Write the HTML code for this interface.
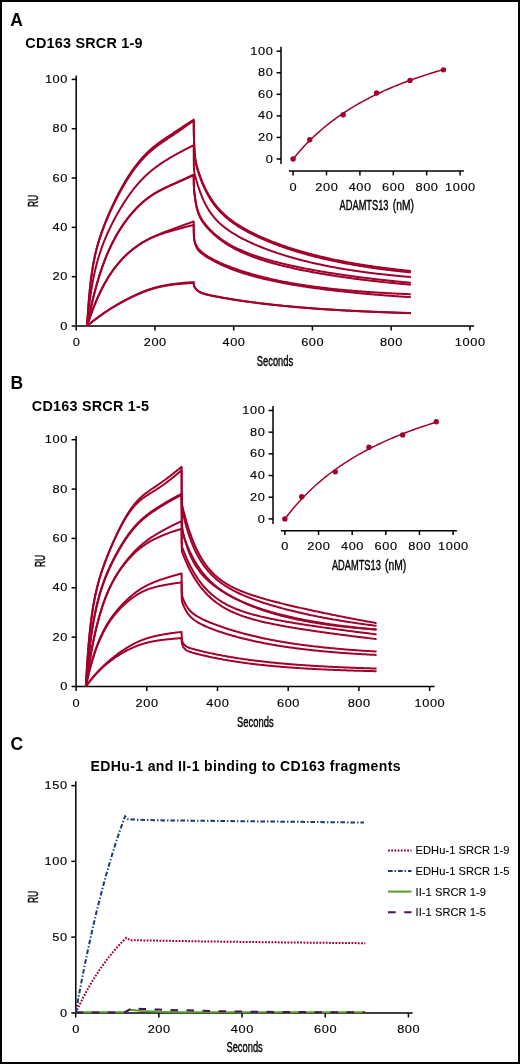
<!DOCTYPE html>
<html><head><meta charset="utf-8"><style>
html,body{margin:0;padding:0;background:#fff;}
#f{position:relative;width:520px;height:1064px;overflow:hidden;background:#fff;}
#f svg{position:absolute;left:0;top:0;will-change:transform;}
#bd{position:absolute;left:0;top:0;width:520px;height:1064px;box-sizing:border-box;border:2px solid #000;}
text{font-family:"Liberation Sans", sans-serif;fill:#000;}
</style></head><body><div id="f">
<svg width="520" height="1064" viewBox="0 0 520 1064">
<text x="10.3" y="25.7" font-size="17.5" font-weight="bold">A</text>
<text x="25.3" y="48" font-size="14.4" font-weight="bold" letter-spacing="0.22">CD163 SRCR 1-9</text>
<line x1="76.2" y1="75.4" x2="76.2" y2="326" stroke="#000" stroke-width="1.5" fill="none"/>
<line x1="71.7" y1="326" x2="76.2" y2="326" stroke="#000" stroke-width="1.5" fill="none"/>
<text transform="translate(68 329.6) scale(1.1 1)" font-size="11.6" text-anchor="end" letter-spacing="0.55" stroke="#000" stroke-width="0.15">0</text>
<line x1="71.7" y1="276.68" x2="76.2" y2="276.68" stroke="#000" stroke-width="1.5" fill="none"/>
<text transform="translate(68 280.28) scale(1.1 1)" font-size="11.6" text-anchor="end" letter-spacing="0.55" stroke="#000" stroke-width="0.15">20</text>
<line x1="71.7" y1="227.36" x2="76.2" y2="227.36" stroke="#000" stroke-width="1.5" fill="none"/>
<text transform="translate(68 230.96) scale(1.1 1)" font-size="11.6" text-anchor="end" letter-spacing="0.55" stroke="#000" stroke-width="0.15">40</text>
<line x1="71.7" y1="178.04" x2="76.2" y2="178.04" stroke="#000" stroke-width="1.5" fill="none"/>
<text transform="translate(68 181.64) scale(1.1 1)" font-size="11.6" text-anchor="end" letter-spacing="0.55" stroke="#000" stroke-width="0.15">60</text>
<line x1="71.7" y1="128.72" x2="76.2" y2="128.72" stroke="#000" stroke-width="1.5" fill="none"/>
<text transform="translate(68 132.32) scale(1.1 1)" font-size="11.6" text-anchor="end" letter-spacing="0.55" stroke="#000" stroke-width="0.15">80</text>
<line x1="71.7" y1="79.4" x2="76.2" y2="79.4" stroke="#000" stroke-width="1.5" fill="none"/>
<text transform="translate(68 83) scale(1.1 1)" font-size="11.6" text-anchor="end" letter-spacing="0.55" stroke="#000" stroke-width="0.15">100</text>
<line x1="76.2" y1="326" x2="474.1" y2="326" stroke="#000" stroke-width="1.5" fill="none"/>
<line x1="76.2" y1="326" x2="76.2" y2="330.5" stroke="#000" stroke-width="1.5" fill="none"/>
<text transform="translate(76.5 346.1) scale(1.1 1)" font-size="11.6" text-anchor="middle" letter-spacing="0.55" stroke="#000" stroke-width="0.15">0</text>
<line x1="154.94" y1="326" x2="154.94" y2="330.5" stroke="#000" stroke-width="1.5" fill="none"/>
<text transform="translate(155.24 346.1) scale(1.1 1)" font-size="11.6" text-anchor="middle" letter-spacing="0.55" stroke="#000" stroke-width="0.15">200</text>
<line x1="233.68" y1="326" x2="233.68" y2="330.5" stroke="#000" stroke-width="1.5" fill="none"/>
<text transform="translate(233.98 346.1) scale(1.1 1)" font-size="11.6" text-anchor="middle" letter-spacing="0.55" stroke="#000" stroke-width="0.15">400</text>
<line x1="312.42" y1="326" x2="312.42" y2="330.5" stroke="#000" stroke-width="1.5" fill="none"/>
<text transform="translate(312.72 346.1) scale(1.1 1)" font-size="11.6" text-anchor="middle" letter-spacing="0.55" stroke="#000" stroke-width="0.15">600</text>
<line x1="391.16" y1="326" x2="391.16" y2="330.5" stroke="#000" stroke-width="1.5" fill="none"/>
<text transform="translate(391.46 346.1) scale(1.1 1)" font-size="11.6" text-anchor="middle" letter-spacing="0.55" stroke="#000" stroke-width="0.15">800</text>
<line x1="469.9" y1="326" x2="469.9" y2="330.5" stroke="#000" stroke-width="1.5" fill="none"/>
<text transform="translate(470.2 346.1) scale(1.1 1)" font-size="11.6" text-anchor="middle" letter-spacing="0.55" stroke="#000" stroke-width="0.15">1000</text>
<g fill="none" stroke="#a1002b" stroke-width="2.0" stroke-linejoin="round" stroke-linecap="butt">
<path d="M87.11 326 L87.3 322.57 L87.5 319.3 L87.7 316.17 L87.89 313.17 L88.09 310.3 L88.29 307.55 L88.48 304.92 L88.68 302.39 L88.88 299.97 L89.07 297.64 L89.27 295.41 L89.47 293.27 L89.66 291.21 L89.86 289.23 L90.06 287.32 L90.26 285.49 L90.45 283.71 L90.65 282.01 L90.85 280.36 L91.04 278.77 L91.24 277.23 L91.44 275.75 L91.63 274.31 L91.83 272.92 L92.03 271.57 L92.22 270.27 L92.42 269 L92.62 267.77 L92.81 266.58 L93.01 265.42 L93.21 264.3 L93.4 263.2 L93.6 262.13 L93.8 261.09 L94 260.08 L94.19 259.09 L94.39 258.12 L94.59 257.18 L94.78 256.26 L94.98 255.36 L95.18 254.47 L95.37 253.61 L95.57 252.76 L95.77 251.94 L95.96 251.12 L96.16 250.32 L96.36 249.54 L96.55 248.77 L96.75 248.01 L96.95 247.27 L97.14 246.53 L97.34 245.81 L97.54 245.1 L97.74 244.4 L97.93 243.71 L98.13 243.03 L98.33 242.36 L98.52 241.7 L98.72 241.04 L98.92 240.39 L99.11 239.76 L99.31 239.12 L99.51 238.5 L99.7 237.88 L99.82 237.52 L100.22 236.31 L100.61 235.12 L101 233.96 L101.4 232.82 L101.79 231.7 L102.18 230.59 L102.58 229.5 L102.97 228.43 L103.37 227.37 L103.76 226.32 L104.15 225.29 L104.55 224.27 L104.94 223.26 L105.33 222.27 L105.73 221.28 L106.12 220.3 L106.51 219.34 L106.91 218.38 L107.3 217.43 L107.7 216.49 L108.09 215.56 L108.48 214.64 L108.88 213.73 L109.27 212.82 L109.66 211.92 L110.06 211.03 L110.45 210.15 L110.85 209.27 L111.24 208.4 L111.63 207.54 L112.03 206.68 L112.42 205.83 L112.81 204.99 L113.21 204.15 L113.6 203.32 L114 202.5 L114.39 201.68 L114.78 200.87 L115.18 200.07 L115.57 199.27 L115.96 198.47 L116.36 197.69 L116.75 196.91 L117.14 196.13 L117.54 195.36 L117.93 194.6 L118.33 193.84 L118.72 193.08 L119.11 192.34 L119.51 191.59 L119.9 190.86 L120.29 190.13 L120.69 189.4 L121.08 188.68 L121.48 187.97 L121.87 187.26 L122.26 186.55 L122.66 185.85 L123.05 185.16 L123.44 184.47 L123.84 183.79 L124.23 183.11 L124.63 182.44 L125.02 181.77 L125.41 181.11 L125.81 180.46 L126.2 179.81 L126.59 179.16 L126.99 178.52 L127.38 177.89 L127.77 177.26 L128.17 176.63 L128.56 176.01 L128.96 175.4 L129.35 174.79 L129.74 174.19 L130.14 173.59 L130.53 173 L130.92 172.41 L131.32 171.83 L131.71 171.26 L132.11 170.69 L132.5 170.12 L132.89 169.56 L133.29 169.01 L133.68 168.46 L134.07 167.92 L134.47 167.38 L134.86 166.85 L135.25 166.32 L135.65 165.79 L136.04 165.28 L136.44 164.77 L136.83 164.26 L137.22 163.76 L137.62 163.26 L138.01 162.77 L138.4 162.28 L138.8 161.8 L139.19 161.32 L139.59 160.85 L139.98 160.38 L140.37 159.92 L140.77 159.46 L141.16 159.01 L141.55 158.56 L141.95 158.11 L142.34 157.68 L142.74 157.24 L143.13 156.81 L143.52 156.39 L143.92 155.97 L144.31 155.55 L144.7 155.14 L145.1 154.73 L145.49 154.33 L145.88 153.94 L146.28 153.54 L146.67 153.15 L147.07 152.77 L147.46 152.39 L147.85 152.01 L148.25 151.64 L148.64 151.27 L149.03 150.91 L149.43 150.55 L149.82 150.19 L150.22 149.84 L150.61 149.49 L151 149.14 L151.4 148.8 L151.79 148.46 L152.18 148.12 L152.58 147.79 L152.97 147.46 L153.37 147.14 L153.76 146.82 L154.15 146.5 L154.55 146.18 L154.94 145.86 L155.33 145.55 L155.73 145.25 L156.12 144.94 L156.51 144.64 L156.91 144.34 L157.3 144.04 L157.7 143.74 L158.09 143.45 L158.48 143.16 L158.88 142.87 L159.27 142.58 L159.66 142.29 L160.06 142.01 L160.45 141.73 L160.85 141.45 L161.24 141.17 L161.63 140.9 L162.03 140.62 L162.42 140.35 L162.81 140.07 L163.21 139.8 L163.6 139.53 L164 139.26 L164.39 139 L164.78 138.73 L165.18 138.46 L165.57 138.2 L165.96 137.93 L166.36 137.67 L166.75 137.41 L167.14 137.14 L167.54 136.88 L167.93 136.62 L168.33 136.36 L168.72 136.09 L169.11 135.83 L169.51 135.57 L169.9 135.31 L170.29 135.05 L170.69 134.79 L171.08 134.53 L171.48 134.27 L171.87 134.01 L172.26 133.75 L172.66 133.49 L173.05 133.23 L173.44 132.97 L173.84 132.71 L174.23 132.45 L174.62 132.19 L175.02 131.93 L175.41 131.67 L175.81 131.41 L176.2 131.15 L176.59 130.89 L176.99 130.63 L177.38 130.36 L177.77 130.1 L178.17 129.84 L178.56 129.58 L178.96 129.32 L179.35 129.06 L179.74 128.8 L180.14 128.53 L180.53 128.27 L180.92 128.01 L181.32 127.75 L181.71 127.49 L182.11 127.22 L182.5 126.96 L182.89 126.7 L183.29 126.44 L183.68 126.18 L184.07 125.92 L184.47 125.65 L184.86 125.39 L185.25 125.13 L185.65 124.87 L186.04 124.61 L186.44 124.35 L186.83 124.09 L187.22 123.83 L187.62 123.57 L188.01 123.31 L188.4 123.05 L188.8 122.79 L189.19 122.54 L189.59 122.28 L189.98 122.02 L190.37 121.77 L190.77 121.51 L191.16 121.26 L191.55 121.01 L191.95 120.76 L192.34 120.51 L192.74 120.26 L193.13 120.01 L193.52 119.76 L193.68 119.66 L193.68 119.66 L193.78 128.9 L193.88 134.77 L193.98 138.94 L194.07 142.17 L194.17 144.83 L194.27 147.1 L194.37 149.06 L194.47 150.79 L194.57 152.33 L194.66 153.69 L194.76 154.92 L194.86 156.02 L194.96 157.02 L195.06 157.94 L195.16 158.77 L195.25 159.53 L195.35 160.24 L195.45 160.9 L195.55 161.51 L195.65 162.09 L195.75 162.63 L195.85 163.15 L195.94 163.64 L196.04 164.1 L196.14 164.55 L196.24 164.99 L196.34 165.41 L196.44 165.81 L196.53 166.21 L196.63 166.59 L196.73 166.97 L196.83 167.34 L196.93 167.7 L197.03 168.05 L197.12 168.4 L197.22 168.74 L197.32 169.08 L197.42 169.42 L197.52 169.75 L197.62 170.08 L197.72 170.4 L197.81 170.72 L197.91 171.04 L198.01 171.35 L198.11 171.67 L198.21 171.98 L198.31 172.28 L198.4 172.59 L198.8 173.79 L199.19 174.95 L199.59 176.09 L199.98 177.2 L200.37 178.28 L200.77 179.34 L201.16 180.37 L201.55 181.38 L201.95 182.37 L202.34 183.34 L202.74 184.28 L203.13 185.2 L203.52 186.11 L203.92 186.99 L204.31 187.85 L204.7 188.7 L205.1 189.53 L205.49 190.34 L205.88 191.13 L206.28 191.91 L206.67 192.67 L207.07 193.42 L207.46 194.15 L207.85 194.87 L208.25 195.57 L208.64 196.26 L209.03 196.93 L209.43 197.59 L209.82 198.24 L210.22 198.88 L210.61 199.51 L211 200.12 L211.4 200.72 L211.79 201.31 L212.18 201.89 L212.58 202.46 L212.97 203.02 L213.37 203.57 L213.76 204.11 L214.15 204.64 L214.55 205.17 L214.94 205.68 L215.33 206.19 L215.73 206.68 L216.12 207.17 L216.51 207.65 L216.91 208.12 L217.3 208.59 L218.48 209.94 L219.66 211.24 L220.85 212.48 L222.03 213.66 L223.21 214.8 L224.39 215.9 L225.57 216.95 L226.75 217.97 L227.93 218.95 L229.11 219.9 L230.29 220.82 L231.48 221.71 L232.66 222.58 L233.84 223.42 L235.02 224.23 L236.2 225.03 L237.38 225.8 L238.56 226.56 L239.74 227.3 L240.92 228.02 L242.11 228.72 L243.29 229.41 L244.47 230.09 L245.65 230.75 L246.83 231.4 L248.01 232.04 L249.19 232.67 L250.37 233.28 L251.55 233.88 L252.74 234.48 L253.92 235.06 L255.1 235.63 L256.28 236.2 L257.46 236.76 L258.64 237.3 L259.82 237.84 L261 238.37 L262.18 238.9 L263.36 239.42 L264.55 239.92 L265.73 240.43 L266.91 240.92 L268.09 241.41 L269.27 241.89 L270.45 242.37 L271.63 242.84 L272.81 243.3 L273.99 243.76 L275.18 244.21 L276.36 244.66 L277.54 245.1 L278.72 245.53 L279.9 245.96 L281.08 246.39 L282.26 246.81 L283.44 247.22 L284.62 247.63 L285.81 248.03 L286.99 248.43 L288.17 248.83 L289.35 249.22 L290.53 249.6 L291.71 249.98 L292.89 250.36 L294.07 250.73 L295.25 251.1 L296.44 251.46 L297.62 251.82 L298.8 252.18 L299.98 252.53 L301.16 252.87 L302.34 253.21 L303.52 253.55 L304.7 253.89 L305.88 254.22 L307.07 254.54 L308.25 254.87 L309.43 255.19 L310.61 255.5 L311.79 255.81 L312.97 256.12 L314.15 256.43 L315.33 256.73 L316.51 257.03 L317.7 257.32 L318.88 257.61 L320.06 257.9 L321.24 258.18 L322.42 258.46 L323.6 258.74 L324.78 259.02 L325.96 259.29 L327.14 259.55 L328.33 259.82 L329.51 260.08 L330.69 260.34 L331.87 260.6 L333.05 260.85 L334.23 261.1 L335.41 261.35 L336.59 261.59 L337.77 261.83 L338.96 262.07 L340.14 262.31 L341.32 262.54 L342.5 262.77 L343.68 263 L344.86 263.23 L346.04 263.45 L347.22 263.67 L348.4 263.89 L349.59 264.11 L350.77 264.32 L351.95 264.53 L353.13 264.74 L354.31 264.94 L355.49 265.15 L356.67 265.35 L357.85 265.55 L359.03 265.74 L360.22 265.94 L361.4 266.13 L362.58 266.32 L363.76 266.51 L364.94 266.69 L366.12 266.87 L367.3 267.06 L368.48 267.24 L369.66 267.41 L370.85 267.59 L372.03 267.76 L373.21 267.93 L374.39 268.1 L375.57 268.27 L376.75 268.43 L377.93 268.6 L379.11 268.76 L380.29 268.92 L381.47 269.08 L382.66 269.23 L383.84 269.39 L385.02 269.54 L386.2 269.69 L387.38 269.84 L388.56 269.99 L389.74 270.13 L390.92 270.28 L392.1 270.42 L393.29 270.56 L394.47 270.7 L395.65 270.84 L396.83 270.97 L398.01 271.11 L399.19 271.24 L400.37 271.37 L401.55 271.5 L402.73 271.63 L403.92 271.75 L405.1 271.88 L406.28 272 L407.46 272.13 L408.64 272.25 L409.82 272.37 L410.84 272.47"/>
<path d="M87.11 326 L87.3 322.64 L87.5 319.42 L87.7 316.34 L87.89 313.39 L88.09 310.56 L88.29 307.85 L88.48 305.25 L88.68 302.76 L88.88 300.36 L89.07 298.06 L89.27 295.85 L89.47 293.73 L89.66 291.68 L89.86 289.72 L90.06 287.82 L90.26 286 L90.45 284.24 L90.65 282.54 L90.85 280.9 L91.04 279.32 L91.24 277.78 L91.44 276.3 L91.63 274.87 L91.83 273.49 L92.03 272.14 L92.22 270.84 L92.42 269.58 L92.62 268.35 L92.81 267.16 L93.01 266.01 L93.21 264.88 L93.4 263.79 L93.6 262.72 L93.8 261.69 L94 260.67 L94.19 259.69 L94.39 258.73 L94.59 257.79 L94.78 256.87 L94.98 255.97 L95.18 255.09 L95.37 254.23 L95.57 253.39 L95.77 252.56 L95.96 251.75 L96.16 250.96 L96.36 250.18 L96.55 249.41 L96.75 248.66 L96.95 247.92 L97.14 247.19 L97.34 246.48 L97.54 245.77 L97.74 245.08 L97.93 244.39 L98.13 243.72 L98.33 243.06 L98.52 242.4 L98.72 241.75 L98.92 241.11 L99.11 240.48 L99.31 239.86 L99.51 239.24 L99.7 238.63 L99.82 238.27 L100.22 237.07 L100.61 235.9 L101 234.76 L101.4 233.63 L101.79 232.53 L102.18 231.44 L102.58 230.36 L102.97 229.31 L103.37 228.27 L103.76 227.24 L104.15 226.22 L104.55 225.22 L104.94 224.23 L105.33 223.25 L105.73 222.28 L106.12 221.32 L106.51 220.37 L106.91 219.42 L107.3 218.49 L107.7 217.57 L108.09 216.65 L108.48 215.74 L108.88 214.84 L109.27 213.95 L109.66 213.07 L110.06 212.19 L110.45 211.32 L110.85 210.45 L111.24 209.6 L111.63 208.75 L112.03 207.9 L112.42 207.07 L112.81 206.23 L113.21 205.41 L113.6 204.59 L114 203.78 L114.39 202.97 L114.78 202.17 L115.18 201.38 L115.57 200.59 L115.96 199.8 L116.36 199.02 L116.75 198.25 L117.14 197.48 L117.54 196.72 L117.93 195.97 L118.33 195.22 L118.72 194.47 L119.11 193.73 L119.51 193 L119.9 192.27 L120.29 191.54 L120.69 190.83 L121.08 190.11 L121.48 189.4 L121.87 188.7 L122.26 188 L122.66 187.31 L123.05 186.63 L123.44 185.94 L123.84 185.27 L124.23 184.6 L124.63 183.93 L125.02 183.27 L125.41 182.61 L125.81 181.96 L126.2 181.32 L126.59 180.68 L126.99 180.04 L127.38 179.41 L127.77 178.79 L128.17 178.17 L128.56 177.56 L128.96 176.95 L129.35 176.35 L129.74 175.75 L130.14 175.16 L130.53 174.57 L130.92 173.99 L131.32 173.41 L131.71 172.84 L132.11 172.27 L132.5 171.71 L132.89 171.16 L133.29 170.61 L133.68 170.06 L134.07 169.53 L134.47 168.99 L134.86 168.46 L135.25 167.94 L135.65 167.42 L136.04 166.91 L136.44 166.4 L136.83 165.9 L137.22 165.4 L137.62 164.91 L138.01 164.42 L138.4 163.94 L138.8 163.46 L139.19 162.99 L139.59 162.52 L139.98 162.06 L140.37 161.6 L140.77 161.15 L141.16 160.7 L141.55 160.25 L141.95 159.82 L142.34 159.38 L142.74 158.95 L143.13 158.53 L143.52 158.11 L143.92 157.69 L144.31 157.28 L144.7 156.87 L145.1 156.47 L145.49 156.08 L145.88 155.68 L146.28 155.29 L146.67 154.91 L147.07 154.53 L147.46 154.15 L147.85 153.78 L148.25 153.41 L148.64 153.05 L149.03 152.69 L149.43 152.33 L149.82 151.98 L150.22 151.63 L150.61 151.29 L151 150.95 L151.4 150.61 L151.79 150.27 L152.18 149.94 L152.58 149.62 L152.97 149.29 L153.37 148.97 L153.76 148.65 L154.15 148.34 L154.55 148.02 L154.94 147.71 L155.33 147.41 L155.73 147.1 L156.12 146.8 L156.51 146.5 L156.91 146.2 L157.3 145.91 L157.7 145.62 L158.09 145.32 L158.48 145.04 L158.88 144.75 L159.27 144.47 L159.66 144.18 L160.06 143.9 L160.45 143.62 L160.85 143.35 L161.24 143.07 L161.63 142.8 L162.03 142.52 L162.42 142.25 L162.81 141.98 L163.21 141.71 L163.6 141.44 L164 141.17 L164.39 140.91 L164.78 140.64 L165.18 140.38 L165.57 140.11 L165.96 139.85 L166.36 139.58 L166.75 139.32 L167.14 139.06 L167.54 138.79 L167.93 138.53 L168.33 138.27 L168.72 138 L169.11 137.74 L169.51 137.48 L169.9 137.21 L170.29 136.95 L170.69 136.69 L171.08 136.42 L171.48 136.16 L171.87 135.89 L172.26 135.63 L172.66 135.36 L173.05 135.1 L173.44 134.83 L173.84 134.57 L174.23 134.3 L174.62 134.04 L175.02 133.77 L175.41 133.5 L175.81 133.23 L176.2 132.96 L176.59 132.69 L176.99 132.42 L177.38 132.15 L177.77 131.88 L178.17 131.61 L178.56 131.34 L178.96 131.06 L179.35 130.79 L179.74 130.52 L180.14 130.24 L180.53 129.97 L180.92 129.69 L181.32 129.42 L181.71 129.14 L182.11 128.86 L182.5 128.58 L182.89 128.31 L183.29 128.03 L183.68 127.75 L184.07 127.47 L184.47 127.19 L184.86 126.91 L185.25 126.63 L185.65 126.35 L186.04 126.07 L186.44 125.79 L186.83 125.51 L187.22 125.23 L187.62 124.95 L188.01 124.66 L188.4 124.38 L188.8 124.1 L189.19 123.82 L189.59 123.54 L189.98 123.26 L190.37 122.98 L190.77 122.71 L191.16 122.43 L191.55 122.15 L191.95 121.87 L192.34 121.6 L192.74 121.33 L193.13 121.05 L193.52 120.78 L193.68 120.67 L193.68 120.67 L193.78 128.42 L193.88 133.65 L193.98 137.56 L194.07 140.7 L194.17 143.33 L194.27 145.58 L194.37 147.56 L194.47 149.29 L194.57 150.83 L194.66 152.21 L194.76 153.44 L194.86 154.55 L194.96 155.55 L195.06 156.46 L195.16 157.3 L195.25 158.06 L195.35 158.77 L195.45 159.43 L195.55 160.04 L195.65 160.62 L195.75 161.16 L195.85 161.67 L195.94 162.16 L196.04 162.63 L196.14 163.08 L196.24 163.51 L196.34 163.93 L196.44 164.34 L196.53 164.73 L196.63 165.12 L196.73 165.49 L196.83 165.86 L196.93 166.22 L197.03 166.58 L197.12 166.92 L197.22 167.27 L197.32 167.61 L197.42 167.94 L197.52 168.27 L197.62 168.6 L197.72 168.92 L197.81 169.24 L197.91 169.56 L198.01 169.88 L198.11 170.19 L198.21 170.5 L198.31 170.8 L198.4 171.11 L198.8 172.31 L199.19 173.47 L199.59 174.61 L199.98 175.72 L200.37 176.8 L200.77 177.86 L201.16 178.89 L201.55 179.9 L201.95 180.89 L202.34 181.86 L202.74 182.8 L203.13 183.72 L203.52 184.63 L203.92 185.51 L204.31 186.37 L204.7 187.22 L205.1 188.05 L205.49 188.86 L205.88 189.65 L206.28 190.43 L206.67 191.19 L207.07 191.94 L207.46 192.67 L207.85 193.39 L208.25 194.09 L208.64 194.78 L209.03 195.45 L209.43 196.11 L209.82 196.76 L210.22 197.4 L210.61 198.03 L211 198.64 L211.4 199.24 L211.79 199.83 L212.18 200.41 L212.58 200.98 L212.97 201.54 L213.37 202.09 L213.76 202.63 L214.15 203.16 L214.55 203.69 L214.94 204.2 L215.33 204.7 L215.73 205.2 L216.12 205.69 L216.51 206.17 L216.91 206.64 L217.3 207.11 L218.48 208.46 L219.66 209.76 L220.85 211 L222.03 212.18 L223.21 213.32 L224.39 214.42 L225.57 215.47 L226.75 216.49 L227.93 217.47 L229.11 218.42 L230.29 219.34 L231.48 220.23 L232.66 221.1 L233.84 221.94 L235.02 222.75 L236.2 223.55 L237.38 224.32 L238.56 225.08 L239.74 225.82 L240.92 226.54 L242.11 227.25 L243.29 227.94 L244.47 228.61 L245.65 229.27 L246.83 229.92 L248.01 230.56 L249.19 231.19 L250.37 231.8 L251.55 232.4 L252.74 233 L253.92 233.58 L255.1 234.16 L256.28 234.72 L257.46 235.28 L258.64 235.82 L259.82 236.36 L261 236.9 L262.18 237.42 L263.36 237.94 L264.55 238.45 L265.73 238.95 L266.91 239.44 L268.09 239.93 L269.27 240.41 L270.45 240.89 L271.63 241.36 L272.81 241.82 L273.99 242.28 L275.18 242.73 L276.36 243.18 L277.54 243.62 L278.72 244.05 L279.9 244.48 L281.08 244.91 L282.26 245.33 L283.44 245.74 L284.62 246.15 L285.81 246.55 L286.99 246.95 L288.17 247.35 L289.35 247.74 L290.53 248.12 L291.71 248.5 L292.89 248.88 L294.07 249.25 L295.25 249.62 L296.44 249.98 L297.62 250.34 L298.8 250.7 L299.98 251.05 L301.16 251.39 L302.34 251.73 L303.52 252.07 L304.7 252.41 L305.88 252.74 L307.07 253.06 L308.25 253.39 L309.43 253.71 L310.61 254.02 L311.79 254.33 L312.97 254.64 L314.15 254.95 L315.33 255.25 L316.51 255.55 L317.7 255.84 L318.88 256.13 L320.06 256.42 L321.24 256.7 L322.42 256.98 L323.6 257.26 L324.78 257.54 L325.96 257.81 L327.14 258.07 L328.33 258.34 L329.51 258.6 L330.69 258.86 L331.87 259.12 L333.05 259.37 L334.23 259.62 L335.41 259.87 L336.59 260.11 L337.77 260.35 L338.96 260.59 L340.14 260.83 L341.32 261.06 L342.5 261.29 L343.68 261.52 L344.86 261.75 L346.04 261.97 L347.22 262.19 L348.4 262.41 L349.59 262.63 L350.77 262.84 L351.95 263.05 L353.13 263.26 L354.31 263.46 L355.49 263.67 L356.67 263.87 L357.85 264.07 L359.03 264.26 L360.22 264.46 L361.4 264.65 L362.58 264.84 L363.76 265.03 L364.94 265.21 L366.12 265.4 L367.3 265.58 L368.48 265.76 L369.66 265.93 L370.85 266.11 L372.03 266.28 L373.21 266.45 L374.39 266.62 L375.57 266.79 L376.75 266.95 L377.93 267.12 L379.11 267.28 L380.29 267.44 L381.47 267.6 L382.66 267.75 L383.84 267.91 L385.02 268.06 L386.2 268.21 L387.38 268.36 L388.56 268.51 L389.74 268.65 L390.92 268.8 L392.1 268.94 L393.29 269.08 L394.47 269.22 L395.65 269.36 L396.83 269.49 L398.01 269.63 L399.19 269.76 L400.37 269.89 L401.55 270.02 L402.73 270.15 L403.92 270.28 L405.1 270.4 L406.28 270.52 L407.46 270.65 L408.64 270.77 L409.82 270.89 L410.84 270.99"/>
<path d="M87.11 326 L87.3 323.82 L87.5 321.7 L87.7 319.64 L87.89 317.64 L88.09 315.7 L88.29 313.81 L88.48 311.97 L88.68 310.18 L88.88 308.44 L89.07 306.74 L89.27 305.09 L89.47 303.48 L89.66 301.92 L89.86 300.39 L90.06 298.9 L90.26 297.45 L90.45 296.04 L90.65 294.66 L90.85 293.31 L91.04 291.99 L91.24 290.71 L91.44 289.45 L91.63 288.23 L91.83 287.03 L92.03 285.85 L92.22 284.71 L92.42 283.58 L92.62 282.48 L92.81 281.41 L93.01 280.35 L93.21 279.32 L93.4 278.31 L93.6 277.32 L93.8 276.35 L94 275.39 L94.19 274.46 L94.39 273.54 L94.59 272.64 L94.78 271.75 L94.98 270.88 L95.18 270.03 L95.37 269.19 L95.57 268.36 L95.77 267.55 L95.96 266.75 L96.16 265.96 L96.36 265.19 L96.55 264.42 L96.75 263.67 L96.95 262.93 L97.14 262.2 L97.34 261.49 L97.54 260.78 L97.74 260.08 L97.93 259.39 L98.13 258.71 L98.33 258.04 L98.52 257.38 L98.72 256.72 L98.92 256.08 L99.11 255.44 L99.31 254.81 L99.51 254.19 L99.7 253.57 L99.82 253.21 L100.22 252 L100.61 250.83 L101 249.68 L101.4 248.55 L101.79 247.44 L102.18 246.36 L102.58 245.3 L102.97 244.25 L103.37 243.22 L103.76 242.21 L104.15 241.22 L104.55 240.24 L104.94 239.27 L105.33 238.32 L105.73 237.39 L106.12 236.46 L106.51 235.55 L106.91 234.65 L107.3 233.76 L107.7 232.89 L108.09 232.02 L108.48 231.17 L108.88 230.32 L109.27 229.48 L109.66 228.65 L110.06 227.83 L110.45 227.02 L110.85 226.22 L111.24 225.42 L111.63 224.63 L112.03 223.84 L112.42 223.07 L112.81 222.3 L113.21 221.53 L113.6 220.77 L114 220.02 L114.39 219.28 L114.78 218.54 L115.18 217.8 L115.57 217.07 L115.96 216.35 L116.36 215.63 L116.75 214.92 L117.14 214.21 L117.54 213.51 L117.93 212.82 L118.33 212.13 L118.72 211.44 L119.11 210.76 L119.51 210.08 L119.9 209.41 L120.29 208.75 L120.69 208.09 L121.08 207.43 L121.48 206.78 L121.87 206.13 L122.26 205.49 L122.66 204.85 L123.05 204.22 L123.44 203.6 L123.84 202.97 L124.23 202.36 L124.63 201.75 L125.02 201.14 L125.41 200.54 L125.81 199.94 L126.2 199.34 L126.59 198.76 L126.99 198.17 L127.38 197.59 L127.77 197.02 L128.17 196.45 L128.56 195.89 L128.96 195.33 L129.35 194.77 L129.74 194.22 L130.14 193.68 L130.53 193.14 L130.92 192.6 L131.32 192.07 L131.71 191.55 L132.11 191.02 L132.5 190.51 L132.89 189.99 L133.29 189.49 L133.68 188.98 L134.07 188.49 L134.47 187.99 L134.86 187.5 L135.25 187.02 L135.65 186.54 L136.04 186.06 L136.44 185.59 L136.83 185.13 L137.22 184.66 L137.62 184.21 L138.01 183.76 L138.4 183.31 L138.8 182.86 L139.19 182.42 L139.59 181.99 L139.98 181.56 L140.37 181.13 L140.77 180.71 L141.16 180.29 L141.55 179.87 L141.95 179.46 L142.34 179.06 L142.74 178.65 L143.13 178.25 L143.52 177.86 L143.92 177.47 L144.31 177.08 L144.7 176.69 L145.1 176.31 L145.49 175.94 L145.88 175.57 L146.28 175.2 L146.67 174.83 L147.07 174.47 L147.46 174.11 L147.85 173.75 L148.25 173.4 L148.64 173.05 L149.03 172.71 L149.43 172.36 L149.82 172.02 L150.22 171.69 L150.61 171.35 L151 171.02 L151.4 170.7 L151.79 170.37 L152.18 170.05 L152.58 169.73 L152.97 169.42 L153.37 169.1 L153.76 168.79 L154.15 168.48 L154.55 168.18 L154.94 167.87 L155.33 167.57 L155.73 167.28 L156.12 166.98 L156.51 166.69 L156.91 166.4 L157.3 166.11 L157.7 165.82 L158.09 165.54 L158.48 165.26 L158.88 164.98 L159.27 164.7 L159.66 164.43 L160.06 164.15 L160.45 163.88 L160.85 163.61 L161.24 163.35 L161.63 163.08 L162.03 162.82 L162.42 162.56 L162.81 162.3 L163.21 162.04 L163.6 161.79 L164 161.53 L164.39 161.28 L164.78 161.03 L165.18 160.78 L165.57 160.53 L165.96 160.29 L166.36 160.04 L166.75 159.8 L167.14 159.56 L167.54 159.32 L167.93 159.08 L168.33 158.84 L168.72 158.61 L169.11 158.37 L169.51 158.14 L169.9 157.9 L170.29 157.67 L170.69 157.44 L171.08 157.21 L171.48 156.99 L171.87 156.76 L172.26 156.53 L172.66 156.31 L173.05 156.08 L173.44 155.86 L173.84 155.64 L174.23 155.41 L174.62 155.19 L175.02 154.97 L175.41 154.75 L175.81 154.53 L176.2 154.31 L176.59 154.1 L176.99 153.88 L177.38 153.66 L177.77 153.45 L178.17 153.23 L178.56 153.02 L178.96 152.81 L179.35 152.59 L179.74 152.38 L180.14 152.17 L180.53 151.96 L180.92 151.75 L181.32 151.54 L181.71 151.33 L182.11 151.12 L182.5 150.91 L182.89 150.7 L183.29 150.49 L183.68 150.28 L184.07 150.08 L184.47 149.87 L184.86 149.66 L185.25 149.46 L185.65 149.25 L186.04 149.05 L186.44 148.85 L186.83 148.65 L187.22 148.45 L187.62 148.24 L188.01 148.05 L188.4 147.85 L188.8 147.65 L189.19 147.45 L189.59 147.26 L189.98 147.06 L190.37 146.87 L190.77 146.67 L191.16 146.48 L191.55 146.29 L191.95 146.1 L192.34 145.91 L192.74 145.72 L193.13 145.53 L193.52 145.35 L193.68 145.28 L193.68 145.28 L193.78 159.31 L193.88 165.66 L193.98 168.66 L194.07 170.2 L194.17 171.11 L194.27 171.74 L194.37 172.25 L194.47 172.7 L194.57 173.13 L194.66 173.54 L194.76 173.95 L194.86 174.35 L194.96 174.75 L195.06 175.15 L195.16 175.54 L195.25 175.93 L195.35 176.31 L195.45 176.7 L195.55 177.08 L195.65 177.46 L195.75 177.83 L195.85 178.2 L195.94 178.57 L196.04 178.94 L196.14 179.3 L196.24 179.66 L196.34 180.02 L196.44 180.38 L196.53 180.73 L196.63 181.08 L196.73 181.43 L196.83 181.77 L196.93 182.12 L197.03 182.46 L197.12 182.79 L197.22 183.13 L197.32 183.46 L197.42 183.79 L197.52 184.12 L197.62 184.45 L197.72 184.77 L197.81 185.09 L197.91 185.41 L198.01 185.73 L198.11 186.04 L198.21 186.35 L198.31 186.66 L198.4 186.97 L198.8 188.18 L199.19 189.35 L199.59 190.49 L199.98 191.6 L200.37 192.68 L200.77 193.73 L201.16 194.75 L201.55 195.74 L201.95 196.71 L202.34 197.65 L202.74 198.56 L203.13 199.46 L203.52 200.33 L203.92 201.17 L204.31 202 L204.7 202.8 L205.1 203.59 L205.49 204.35 L205.88 205.1 L206.28 205.83 L206.67 206.54 L207.07 207.24 L207.46 207.91 L207.85 208.58 L208.25 209.22 L208.64 209.86 L209.03 210.48 L209.43 211.08 L209.82 211.67 L210.22 212.25 L210.61 212.82 L211 213.37 L211.4 213.91 L211.79 214.44 L212.18 214.97 L212.58 215.48 L212.97 215.98 L213.37 216.47 L213.76 216.95 L214.15 217.42 L214.55 217.88 L214.94 218.33 L215.33 218.78 L215.73 219.22 L216.12 219.65 L216.51 220.07 L216.91 220.49 L217.3 220.89 L218.48 222.08 L219.66 223.21 L220.85 224.28 L222.03 225.31 L223.21 226.3 L224.39 227.25 L225.57 228.16 L226.75 229.04 L227.93 229.89 L229.11 230.71 L230.29 231.51 L231.48 232.29 L232.66 233.04 L233.84 233.77 L235.02 234.48 L236.2 235.18 L237.38 235.85 L238.56 236.52 L239.74 237.17 L240.92 237.8 L242.11 238.42 L243.29 239.03 L244.47 239.63 L245.65 240.22 L246.83 240.79 L248.01 241.36 L249.19 241.92 L250.37 242.46 L251.55 243 L252.74 243.53 L253.92 244.05 L255.1 244.57 L256.28 245.07 L257.46 245.57 L258.64 246.07 L259.82 246.55 L261 247.03 L262.18 247.5 L263.36 247.96 L264.55 248.42 L265.73 248.88 L266.91 249.32 L268.09 249.76 L269.27 250.2 L270.45 250.63 L271.63 251.05 L272.81 251.47 L273.99 251.88 L275.18 252.29 L276.36 252.69 L277.54 253.09 L278.72 253.48 L279.9 253.86 L281.08 254.25 L282.26 254.62 L283.44 255 L284.62 255.36 L285.81 255.73 L286.99 256.09 L288.17 256.44 L289.35 256.79 L290.53 257.14 L291.71 257.48 L292.89 257.82 L294.07 258.15 L295.25 258.48 L296.44 258.8 L297.62 259.12 L298.8 259.44 L299.98 259.75 L301.16 260.06 L302.34 260.37 L303.52 260.67 L304.7 260.97 L305.88 261.26 L307.07 261.55 L308.25 261.84 L309.43 262.12 L310.61 262.4 L311.79 262.68 L312.97 262.95 L314.15 263.22 L315.33 263.49 L316.51 263.75 L317.7 264.01 L318.88 264.27 L320.06 264.52 L321.24 264.77 L322.42 265.02 L323.6 265.27 L324.78 265.51 L325.96 265.75 L327.14 265.98 L328.33 266.21 L329.51 266.44 L330.69 266.67 L331.87 266.9 L333.05 267.12 L334.23 267.34 L335.41 267.55 L336.59 267.77 L337.77 267.98 L338.96 268.19 L340.14 268.39 L341.32 268.59 L342.5 268.8 L343.68 268.99 L344.86 269.19 L346.04 269.38 L347.22 269.57 L348.4 269.76 L349.59 269.95 L350.77 270.13 L351.95 270.32 L353.13 270.5 L354.31 270.67 L355.49 270.85 L356.67 271.02 L357.85 271.19 L359.03 271.36 L360.22 271.53 L361.4 271.69 L362.58 271.86 L363.76 272.02 L364.94 272.18 L366.12 272.33 L367.3 272.49 L368.48 272.64 L369.66 272.79 L370.85 272.94 L372.03 273.09 L373.21 273.24 L374.39 273.38 L375.57 273.52 L376.75 273.66 L377.93 273.8 L379.11 273.94 L380.29 274.08 L381.47 274.21 L382.66 274.34 L383.84 274.47 L385.02 274.6 L386.2 274.73 L387.38 274.85 L388.56 274.98 L389.74 275.1 L390.92 275.22 L392.1 275.34 L393.29 275.46 L394.47 275.58 L395.65 275.69 L396.83 275.81 L398.01 275.92 L399.19 276.03 L400.37 276.14 L401.55 276.25 L402.73 276.36 L403.92 276.46 L405.1 276.57 L406.28 276.67 L407.46 276.77 L408.64 276.87 L409.82 276.97 L410.84 277.06"/>
<path d="M87.11 326 L87.3 324.99 L87.5 323.98 L87.7 322.99 L87.89 322 L88.09 321.02 L88.29 320.04 L88.48 319.07 L88.68 318.11 L88.88 317.16 L89.07 316.21 L89.27 315.27 L89.47 314.34 L89.66 313.41 L89.86 312.49 L90.06 311.58 L90.26 310.67 L90.45 309.78 L90.65 308.89 L90.85 308.01 L91.04 307.13 L91.24 306.26 L91.44 305.4 L91.63 304.55 L91.83 303.7 L92.03 302.86 L92.22 302.02 L92.42 301.19 L92.62 300.37 L92.81 299.55 L93.01 298.74 L93.21 297.94 L93.4 297.14 L93.6 296.35 L93.8 295.57 L94 294.79 L94.19 294.01 L94.39 293.25 L94.59 292.48 L94.78 291.73 L94.98 290.98 L95.18 290.24 L95.37 289.5 L95.57 288.76 L95.77 288.04 L95.96 287.32 L96.16 286.6 L96.36 285.89 L96.55 285.19 L96.75 284.49 L96.95 283.79 L97.14 283.1 L97.34 282.42 L97.54 281.74 L97.74 281.07 L97.93 280.4 L98.13 279.74 L98.33 279.08 L98.52 278.43 L98.72 277.78 L98.92 277.14 L99.11 276.5 L99.31 275.87 L99.51 275.24 L99.7 274.62 L99.82 274.25 L100.22 273.02 L100.61 271.81 L101 270.63 L101.4 269.45 L101.79 268.3 L102.18 267.17 L102.58 266.05 L102.97 264.95 L103.37 263.86 L103.76 262.79 L104.15 261.74 L104.55 260.7 L104.94 259.68 L105.33 258.67 L105.73 257.67 L106.12 256.7 L106.51 255.73 L106.91 254.78 L107.3 253.84 L107.7 252.92 L108.09 252 L108.48 251.11 L108.88 250.22 L109.27 249.34 L109.66 248.48 L110.06 247.63 L110.45 246.79 L110.85 245.96 L111.24 245.14 L111.63 244.33 L112.03 243.54 L112.42 242.75 L112.81 241.97 L113.21 241.21 L113.6 240.45 L114 239.7 L114.39 238.96 L114.78 238.23 L115.18 237.51 L115.57 236.79 L115.96 236.09 L116.36 235.39 L116.75 234.71 L117.14 234.03 L117.54 233.35 L117.93 232.69 L118.33 232.03 L118.72 231.38 L119.11 230.74 L119.51 230.1 L119.9 229.48 L120.29 228.85 L120.69 228.24 L121.08 227.63 L121.48 227.03 L121.87 226.43 L122.26 225.84 L122.66 225.26 L123.05 224.68 L123.44 224.11 L123.84 223.55 L124.23 222.99 L124.63 222.44 L125.02 221.89 L125.41 221.34 L125.81 220.81 L126.2 220.28 L126.59 219.75 L126.99 219.23 L127.38 218.71 L127.77 218.2 L128.17 217.69 L128.56 217.19 L128.96 216.69 L129.35 216.2 L129.74 215.72 L130.14 215.23 L130.53 214.76 L130.92 214.28 L131.32 213.81 L131.71 213.35 L132.11 212.89 L132.5 212.44 L132.89 211.99 L133.29 211.54 L133.68 211.1 L134.07 210.66 L134.47 210.23 L134.86 209.8 L135.25 209.38 L135.65 208.96 L136.04 208.54 L136.44 208.13 L136.83 207.72 L137.22 207.32 L137.62 206.92 L138.01 206.53 L138.4 206.14 L138.8 205.75 L139.19 205.37 L139.59 204.99 L139.98 204.61 L140.37 204.24 L140.77 203.88 L141.16 203.52 L141.55 203.16 L141.95 202.8 L142.34 202.45 L142.74 202.11 L143.13 201.77 L143.52 201.43 L143.92 201.09 L144.31 200.76 L144.7 200.44 L145.1 200.12 L145.49 199.8 L145.88 199.48 L146.28 199.17 L146.67 198.87 L147.07 198.56 L147.46 198.26 L147.85 197.97 L148.25 197.68 L148.64 197.39 L149.03 197.1 L149.43 196.82 L149.82 196.54 L150.22 196.27 L150.61 196 L151 195.73 L151.4 195.46 L151.79 195.2 L152.18 194.94 L152.58 194.68 L152.97 194.43 L153.37 194.18 L153.76 193.94 L154.15 193.69 L154.55 193.45 L154.94 193.21 L155.33 192.98 L155.73 192.74 L156.12 192.51 L156.51 192.28 L156.91 192.06 L157.3 191.83 L157.7 191.61 L158.09 191.39 L158.48 191.18 L158.88 190.96 L159.27 190.75 L159.66 190.54 L160.06 190.33 L160.45 190.12 L160.85 189.92 L161.24 189.72 L161.63 189.51 L162.03 189.31 L162.42 189.12 L162.81 188.92 L163.21 188.72 L163.6 188.53 L164 188.34 L164.39 188.15 L164.78 187.95 L165.18 187.77 L165.57 187.58 L165.96 187.39 L166.36 187.2 L166.75 187.02 L167.14 186.83 L167.54 186.65 L167.93 186.47 L168.33 186.28 L168.72 186.1 L169.11 185.92 L169.51 185.74 L169.9 185.56 L170.29 185.38 L170.69 185.2 L171.08 185.02 L171.48 184.84 L171.87 184.66 L172.26 184.48 L172.66 184.3 L173.05 184.13 L173.44 183.95 L173.84 183.77 L174.23 183.59 L174.62 183.41 L175.02 183.23 L175.41 183.05 L175.81 182.87 L176.2 182.69 L176.59 182.51 L176.99 182.33 L177.38 182.15 L177.77 181.97 L178.17 181.79 L178.56 181.61 L178.96 181.43 L179.35 181.25 L179.74 181.07 L180.14 180.89 L180.53 180.71 L180.92 180.53 L181.32 180.34 L181.71 180.16 L182.11 179.98 L182.5 179.8 L182.89 179.61 L183.29 179.43 L183.68 179.25 L184.07 179.06 L184.47 178.88 L184.86 178.69 L185.25 178.51 L185.65 178.33 L186.04 178.14 L186.44 177.96 L186.83 177.78 L187.22 177.59 L187.62 177.41 L188.01 177.23 L188.4 177.04 L188.8 176.86 L189.19 176.68 L189.59 176.5 L189.98 176.31 L190.37 176.13 L190.77 175.95 L191.16 175.77 L191.55 175.59 L191.95 175.41 L192.34 175.23 L192.74 175.05 L193.13 174.87 L193.52 174.7 L193.68 174.63 L193.68 174.63 L193.78 181.52 L193.88 185.1 L193.98 187.23 L194.07 188.71 L194.17 189.88 L194.27 190.9 L194.37 191.84 L194.47 192.73 L194.57 193.58 L194.66 194.39 L194.76 195.17 L194.86 195.93 L194.96 196.66 L195.06 197.37 L195.16 198.05 L195.25 198.71 L195.35 199.35 L195.45 199.97 L195.55 200.57 L195.65 201.15 L195.75 201.71 L195.85 202.26 L195.94 202.78 L196.04 203.3 L196.14 203.79 L196.24 204.27 L196.34 204.74 L196.44 205.2 L196.53 205.64 L196.63 206.07 L196.73 206.49 L196.83 206.89 L196.93 207.29 L197.03 207.67 L197.12 208.05 L197.22 208.41 L197.32 208.77 L197.42 209.11 L197.52 209.45 L197.62 209.78 L197.72 210.1 L197.81 210.42 L197.91 210.72 L198.01 211.02 L198.11 211.32 L198.21 211.6 L198.31 211.88 L198.4 212.16 L198.8 213.2 L199.19 214.17 L199.59 215.06 L199.98 215.9 L200.37 216.69 L200.77 217.44 L201.16 218.15 L201.55 218.83 L201.95 219.47 L202.34 220.1 L202.74 220.7 L203.13 221.28 L203.52 221.84 L203.92 222.39 L204.31 222.92 L204.7 223.44 L205.1 223.95 L205.49 224.45 L205.88 224.94 L206.28 225.41 L206.67 225.88 L207.07 226.34 L207.46 226.79 L207.85 227.24 L208.25 227.68 L208.64 228.11 L209.03 228.53 L209.43 228.95 L209.82 229.36 L210.22 229.77 L210.61 230.17 L211 230.56 L211.4 230.95 L211.79 231.33 L212.18 231.71 L212.58 232.08 L212.97 232.45 L213.37 232.82 L213.76 233.17 L214.15 233.53 L214.55 233.88 L214.94 234.22 L215.33 234.56 L215.73 234.9 L216.12 235.23 L216.51 235.56 L216.91 235.89 L217.3 236.21 L218.48 237.15 L219.66 238.05 L220.85 238.93 L222.03 239.77 L223.21 240.59 L224.39 241.38 L225.57 242.14 L226.75 242.88 L227.93 243.6 L229.11 244.3 L230.29 244.97 L231.48 245.63 L232.66 246.26 L233.84 246.88 L235.02 247.48 L236.2 248.07 L237.38 248.64 L238.56 249.2 L239.74 249.74 L240.92 250.27 L242.11 250.78 L243.29 251.29 L244.47 251.78 L245.65 252.26 L246.83 252.73 L248.01 253.19 L249.19 253.64 L250.37 254.08 L251.55 254.51 L252.74 254.94 L253.92 255.35 L255.1 255.76 L256.28 256.16 L257.46 256.55 L258.64 256.94 L259.82 257.32 L261 257.69 L262.18 258.06 L263.36 258.42 L264.55 258.77 L265.73 259.12 L266.91 259.46 L268.09 259.8 L269.27 260.14 L270.45 260.47 L271.63 260.79 L272.81 261.11 L273.99 261.42 L275.18 261.74 L276.36 262.04 L277.54 262.34 L278.72 262.64 L279.9 262.94 L281.08 263.23 L282.26 263.52 L283.44 263.8 L284.62 264.08 L285.81 264.36 L286.99 264.63 L288.17 264.91 L289.35 265.17 L290.53 265.44 L291.71 265.7 L292.89 265.96 L294.07 266.22 L295.25 266.47 L296.44 266.72 L297.62 266.97 L298.8 267.22 L299.98 267.46 L301.16 267.7 L302.34 267.94 L303.52 268.17 L304.7 268.41 L305.88 268.64 L307.07 268.87 L308.25 269.1 L309.43 269.32 L310.61 269.54 L311.79 269.76 L312.97 269.98 L314.15 270.2 L315.33 270.41 L316.51 270.62 L317.7 270.83 L318.88 271.04 L320.06 271.25 L321.24 271.45 L322.42 271.66 L323.6 271.86 L324.78 272.06 L325.96 272.25 L327.14 272.45 L328.33 272.64 L329.51 272.83 L330.69 273.03 L331.87 273.21 L333.05 273.4 L334.23 273.59 L335.41 273.77 L336.59 273.95 L337.77 274.13 L338.96 274.31 L340.14 274.49 L341.32 274.66 L342.5 274.84 L343.68 275.01 L344.86 275.18 L346.04 275.35 L347.22 275.52 L348.4 275.69 L349.59 275.85 L350.77 276.02 L351.95 276.18 L353.13 276.34 L354.31 276.5 L355.49 276.66 L356.67 276.82 L357.85 276.97 L359.03 277.13 L360.22 277.28 L361.4 277.43 L362.58 277.59 L363.76 277.73 L364.94 277.88 L366.12 278.03 L367.3 278.18 L368.48 278.32 L369.66 278.46 L370.85 278.61 L372.03 278.75 L373.21 278.89 L374.39 279.03 L375.57 279.16 L376.75 279.3 L377.93 279.43 L379.11 279.57 L380.29 279.7 L381.47 279.83 L382.66 279.96 L383.84 280.09 L385.02 280.22 L386.2 280.35 L387.38 280.47 L388.56 280.6 L389.74 280.72 L390.92 280.85 L392.1 280.97 L393.29 281.09 L394.47 281.21 L395.65 281.33 L396.83 281.45 L398.01 281.57 L399.19 281.68 L400.37 281.8 L401.55 281.91 L402.73 282.02 L403.92 282.14 L405.1 282.25 L406.28 282.36 L407.46 282.47 L408.64 282.58 L409.82 282.69 L410.84 282.78"/>
<path d="M87.11 326 L87.3 324.98 L87.5 323.97 L87.7 322.96 L87.89 321.97 L88.09 320.98 L88.29 320 L88.48 319.03 L88.68 318.06 L88.88 317.1 L89.07 316.15 L89.27 315.21 L89.47 314.28 L89.66 313.35 L89.86 312.43 L90.06 311.51 L90.26 310.6 L90.45 309.71 L90.65 308.82 L90.85 307.93 L91.04 307.06 L91.24 306.19 L91.44 305.32 L91.63 304.47 L91.83 303.62 L92.03 302.78 L92.22 301.94 L92.42 301.11 L92.62 300.29 L92.81 299.48 L93.01 298.67 L93.21 297.87 L93.4 297.07 L93.6 296.28 L93.8 295.49 L94 294.72 L94.19 293.95 L94.39 293.18 L94.59 292.42 L94.78 291.67 L94.98 290.92 L95.18 290.18 L95.37 289.44 L95.57 288.71 L95.77 287.99 L95.96 287.27 L96.16 286.56 L96.36 285.85 L96.55 285.15 L96.75 284.45 L96.95 283.76 L97.14 283.07 L97.34 282.39 L97.54 281.72 L97.74 281.05 L97.93 280.39 L98.13 279.73 L98.33 279.07 L98.52 278.42 L98.72 277.78 L98.92 277.14 L99.11 276.51 L99.31 275.88 L99.51 275.25 L99.7 274.63 L99.82 274.26 L100.22 273.05 L100.61 271.85 L101 270.66 L101.4 269.5 L101.79 268.35 L102.18 267.23 L102.58 266.11 L102.97 265.02 L103.37 263.94 L103.76 262.88 L104.15 261.83 L104.55 260.8 L104.94 259.78 L105.33 258.78 L105.73 257.79 L106.12 256.82 L106.51 255.86 L106.91 254.91 L107.3 253.98 L107.7 253.06 L108.09 252.16 L108.48 251.26 L108.88 250.38 L109.27 249.51 L109.66 248.65 L110.06 247.81 L110.45 246.97 L110.85 246.14 L111.24 245.33 L111.63 244.53 L112.03 243.73 L112.42 242.95 L112.81 242.18 L113.21 241.41 L113.6 240.66 L114 239.91 L114.39 239.17 L114.78 238.45 L115.18 237.73 L115.57 237.02 L115.96 236.32 L116.36 235.62 L116.75 234.94 L117.14 234.26 L117.54 233.59 L117.93 232.92 L118.33 232.27 L118.72 231.62 L119.11 230.98 L119.51 230.34 L119.9 229.72 L120.29 229.1 L120.69 228.48 L121.08 227.87 L121.48 227.27 L121.87 226.68 L122.26 226.09 L122.66 225.51 L123.05 224.93 L123.44 224.36 L123.84 223.8 L124.23 223.24 L124.63 222.68 L125.02 222.14 L125.41 221.59 L125.81 221.06 L126.2 220.53 L126.59 220 L126.99 219.48 L127.38 218.96 L127.77 218.45 L128.17 217.94 L128.56 217.44 L128.96 216.94 L129.35 216.45 L129.74 215.96 L130.14 215.48 L130.53 215 L130.92 214.53 L131.32 214.06 L131.71 213.6 L132.11 213.14 L132.5 212.68 L132.89 212.23 L133.29 211.79 L133.68 211.35 L134.07 210.91 L134.47 210.47 L134.86 210.05 L135.25 209.62 L135.65 209.2 L136.04 208.79 L136.44 208.37 L136.83 207.97 L137.22 207.56 L137.62 207.16 L138.01 206.77 L138.4 206.38 L138.8 205.99 L139.19 205.61 L139.59 205.23 L139.98 204.85 L140.37 204.48 L140.77 204.12 L141.16 203.75 L141.55 203.4 L141.95 203.04 L142.34 202.69 L142.74 202.34 L143.13 202 L143.52 201.66 L143.92 201.33 L144.31 201 L144.7 200.67 L145.1 200.35 L145.49 200.03 L145.88 199.71 L146.28 199.4 L146.67 199.1 L147.07 198.79 L147.46 198.49 L147.85 198.2 L148.25 197.9 L148.64 197.62 L149.03 197.33 L149.43 197.05 L149.82 196.77 L150.22 196.49 L150.61 196.22 L151 195.95 L151.4 195.69 L151.79 195.42 L152.18 195.17 L152.58 194.91 L152.97 194.66 L153.37 194.41 L153.76 194.16 L154.15 193.91 L154.55 193.67 L154.94 193.43 L155.33 193.2 L155.73 192.96 L156.12 192.73 L156.51 192.51 L156.91 192.28 L157.3 192.06 L157.7 191.84 L158.09 191.62 L158.48 191.4 L158.88 191.19 L159.27 190.97 L159.66 190.76 L160.06 190.55 L160.45 190.35 L160.85 190.14 L161.24 189.94 L161.63 189.74 L162.03 189.54 L162.42 189.34 L162.81 189.15 L163.21 188.95 L163.6 188.76 L164 188.57 L164.39 188.38 L164.78 188.19 L165.18 188 L165.57 187.81 L165.96 187.63 L166.36 187.44 L166.75 187.26 L167.14 187.07 L167.54 186.89 L167.93 186.71 L168.33 186.53 L168.72 186.35 L169.11 186.17 L169.51 185.99 L169.9 185.82 L170.29 185.64 L170.69 185.46 L171.08 185.28 L171.48 185.11 L171.87 184.93 L172.26 184.76 L172.66 184.58 L173.05 184.4 L173.44 184.23 L173.84 184.05 L174.23 183.88 L174.62 183.7 L175.02 183.53 L175.41 183.36 L175.81 183.18 L176.2 183.01 L176.59 182.83 L176.99 182.66 L177.38 182.48 L177.77 182.31 L178.17 182.13 L178.56 181.96 L178.96 181.79 L179.35 181.61 L179.74 181.44 L180.14 181.26 L180.53 181.09 L180.92 180.91 L181.32 180.74 L181.71 180.57 L182.11 180.39 L182.5 180.22 L182.89 180.04 L183.29 179.87 L183.68 179.69 L184.07 179.52 L184.47 179.34 L184.86 179.17 L185.25 178.99 L185.65 178.82 L186.04 178.65 L186.44 178.47 L186.83 178.3 L187.22 178.13 L187.62 177.96 L188.01 177.78 L188.4 177.61 L188.8 177.44 L189.19 177.27 L189.59 177.1 L189.98 176.93 L190.37 176.76 L190.77 176.59 L191.16 176.42 L191.55 176.26 L191.95 176.09 L192.34 175.92 L192.74 175.76 L193.13 175.59 L193.52 175.43 L193.68 175.36 L193.68 175.36 L193.78 182.52 L193.88 186.22 L193.98 188.41 L194.07 189.92 L194.17 191.11 L194.27 192.14 L194.37 193.09 L194.47 193.98 L194.57 194.83 L194.66 195.66 L194.76 196.45 L194.86 197.21 L194.96 197.95 L195.06 198.66 L195.16 199.35 L195.25 200.02 L195.35 200.66 L195.45 201.29 L195.55 201.89 L195.65 202.48 L195.75 203.04 L195.85 203.59 L195.94 204.13 L196.04 204.64 L196.14 205.15 L196.24 205.63 L196.34 206.1 L196.44 206.56 L196.53 207.01 L196.63 207.44 L196.73 207.86 L196.83 208.27 L196.93 208.67 L197.03 209.05 L197.12 209.43 L197.22 209.8 L197.32 210.15 L197.42 210.5 L197.52 210.84 L197.62 211.17 L197.72 211.49 L197.81 211.81 L197.91 212.12 L198.01 212.42 L198.11 212.71 L198.21 213 L198.31 213.28 L198.4 213.55 L198.8 214.59 L199.19 215.55 L199.59 216.44 L199.98 217.27 L200.37 218.05 L200.77 218.79 L201.16 219.49 L201.55 220.15 L201.95 220.79 L202.34 221.4 L202.74 221.98 L203.13 222.55 L203.52 223.1 L203.92 223.64 L204.31 224.16 L204.7 224.66 L205.1 225.16 L205.49 225.65 L205.88 226.12 L206.28 226.59 L206.67 227.05 L207.07 227.5 L207.46 227.94 L207.85 228.38 L208.25 228.81 L208.64 229.23 L209.03 229.65 L209.43 230.06 L209.82 230.47 L210.22 230.87 L210.61 231.26 L211 231.65 L211.4 232.04 L211.79 232.42 L212.18 232.79 L212.58 233.17 L212.97 233.53 L213.37 233.9 L213.76 234.25 L214.15 234.61 L214.55 234.96 L214.94 235.31 L215.33 235.65 L215.73 235.99 L216.12 236.32 L216.51 236.65 L216.91 236.98 L217.3 237.3 L218.48 238.25 L219.66 239.17 L220.85 240.06 L222.03 240.93 L223.21 241.76 L224.39 242.57 L225.57 243.36 L226.75 244.13 L227.93 244.87 L229.11 245.59 L230.29 246.29 L231.48 246.97 L232.66 247.64 L233.84 248.28 L235.02 248.91 L236.2 249.52 L237.38 250.12 L238.56 250.7 L239.74 251.27 L240.92 251.83 L242.11 252.37 L243.29 252.9 L244.47 253.42 L245.65 253.92 L246.83 254.42 L248.01 254.9 L249.19 255.37 L250.37 255.84 L251.55 256.29 L252.74 256.74 L253.92 257.17 L255.1 257.6 L256.28 258.02 L257.46 258.43 L258.64 258.84 L259.82 259.24 L261 259.63 L262.18 260.01 L263.36 260.38 L264.55 260.75 L265.73 261.12 L266.91 261.48 L268.09 261.83 L269.27 262.18 L270.45 262.52 L271.63 262.85 L272.81 263.18 L273.99 263.51 L275.18 263.83 L276.36 264.15 L277.54 264.46 L278.72 264.77 L279.9 265.07 L281.08 265.37 L282.26 265.67 L283.44 265.96 L284.62 266.25 L285.81 266.53 L286.99 266.81 L288.17 267.09 L289.35 267.36 L290.53 267.63 L291.71 267.9 L292.89 268.16 L294.07 268.42 L295.25 268.68 L296.44 268.93 L297.62 269.18 L298.8 269.43 L299.98 269.68 L301.16 269.92 L302.34 270.16 L303.52 270.4 L304.7 270.63 L305.88 270.87 L307.07 271.1 L308.25 271.32 L309.43 271.55 L310.61 271.77 L311.79 271.99 L312.97 272.21 L314.15 272.43 L315.33 272.64 L316.51 272.85 L317.7 273.06 L318.88 273.27 L320.06 273.47 L321.24 273.68 L322.42 273.88 L323.6 274.08 L324.78 274.28 L325.96 274.47 L327.14 274.66 L328.33 274.86 L329.51 275.05 L330.69 275.23 L331.87 275.42 L333.05 275.6 L334.23 275.79 L335.41 275.97 L336.59 276.15 L337.77 276.33 L338.96 276.5 L340.14 276.68 L341.32 276.85 L342.5 277.02 L343.68 277.19 L344.86 277.36 L346.04 277.52 L347.22 277.69 L348.4 277.85 L349.59 278.01 L350.77 278.17 L351.95 278.33 L353.13 278.49 L354.31 278.65 L355.49 278.8 L356.67 278.96 L357.85 279.11 L359.03 279.26 L360.22 279.41 L361.4 279.56 L362.58 279.7 L363.76 279.85 L364.94 279.99 L366.12 280.13 L367.3 280.28 L368.48 280.42 L369.66 280.56 L370.85 280.69 L372.03 280.83 L373.21 280.96 L374.39 281.1 L375.57 281.23 L376.75 281.36 L377.93 281.49 L379.11 281.62 L380.29 281.75 L381.47 281.88 L382.66 282.01 L383.84 282.13 L385.02 282.25 L386.2 282.38 L387.38 282.5 L388.56 282.62 L389.74 282.74 L390.92 282.86 L392.1 282.98 L393.29 283.09 L394.47 283.21 L395.65 283.32 L396.83 283.44 L398.01 283.55 L399.19 283.66 L400.37 283.77 L401.55 283.88 L402.73 283.99 L403.92 284.1 L405.1 284.2 L406.28 284.31 L407.46 284.41 L408.64 284.52 L409.82 284.62 L410.84 284.71"/>
<path d="M87.11 326 L87.3 325.37 L87.5 324.74 L87.7 324.12 L87.89 323.5 L88.09 322.89 L88.29 322.28 L88.48 321.68 L88.68 321.08 L88.88 320.48 L89.07 319.89 L89.27 319.31 L89.47 318.72 L89.66 318.14 L89.86 317.57 L90.06 317 L90.26 316.43 L90.45 315.87 L90.65 315.31 L90.85 314.75 L91.04 314.2 L91.24 313.65 L91.44 313.1 L91.63 312.56 L91.83 312.02 L92.03 311.48 L92.22 310.95 L92.42 310.42 L92.62 309.9 L92.81 309.37 L93.01 308.86 L93.21 308.34 L93.4 307.83 L93.6 307.32 L93.8 306.82 L94 306.32 L94.19 305.82 L94.39 305.32 L94.59 304.83 L94.78 304.34 L94.98 303.86 L95.18 303.38 L95.37 302.9 L95.57 302.42 L95.77 301.95 L95.96 301.48 L96.16 301.01 L96.36 300.55 L96.55 300.09 L96.75 299.63 L96.95 299.18 L97.14 298.72 L97.34 298.28 L97.54 297.83 L97.74 297.39 L97.93 296.95 L98.13 296.51 L98.33 296.07 L98.52 295.64 L98.72 295.21 L98.92 294.79 L99.11 294.36 L99.31 293.94 L99.51 293.53 L99.7 293.11 L99.82 292.86 L100.22 292.04 L100.61 291.23 L101 290.43 L101.4 289.64 L101.79 288.87 L102.18 288.1 L102.58 287.34 L102.97 286.59 L103.37 285.85 L103.76 285.11 L104.15 284.39 L104.55 283.68 L104.94 282.97 L105.33 282.28 L105.73 281.59 L106.12 280.91 L106.51 280.24 L106.91 279.58 L107.3 278.92 L107.7 278.28 L108.09 277.64 L108.48 277.01 L108.88 276.38 L109.27 275.77 L109.66 275.16 L110.06 274.55 L110.45 273.96 L110.85 273.37 L111.24 272.79 L111.63 272.22 L112.03 271.65 L112.42 271.09 L112.81 270.54 L113.21 269.99 L113.6 269.45 L114 268.91 L114.39 268.38 L114.78 267.86 L115.18 267.35 L115.57 266.83 L115.96 266.33 L116.36 265.83 L116.75 265.34 L117.14 264.85 L117.54 264.37 L117.93 263.89 L118.33 263.42 L118.72 262.96 L119.11 262.5 L119.51 262.04 L119.9 261.59 L120.29 261.15 L120.69 260.71 L121.08 260.28 L121.48 259.85 L121.87 259.43 L122.26 259.01 L122.66 258.59 L123.05 258.18 L123.44 257.78 L123.84 257.38 L124.23 256.98 L124.63 256.59 L125.02 256.2 L125.41 255.82 L125.81 255.44 L126.2 255.07 L126.59 254.7 L126.99 254.33 L127.38 253.97 L127.77 253.61 L128.17 253.25 L128.56 252.9 L128.96 252.55 L129.35 252.21 L129.74 251.87 L130.14 251.53 L130.53 251.2 L130.92 250.87 L131.32 250.54 L131.71 250.22 L132.11 249.9 L132.5 249.58 L132.89 249.27 L133.29 248.96 L133.68 248.65 L134.07 248.35 L134.47 248.05 L134.86 247.75 L135.25 247.46 L135.65 247.17 L136.04 246.88 L136.44 246.59 L136.83 246.31 L137.22 246.03 L137.62 245.75 L138.01 245.48 L138.4 245.21 L138.8 244.94 L139.19 244.68 L139.59 244.41 L139.98 244.15 L140.37 243.9 L140.77 243.64 L141.16 243.39 L141.55 243.14 L141.95 242.89 L142.34 242.65 L142.74 242.41 L143.13 242.17 L143.52 241.93 L143.92 241.7 L144.31 241.46 L144.7 241.24 L145.1 241.01 L145.49 240.78 L145.88 240.56 L146.28 240.34 L146.67 240.12 L147.07 239.91 L147.46 239.7 L147.85 239.49 L148.25 239.28 L148.64 239.07 L149.03 238.87 L149.43 238.66 L149.82 238.46 L150.22 238.26 L150.61 238.07 L151 237.87 L151.4 237.68 L151.79 237.49 L152.18 237.3 L152.58 237.11 L152.97 236.93 L153.37 236.74 L153.76 236.56 L154.15 236.38 L154.55 236.2 L154.94 236.03 L155.33 235.85 L155.73 235.68 L156.12 235.5 L156.51 235.33 L156.91 235.16 L157.3 234.99 L157.7 234.83 L158.09 234.66 L158.48 234.5 L158.88 234.33 L159.27 234.17 L159.66 234.01 L160.06 233.85 L160.45 233.69 L160.85 233.53 L161.24 233.37 L161.63 233.22 L162.03 233.06 L162.42 232.91 L162.81 232.76 L163.21 232.6 L163.6 232.45 L164 232.3 L164.39 232.15 L164.78 232 L165.18 231.85 L165.57 231.7 L165.96 231.55 L166.36 231.41 L166.75 231.26 L167.14 231.11 L167.54 230.97 L167.93 230.82 L168.33 230.68 L168.72 230.53 L169.11 230.39 L169.51 230.24 L169.9 230.1 L170.29 229.95 L170.69 229.81 L171.08 229.67 L171.48 229.52 L171.87 229.38 L172.26 229.24 L172.66 229.1 L173.05 228.95 L173.44 228.81 L173.84 228.67 L174.23 228.52 L174.62 228.38 L175.02 228.24 L175.41 228.09 L175.81 227.95 L176.2 227.81 L176.59 227.66 L176.99 227.52 L177.38 227.38 L177.77 227.23 L178.17 227.09 L178.56 226.94 L178.96 226.8 L179.35 226.66 L179.74 226.51 L180.14 226.37 L180.53 226.22 L180.92 226.08 L181.32 225.93 L181.71 225.79 L182.11 225.65 L182.5 225.5 L182.89 225.36 L183.29 225.21 L183.68 225.07 L184.07 224.93 L184.47 224.78 L184.86 224.64 L185.25 224.49 L185.65 224.35 L186.04 224.21 L186.44 224.06 L186.83 223.92 L187.22 223.78 L187.62 223.63 L188.01 223.49 L188.4 223.35 L188.8 223.21 L189.19 223.06 L189.59 222.92 L189.98 222.78 L190.37 222.64 L190.77 222.5 L191.16 222.35 L191.55 222.21 L191.95 222.07 L192.34 221.93 L192.74 221.79 L193.13 221.65 L193.52 221.51 L193.68 221.46 L193.68 221.46 L193.78 229.93 L193.88 233.95 L193.98 236.02 L194.07 237.22 L194.17 238.03 L194.27 238.66 L194.37 239.19 L194.47 239.67 L194.57 240.12 L194.66 240.54 L194.76 240.93 L194.86 241.31 L194.96 241.68 L195.06 242.02 L195.16 242.35 L195.25 242.67 L195.35 242.97 L195.45 243.26 L195.55 243.54 L195.65 243.81 L195.75 244.07 L195.85 244.32 L195.94 244.56 L196.04 244.79 L196.14 245.01 L196.24 245.22 L196.34 245.43 L196.44 245.63 L196.53 245.83 L196.63 246.01 L196.73 246.2 L196.83 246.37 L196.93 246.55 L197.03 246.71 L197.12 246.87 L197.22 247.03 L197.32 247.19 L197.42 247.34 L197.52 247.48 L197.62 247.63 L197.72 247.77 L197.81 247.9 L197.91 248.04 L198.01 248.17 L198.11 248.3 L198.21 248.42 L198.31 248.55 L198.4 248.67 L198.8 249.13 L199.19 249.57 L199.59 249.98 L199.98 250.37 L200.37 250.75 L200.77 251.11 L201.16 251.46 L201.55 251.8 L201.95 252.13 L202.34 252.45 L202.74 252.76 L203.13 253.07 L203.52 253.37 L203.92 253.66 L204.31 253.95 L204.7 254.23 L205.1 254.51 L205.49 254.78 L205.88 255.04 L206.28 255.31 L206.67 255.56 L207.07 255.82 L207.46 256.07 L207.85 256.32 L208.25 256.56 L208.64 256.8 L209.03 257.04 L209.43 257.27 L209.82 257.5 L210.22 257.73 L210.61 257.96 L211 258.18 L211.4 258.4 L211.79 258.62 L212.18 258.83 L212.58 259.04 L212.97 259.25 L213.37 259.46 L213.76 259.67 L214.15 259.87 L214.55 260.07 L214.94 260.27 L215.33 260.47 L215.73 260.67 L216.12 260.86 L216.51 261.06 L216.91 261.25 L217.3 261.44 L218.48 261.99 L219.66 262.54 L220.85 263.07 L222.03 263.59 L223.21 264.1 L224.39 264.6 L225.57 265.09 L226.75 265.57 L227.93 266.04 L229.11 266.51 L230.29 266.96 L231.48 267.41 L232.66 267.85 L233.84 268.28 L235.02 268.7 L236.2 269.12 L237.38 269.54 L238.56 269.94 L239.74 270.34 L240.92 270.73 L242.11 271.12 L243.29 271.5 L244.47 271.88 L245.65 272.25 L246.83 272.61 L248.01 272.97 L249.19 273.33 L250.37 273.67 L251.55 274.02 L252.74 274.36 L253.92 274.69 L255.1 275.02 L256.28 275.34 L257.46 275.66 L258.64 275.98 L259.82 276.29 L261 276.59 L262.18 276.89 L263.36 277.19 L264.55 277.48 L265.73 277.77 L266.91 278.06 L268.09 278.34 L269.27 278.61 L270.45 278.89 L271.63 279.15 L272.81 279.42 L273.99 279.68 L275.18 279.94 L276.36 280.19 L277.54 280.44 L278.72 280.69 L279.9 280.93 L281.08 281.17 L282.26 281.4 L283.44 281.64 L284.62 281.86 L285.81 282.09 L286.99 282.31 L288.17 282.53 L289.35 282.75 L290.53 282.96 L291.71 283.17 L292.89 283.38 L294.07 283.58 L295.25 283.78 L296.44 283.98 L297.62 284.18 L298.8 284.37 L299.98 284.56 L301.16 284.75 L302.34 284.93 L303.52 285.11 L304.7 285.29 L305.88 285.47 L307.07 285.64 L308.25 285.82 L309.43 285.98 L310.61 286.15 L311.79 286.32 L312.97 286.48 L314.15 286.64 L315.33 286.8 L316.51 286.95 L317.7 287.1 L318.88 287.25 L320.06 287.4 L321.24 287.55 L322.42 287.69 L323.6 287.84 L324.78 287.98 L325.96 288.11 L327.14 288.25 L328.33 288.39 L329.51 288.52 L330.69 288.65 L331.87 288.78 L333.05 288.9 L334.23 289.03 L335.41 289.15 L336.59 289.27 L337.77 289.39 L338.96 289.51 L340.14 289.63 L341.32 289.74 L342.5 289.86 L343.68 289.97 L344.86 290.08 L346.04 290.19 L347.22 290.29 L348.4 290.4 L349.59 290.5 L350.77 290.6 L351.95 290.7 L353.13 290.8 L354.31 290.9 L355.49 291 L356.67 291.09 L357.85 291.19 L359.03 291.28 L360.22 291.37 L361.4 291.46 L362.58 291.55 L363.76 291.64 L364.94 291.72 L366.12 291.81 L367.3 291.89 L368.48 291.97 L369.66 292.05 L370.85 292.13 L372.03 292.21 L373.21 292.29 L374.39 292.37 L375.57 292.44 L376.75 292.52 L377.93 292.59 L379.11 292.66 L380.29 292.73 L381.47 292.8 L382.66 292.87 L383.84 292.94 L385.02 293.01 L386.2 293.07 L387.38 293.14 L388.56 293.2 L389.74 293.27 L390.92 293.33 L392.1 293.39 L393.29 293.45 L394.47 293.51 L395.65 293.57 L396.83 293.63 L398.01 293.69 L399.19 293.74 L400.37 293.8 L401.55 293.86 L402.73 293.91 L403.92 293.96 L405.1 294.02 L406.28 294.07 L407.46 294.12 L408.64 294.17 L409.82 294.22 L410.84 294.26"/>
<path d="M87.11 326 L87.3 325.38 L87.5 324.76 L87.7 324.15 L87.89 323.54 L88.09 322.93 L88.29 322.33 L88.48 321.74 L88.68 321.14 L88.88 320.55 L89.07 319.97 L89.27 319.39 L89.47 318.81 L89.66 318.23 L89.86 317.66 L90.06 317.1 L90.26 316.53 L90.45 315.97 L90.65 315.41 L90.85 314.86 L91.04 314.31 L91.24 313.76 L91.44 313.22 L91.63 312.68 L91.83 312.15 L92.03 311.61 L92.22 311.08 L92.42 310.56 L92.62 310.03 L92.81 309.52 L93.01 309 L93.21 308.49 L93.4 307.98 L93.6 307.47 L93.8 306.97 L94 306.47 L94.19 305.97 L94.39 305.47 L94.59 304.98 L94.78 304.5 L94.98 304.01 L95.18 303.53 L95.37 303.05 L95.57 302.58 L95.77 302.1 L95.96 301.63 L96.16 301.17 L96.36 300.7 L96.55 300.24 L96.75 299.78 L96.95 299.33 L97.14 298.88 L97.34 298.43 L97.54 297.98 L97.74 297.54 L97.93 297.09 L98.13 296.66 L98.33 296.22 L98.52 295.79 L98.72 295.36 L98.92 294.93 L99.11 294.5 L99.31 294.08 L99.51 293.66 L99.7 293.25 L99.82 293 L100.22 292.17 L100.61 291.36 L101 290.56 L101.4 289.76 L101.79 288.98 L102.18 288.21 L102.58 287.44 L102.97 286.69 L103.37 285.94 L103.76 285.21 L104.15 284.48 L104.55 283.76 L104.94 283.05 L105.33 282.35 L105.73 281.66 L106.12 280.98 L106.51 280.3 L106.91 279.63 L107.3 278.98 L107.7 278.32 L108.09 277.68 L108.48 277.05 L108.88 276.42 L109.27 275.8 L109.66 275.18 L110.06 274.58 L110.45 273.98 L110.85 273.39 L111.24 272.8 L111.63 272.23 L112.03 271.65 L112.42 271.09 L112.81 270.53 L113.21 269.98 L113.6 269.44 L114 268.9 L114.39 268.37 L114.78 267.84 L115.18 267.32 L115.57 266.81 L115.96 266.3 L116.36 265.8 L116.75 265.3 L117.14 264.81 L117.54 264.33 L117.93 263.85 L118.33 263.38 L118.72 262.91 L119.11 262.45 L119.51 261.99 L119.9 261.54 L120.29 261.09 L120.69 260.65 L121.08 260.22 L121.48 259.79 L121.87 259.36 L122.26 258.94 L122.66 258.53 L123.05 258.12 L123.44 257.71 L123.84 257.31 L124.23 256.91 L124.63 256.52 L125.02 256.13 L125.41 255.75 L125.81 255.37 L126.2 254.99 L126.59 254.62 L126.99 254.25 L127.38 253.89 L127.77 253.53 L128.17 253.18 L128.56 252.83 L128.96 252.48 L129.35 252.14 L129.74 251.8 L130.14 251.46 L130.53 251.13 L130.92 250.8 L131.32 250.48 L131.71 250.15 L132.11 249.84 L132.5 249.52 L132.89 249.21 L133.29 248.9 L133.68 248.6 L134.07 248.3 L134.47 248 L134.86 247.7 L135.25 247.41 L135.65 247.12 L136.04 246.84 L136.44 246.56 L136.83 246.28 L137.22 246 L137.62 245.73 L138.01 245.46 L138.4 245.19 L138.8 244.93 L139.19 244.67 L139.59 244.41 L139.98 244.16 L140.37 243.91 L140.77 243.66 L141.16 243.41 L141.55 243.17 L141.95 242.93 L142.34 242.69 L142.74 242.45 L143.13 242.22 L143.52 241.99 L143.92 241.77 L144.31 241.54 L144.7 241.32 L145.1 241.1 L145.49 240.89 L145.88 240.68 L146.28 240.47 L146.67 240.26 L147.07 240.05 L147.46 239.85 L147.85 239.65 L148.25 239.45 L148.64 239.26 L149.03 239.07 L149.43 238.87 L149.82 238.69 L150.22 238.5 L150.61 238.32 L151 238.14 L151.4 237.96 L151.79 237.78 L152.18 237.6 L152.58 237.43 L152.97 237.26 L153.37 237.09 L153.76 236.92 L154.15 236.76 L154.55 236.6 L154.94 236.44 L155.33 236.28 L155.73 236.12 L156.12 235.96 L156.51 235.81 L156.91 235.66 L157.3 235.5 L157.7 235.36 L158.09 235.21 L158.48 235.06 L158.88 234.92 L159.27 234.77 L159.66 234.63 L160.06 234.49 L160.45 234.35 L160.85 234.22 L161.24 234.08 L161.63 233.94 L162.03 233.81 L162.42 233.68 L162.81 233.55 L163.21 233.42 L163.6 233.29 L164 233.16 L164.39 233.03 L164.78 232.91 L165.18 232.78 L165.57 232.66 L165.96 232.53 L166.36 232.41 L166.75 232.29 L167.14 232.17 L167.54 232.05 L167.93 231.93 L168.33 231.81 L168.72 231.69 L169.11 231.57 L169.51 231.46 L169.9 231.34 L170.29 231.22 L170.69 231.11 L171.08 230.99 L171.48 230.88 L171.87 230.77 L172.26 230.65 L172.66 230.54 L173.05 230.43 L173.44 230.32 L173.84 230.2 L174.23 230.09 L174.62 229.98 L175.02 229.87 L175.41 229.76 L175.81 229.65 L176.2 229.54 L176.59 229.43 L176.99 229.32 L177.38 229.21 L177.77 229.1 L178.17 228.99 L178.56 228.88 L178.96 228.77 L179.35 228.66 L179.74 228.55 L180.14 228.44 L180.53 228.34 L180.92 228.23 L181.32 228.12 L181.71 228.01 L182.11 227.91 L182.5 227.8 L182.89 227.69 L183.29 227.59 L183.68 227.48 L184.07 227.38 L184.47 227.27 L184.86 227.17 L185.25 227.06 L185.65 226.96 L186.04 226.85 L186.44 226.75 L186.83 226.65 L187.22 226.54 L187.62 226.44 L188.01 226.34 L188.4 226.24 L188.8 226.13 L189.19 226.03 L189.59 225.93 L189.98 225.83 L190.37 225.73 L190.77 225.63 L191.16 225.53 L191.55 225.43 L191.95 225.34 L192.34 225.24 L192.74 225.14 L193.13 225.04 L193.52 224.95 L193.68 224.91 L193.68 224.91 L193.78 232.55 L193.88 236.17 L193.98 238.03 L194.07 239.12 L194.17 239.85 L194.27 240.42 L194.37 240.91 L194.47 241.36 L194.57 241.77 L194.66 242.17 L194.76 242.55 L194.86 242.91 L194.96 243.26 L195.06 243.59 L195.16 243.92 L195.25 244.23 L195.35 244.53 L195.45 244.81 L195.55 245.09 L195.65 245.36 L195.75 245.62 L195.85 245.87 L195.94 246.11 L196.04 246.34 L196.14 246.57 L196.24 246.79 L196.34 247 L196.44 247.2 L196.53 247.4 L196.63 247.59 L196.73 247.78 L196.83 247.96 L196.93 248.13 L197.03 248.3 L197.12 248.47 L197.22 248.63 L197.32 248.79 L197.42 248.94 L197.52 249.09 L197.62 249.24 L197.72 249.38 L197.81 249.52 L197.91 249.65 L198.01 249.78 L198.11 249.91 L198.21 250.04 L198.31 250.16 L198.4 250.28 L198.8 250.74 L199.19 251.17 L199.59 251.57 L199.98 251.95 L200.37 252.31 L200.77 252.65 L201.16 252.98 L201.55 253.3 L201.95 253.61 L202.34 253.9 L202.74 254.2 L203.13 254.48 L203.52 254.76 L203.92 255.04 L204.31 255.31 L204.7 255.57 L205.1 255.84 L205.49 256.1 L205.88 256.35 L206.28 256.6 L206.67 256.85 L207.07 257.1 L207.46 257.35 L207.85 257.59 L208.25 257.83 L208.64 258.07 L209.03 258.3 L209.43 258.54 L209.82 258.77 L210.22 259 L210.61 259.22 L211 259.45 L211.4 259.67 L211.79 259.9 L212.18 260.12 L212.58 260.33 L212.97 260.55 L213.37 260.76 L213.76 260.98 L214.15 261.19 L214.55 261.4 L214.94 261.61 L215.33 261.81 L215.73 262.02 L216.12 262.22 L216.51 262.42 L216.91 262.62 L217.3 262.82 L218.48 263.4 L219.66 263.97 L220.85 264.53 L222.03 265.08 L223.21 265.61 L224.39 266.14 L225.57 266.65 L226.75 267.15 L227.93 267.64 L229.11 268.12 L230.29 268.59 L231.48 269.05 L232.66 269.5 L233.84 269.94 L235.02 270.37 L236.2 270.8 L237.38 271.21 L238.56 271.62 L239.74 272.02 L240.92 272.41 L242.11 272.8 L243.29 273.18 L244.47 273.55 L245.65 273.92 L246.83 274.28 L248.01 274.63 L249.19 274.97 L250.37 275.32 L251.55 275.65 L252.74 275.98 L253.92 276.3 L255.1 276.62 L256.28 276.94 L257.46 277.24 L258.64 277.55 L259.82 277.85 L261 278.14 L262.18 278.43 L263.36 278.72 L264.55 279 L265.73 279.28 L266.91 279.55 L268.09 279.82 L269.27 280.08 L270.45 280.34 L271.63 280.6 L272.81 280.86 L273.99 281.11 L275.18 281.35 L276.36 281.6 L277.54 281.84 L278.72 282.08 L279.9 282.31 L281.08 282.54 L282.26 282.77 L283.44 282.99 L284.62 283.22 L285.81 283.44 L286.99 283.65 L288.17 283.87 L289.35 284.08 L290.53 284.29 L291.71 284.49 L292.89 284.7 L294.07 284.9 L295.25 285.1 L296.44 285.29 L297.62 285.49 L298.8 285.68 L299.98 285.87 L301.16 286.06 L302.34 286.24 L303.52 286.43 L304.7 286.61 L305.88 286.79 L307.07 286.96 L308.25 287.14 L309.43 287.31 L310.61 287.48 L311.79 287.65 L312.97 287.82 L314.15 287.98 L315.33 288.15 L316.51 288.31 L317.7 288.47 L318.88 288.63 L320.06 288.79 L321.24 288.94 L322.42 289.1 L323.6 289.25 L324.78 289.4 L325.96 289.55 L327.14 289.69 L328.33 289.84 L329.51 289.99 L330.69 290.13 L331.87 290.27 L333.05 290.41 L334.23 290.55 L335.41 290.69 L336.59 290.82 L337.77 290.96 L338.96 291.09 L340.14 291.22 L341.32 291.35 L342.5 291.48 L343.68 291.61 L344.86 291.73 L346.04 291.86 L347.22 291.98 L348.4 292.11 L349.59 292.23 L350.77 292.35 L351.95 292.47 L353.13 292.59 L354.31 292.7 L355.49 292.82 L356.67 292.93 L357.85 293.05 L359.03 293.16 L360.22 293.27 L361.4 293.38 L362.58 293.49 L363.76 293.6 L364.94 293.71 L366.12 293.81 L367.3 293.92 L368.48 294.02 L369.66 294.13 L370.85 294.23 L372.03 294.33 L373.21 294.43 L374.39 294.53 L375.57 294.63 L376.75 294.73 L377.93 294.82 L379.11 294.92 L380.29 295.01 L381.47 295.11 L382.66 295.2 L383.84 295.29 L385.02 295.38 L386.2 295.47 L387.38 295.56 L388.56 295.65 L389.74 295.74 L390.92 295.83 L392.1 295.91 L393.29 296 L394.47 296.08 L395.65 296.17 L396.83 296.25 L398.01 296.33 L399.19 296.41 L400.37 296.49 L401.55 296.57 L402.73 296.65 L403.92 296.73 L405.1 296.81 L406.28 296.89 L407.46 296.96 L408.64 297.04 L409.82 297.11 L410.84 297.18"/>
<path d="M87.11 326 L87.3 325.81 L87.5 325.63 L87.7 325.45 L87.89 325.27 L88.09 325.09 L88.29 324.92 L88.48 324.75 L88.68 324.58 L88.88 324.41 L89.07 324.25 L89.27 324.08 L89.47 323.93 L89.66 323.77 L89.86 323.62 L90.06 323.46 L90.26 323.32 L90.45 323.15 L90.65 322.99 L90.85 322.82 L91.04 322.66 L91.24 322.5 L91.44 322.34 L91.63 322.18 L91.83 322.02 L92.03 321.86 L92.22 321.7 L92.42 321.54 L92.62 321.38 L92.81 321.23 L93.01 321.07 L93.21 320.91 L93.4 320.76 L93.6 320.6 L93.8 320.45 L94 320.29 L94.19 320.14 L94.39 319.98 L94.59 319.83 L94.78 319.68 L94.98 319.53 L95.18 319.37 L95.37 319.22 L95.57 319.07 L95.77 318.92 L95.96 318.77 L96.16 318.62 L96.36 318.47 L96.55 318.33 L96.75 318.18 L96.95 318.03 L97.14 317.88 L97.34 317.73 L97.54 317.59 L97.74 317.44 L97.93 317.3 L98.13 317.15 L98.33 317.01 L98.52 316.86 L98.72 316.72 L98.92 316.57 L99.11 316.43 L99.31 316.28 L99.51 316.14 L99.7 316 L99.82 315.91 L100.22 315.63 L100.61 315.35 L101 315.07 L101.4 314.79 L101.79 314.51 L102.18 314.23 L102.58 313.96 L102.97 313.68 L103.37 313.41 L103.76 313.14 L104.15 312.87 L104.55 312.6 L104.94 312.33 L105.33 312.06 L105.73 311.8 L106.12 311.54 L106.51 311.27 L106.91 311.01 L107.3 310.75 L107.7 310.49 L108.09 310.23 L108.48 309.98 L108.88 309.72 L109.27 309.47 L109.66 309.22 L110.06 308.96 L110.45 308.71 L110.85 308.46 L111.24 308.21 L111.63 307.97 L112.03 307.72 L112.42 307.48 L112.81 307.23 L113.21 306.99 L113.6 306.75 L114 306.51 L114.39 306.27 L114.78 306.03 L115.18 305.79 L115.57 305.56 L115.96 305.32 L116.36 305.09 L116.75 304.85 L117.14 304.62 L117.54 304.39 L117.93 304.16 L118.33 303.93 L118.72 303.7 L119.11 303.48 L119.51 303.25 L119.9 303.03 L120.29 302.8 L120.69 302.58 L121.08 302.36 L121.48 302.14 L121.87 301.92 L122.26 301.7 L122.66 301.49 L123.05 301.27 L123.44 301.05 L123.84 300.84 L124.23 300.63 L124.63 300.42 L125.02 300.2 L125.41 299.99 L125.81 299.79 L126.2 299.58 L126.59 299.37 L126.99 299.16 L127.38 298.96 L127.77 298.76 L128.17 298.55 L128.56 298.35 L128.96 298.15 L129.35 297.95 L129.74 297.75 L130.14 297.56 L130.53 297.36 L130.92 297.16 L131.32 296.97 L131.71 296.78 L132.11 296.58 L132.5 296.39 L132.89 296.2 L133.29 296.01 L133.68 295.83 L134.07 295.64 L134.47 295.45 L134.86 295.27 L135.25 295.08 L135.65 294.9 L136.04 294.72 L136.44 294.54 L136.83 294.36 L137.22 294.18 L137.62 294.01 L138.01 293.83 L138.4 293.65 L138.8 293.48 L139.19 293.31 L139.59 293.14 L139.98 292.97 L140.37 292.8 L140.77 292.63 L141.16 292.47 L141.55 292.3 L141.95 292.14 L142.34 291.98 L142.74 291.82 L143.13 291.66 L143.52 291.5 L143.92 291.34 L144.31 291.19 L144.7 291.04 L145.1 290.88 L145.49 290.73 L145.88 290.58 L146.28 290.44 L146.67 290.29 L147.07 290.15 L147.46 290 L147.85 289.86 L148.25 289.72 L148.64 289.58 L149.03 289.45 L149.43 289.31 L149.82 289.18 L150.22 289.05 L150.61 288.92 L151 288.79 L151.4 288.66 L151.79 288.54 L152.18 288.41 L152.58 288.29 L152.97 288.17 L153.37 288.06 L153.76 287.94 L154.15 287.83 L154.55 287.71 L154.94 287.6 L155.33 287.49 L155.73 287.39 L156.12 287.28 L156.51 287.18 L156.91 287.08 L157.3 286.97 L157.7 286.88 L158.09 286.78 L158.48 286.68 L158.88 286.59 L159.27 286.49 L159.66 286.4 L160.06 286.31 L160.45 286.22 L160.85 286.14 L161.24 286.05 L161.63 285.97 L162.03 285.88 L162.42 285.8 L162.81 285.72 L163.21 285.64 L163.6 285.57 L164 285.49 L164.39 285.41 L164.78 285.34 L165.18 285.27 L165.57 285.2 L165.96 285.13 L166.36 285.06 L166.75 284.99 L167.14 284.92 L167.54 284.86 L167.93 284.79 L168.33 284.73 L168.72 284.66 L169.11 284.6 L169.51 284.54 L169.9 284.48 L170.29 284.42 L170.69 284.36 L171.08 284.31 L171.48 284.25 L171.87 284.19 L172.26 284.14 L172.66 284.09 L173.05 284.03 L173.44 283.98 L173.84 283.93 L174.23 283.88 L174.62 283.83 L175.02 283.78 L175.41 283.73 L175.81 283.68 L176.2 283.63 L176.59 283.59 L176.99 283.54 L177.38 283.5 L177.77 283.45 L178.17 283.41 L178.56 283.36 L178.96 283.32 L179.35 283.28 L179.74 283.24 L180.14 283.2 L180.53 283.16 L180.92 283.12 L181.32 283.08 L181.71 283.04 L182.11 283 L182.5 282.96 L182.89 282.93 L183.29 282.89 L183.68 282.85 L184.07 282.82 L184.47 282.78 L184.86 282.75 L185.25 282.71 L185.65 282.68 L186.04 282.65 L186.44 282.62 L186.83 282.58 L187.22 282.55 L187.62 282.52 L188.01 282.49 L188.4 282.46 L188.8 282.43 L189.19 282.4 L189.59 282.37 L189.98 282.35 L190.37 282.32 L190.77 282.29 L191.16 282.26 L191.55 282.24 L191.95 282.21 L192.34 282.19 L192.74 282.16 L193.13 282.14 L193.52 282.11 L193.68 282.1 L193.68 282.1 L193.78 283.97 L193.88 284.9 L193.98 285.4 L194.07 285.73 L194.17 285.97 L194.27 286.18 L194.37 286.37 L194.47 286.54 L194.57 286.71 L194.66 286.88 L194.76 287.04 L194.86 287.19 L194.96 287.34 L195.06 287.49 L195.16 287.64 L195.25 287.78 L195.35 287.92 L195.45 288.05 L195.55 288.18 L195.65 288.31 L195.75 288.44 L195.85 288.56 L195.94 288.68 L196.04 288.8 L196.14 288.91 L196.24 289.03 L196.34 289.14 L196.44 289.24 L196.53 289.35 L196.63 289.45 L196.73 289.55 L196.83 289.65 L196.93 289.75 L197.03 289.84 L197.12 289.94 L197.22 290.03 L197.32 290.11 L197.42 290.2 L197.52 290.29 L197.62 290.37 L197.72 290.45 L197.81 290.53 L197.91 290.61 L198.01 290.69 L198.11 290.76 L198.21 290.84 L198.31 290.91 L198.4 290.98 L198.8 291.25 L199.19 291.5 L199.59 291.73 L199.98 291.95 L200.37 292.16 L200.77 292.35 L201.16 292.53 L201.55 292.7 L201.95 292.86 L202.34 293.01 L202.74 293.15 L203.13 293.29 L203.52 293.42 L203.92 293.55 L204.31 293.67 L204.7 293.79 L205.1 293.91 L205.49 294.02 L205.88 294.12 L206.28 294.23 L206.67 294.33 L207.07 294.43 L207.46 294.52 L207.85 294.62 L208.25 294.71 L208.64 294.8 L209.03 294.89 L209.43 294.98 L209.82 295.07 L210.22 295.16 L210.61 295.24 L211 295.33 L211.4 295.41 L211.79 295.49 L212.18 295.57 L212.58 295.65 L212.97 295.73 L213.37 295.81 L213.76 295.89 L214.15 295.97 L214.55 296.05 L214.94 296.13 L215.33 296.2 L215.73 296.28 L216.12 296.36 L216.51 296.43 L216.91 296.51 L217.3 296.58 L218.48 296.8 L219.66 297.02 L220.85 297.24 L222.03 297.45 L223.21 297.66 L224.39 297.87 L225.57 298.08 L226.75 298.28 L227.93 298.48 L229.11 298.68 L230.29 298.88 L231.48 299.07 L232.66 299.26 L233.84 299.45 L235.02 299.64 L236.2 299.82 L237.38 300.01 L238.56 300.19 L239.74 300.37 L240.92 300.54 L242.11 300.72 L243.29 300.89 L244.47 301.06 L245.65 301.23 L246.83 301.4 L248.01 301.57 L249.19 301.73 L250.37 301.89 L251.55 302.05 L252.74 302.21 L253.92 302.37 L255.1 302.52 L256.28 302.67 L257.46 302.82 L258.64 302.97 L259.82 303.12 L261 303.27 L262.18 303.41 L263.36 303.55 L264.55 303.7 L265.73 303.83 L266.91 303.97 L268.09 304.11 L269.27 304.24 L270.45 304.38 L271.63 304.51 L272.81 304.64 L273.99 304.77 L275.18 304.9 L276.36 305.02 L277.54 305.15 L278.72 305.27 L279.9 305.39 L281.08 305.51 L282.26 305.63 L283.44 305.75 L284.62 305.87 L285.81 305.98 L286.99 306.09 L288.17 306.21 L289.35 306.32 L290.53 306.43 L291.71 306.54 L292.89 306.64 L294.07 306.75 L295.25 306.86 L296.44 306.96 L297.62 307.06 L298.8 307.16 L299.98 307.27 L301.16 307.36 L302.34 307.46 L303.52 307.56 L304.7 307.66 L305.88 307.75 L307.07 307.84 L308.25 307.94 L309.43 308.03 L310.61 308.12 L311.79 308.21 L312.97 308.3 L314.15 308.39 L315.33 308.47 L316.51 308.56 L317.7 308.64 L318.88 308.73 L320.06 308.81 L321.24 308.89 L322.42 308.97 L323.6 309.05 L324.78 309.13 L325.96 309.21 L327.14 309.29 L328.33 309.36 L329.51 309.44 L330.69 309.51 L331.87 309.59 L333.05 309.66 L334.23 309.73 L335.41 309.81 L336.59 309.88 L337.77 309.95 L338.96 310.02 L340.14 310.08 L341.32 310.15 L342.5 310.22 L343.68 310.28 L344.86 310.35 L346.04 310.41 L347.22 310.48 L348.4 310.54 L349.59 310.6 L350.77 310.66 L351.95 310.73 L353.13 310.79 L354.31 310.85 L355.49 310.9 L356.67 310.96 L357.85 311.02 L359.03 311.08 L360.22 311.13 L361.4 311.19 L362.58 311.24 L363.76 311.3 L364.94 311.35 L366.12 311.41 L367.3 311.46 L368.48 311.51 L369.66 311.56 L370.85 311.61 L372.03 311.66 L373.21 311.71 L374.39 311.76 L375.57 311.81 L376.75 311.86 L377.93 311.91 L379.11 311.95 L380.29 312 L381.47 312.05 L382.66 312.09 L383.84 312.14 L385.02 312.18 L386.2 312.23 L387.38 312.27 L388.56 312.31 L389.74 312.35 L390.92 312.4 L392.1 312.44 L393.29 312.48 L394.47 312.52 L395.65 312.56 L396.83 312.6 L398.01 312.64 L399.19 312.68 L400.37 312.71 L401.55 312.75 L402.73 312.79 L403.92 312.83 L405.1 312.86 L406.28 312.9 L407.46 312.94 L408.64 312.97 L409.82 313.01 L410.84 313.04"/>
<path d="M87.11 326 L87.3 325.81 L87.5 325.63 L87.7 325.45 L87.89 325.28 L88.09 325.1 L88.29 324.93 L88.48 324.76 L88.68 324.59 L88.88 324.43 L89.07 324.27 L89.27 324.11 L89.47 323.95 L89.66 323.8 L89.86 323.65 L90.06 323.5 L90.26 323.35 L90.45 323.19 L90.65 323.03 L90.85 322.87 L91.04 322.71 L91.24 322.55 L91.44 322.39 L91.63 322.23 L91.83 322.07 L92.03 321.91 L92.22 321.76 L92.42 321.6 L92.62 321.44 L92.81 321.29 L93.01 321.13 L93.21 320.98 L93.4 320.83 L93.6 320.67 L93.8 320.52 L94 320.37 L94.19 320.22 L94.39 320.06 L94.59 319.91 L94.78 319.76 L94.98 319.61 L95.18 319.46 L95.37 319.31 L95.57 319.17 L95.77 319.02 L95.96 318.87 L96.16 318.72 L96.36 318.58 L96.55 318.43 L96.75 318.28 L96.95 318.14 L97.14 317.99 L97.34 317.85 L97.54 317.7 L97.74 317.56 L97.93 317.42 L98.13 317.27 L98.33 317.13 L98.52 316.99 L98.72 316.84 L98.92 316.7 L99.11 316.56 L99.31 316.42 L99.51 316.28 L99.7 316.14 L99.82 316.05 L100.22 315.77 L100.61 315.5 L101 315.22 L101.4 314.94 L101.79 314.67 L102.18 314.4 L102.58 314.13 L102.97 313.86 L103.37 313.59 L103.76 313.32 L104.15 313.05 L104.55 312.79 L104.94 312.53 L105.33 312.26 L105.73 312 L106.12 311.74 L106.51 311.49 L106.91 311.23 L107.3 310.97 L107.7 310.72 L108.09 310.46 L108.48 310.21 L108.88 309.96 L109.27 309.71 L109.66 309.46 L110.06 309.21 L110.45 308.97 L110.85 308.72 L111.24 308.47 L111.63 308.23 L112.03 307.99 L112.42 307.75 L112.81 307.51 L113.21 307.27 L113.6 307.03 L114 306.79 L114.39 306.56 L114.78 306.32 L115.18 306.09 L115.57 305.86 L115.96 305.63 L116.36 305.4 L116.75 305.17 L117.14 304.94 L117.54 304.71 L117.93 304.48 L118.33 304.26 L118.72 304.04 L119.11 303.81 L119.51 303.59 L119.9 303.37 L120.29 303.15 L120.69 302.93 L121.08 302.71 L121.48 302.5 L121.87 302.28 L122.26 302.06 L122.66 301.85 L123.05 301.64 L123.44 301.43 L123.84 301.21 L124.23 301.01 L124.63 300.8 L125.02 300.59 L125.41 300.38 L125.81 300.18 L126.2 299.97 L126.59 299.77 L126.99 299.56 L127.38 299.36 L127.77 299.16 L128.17 298.96 L128.56 298.76 L128.96 298.57 L129.35 298.37 L129.74 298.17 L130.14 297.98 L130.53 297.78 L130.92 297.59 L131.32 297.4 L131.71 297.21 L132.11 297.02 L132.5 296.83 L132.89 296.65 L133.29 296.46 L133.68 296.27 L134.07 296.09 L134.47 295.91 L134.86 295.72 L135.25 295.54 L135.65 295.36 L136.04 295.18 L136.44 295.01 L136.83 294.83 L137.22 294.65 L137.62 294.48 L138.01 294.31 L138.4 294.13 L138.8 293.96 L139.19 293.79 L139.59 293.63 L139.98 293.46 L140.37 293.29 L140.77 293.13 L141.16 292.96 L141.55 292.8 L141.95 292.64 L142.34 292.48 L142.74 292.32 L143.13 292.17 L143.52 292.01 L143.92 291.86 L144.31 291.7 L144.7 291.55 L145.1 291.4 L145.49 291.25 L145.88 291.11 L146.28 290.96 L146.67 290.82 L147.07 290.68 L147.46 290.54 L147.85 290.4 L148.25 290.26 L148.64 290.12 L149.03 289.99 L149.43 289.85 L149.82 289.72 L150.22 289.59 L150.61 289.47 L151 289.34 L151.4 289.21 L151.79 289.09 L152.18 288.97 L152.58 288.85 L152.97 288.73 L153.37 288.62 L153.76 288.5 L154.15 288.39 L154.55 288.28 L154.94 288.17 L155.33 288.06 L155.73 287.96 L156.12 287.86 L156.51 287.75 L156.91 287.65 L157.3 287.55 L157.7 287.46 L158.09 287.36 L158.48 287.27 L158.88 287.17 L159.27 287.08 L159.66 286.99 L160.06 286.91 L160.45 286.82 L160.85 286.73 L161.24 286.65 L161.63 286.57 L162.03 286.49 L162.42 286.41 L162.81 286.33 L163.21 286.25 L163.6 286.18 L164 286.1 L164.39 286.03 L164.78 285.96 L165.18 285.89 L165.57 285.82 L165.96 285.75 L166.36 285.68 L166.75 285.62 L167.14 285.55 L167.54 285.49 L167.93 285.42 L168.33 285.36 L168.72 285.3 L169.11 285.24 L169.51 285.18 L169.9 285.13 L170.29 285.07 L170.69 285.01 L171.08 284.96 L171.48 284.91 L171.87 284.85 L172.26 284.8 L172.66 284.75 L173.05 284.7 L173.44 284.65 L173.84 284.6 L174.23 284.55 L174.62 284.51 L175.02 284.46 L175.41 284.41 L175.81 284.37 L176.2 284.33 L176.59 284.28 L176.99 284.24 L177.38 284.2 L177.77 284.16 L178.17 284.12 L178.56 284.08 L178.96 284.04 L179.35 284 L179.74 283.96 L180.14 283.92 L180.53 283.88 L180.92 283.85 L181.32 283.81 L181.71 283.78 L182.11 283.74 L182.5 283.71 L182.89 283.68 L183.29 283.64 L183.68 283.61 L184.07 283.58 L184.47 283.55 L184.86 283.52 L185.25 283.49 L185.65 283.46 L186.04 283.43 L186.44 283.4 L186.83 283.38 L187.22 283.35 L187.62 283.32 L188.01 283.29 L188.4 283.27 L188.8 283.24 L189.19 283.22 L189.59 283.19 L189.98 283.17 L190.37 283.15 L190.77 283.12 L191.16 283.1 L191.55 283.08 L191.95 283.06 L192.34 283.03 L192.74 283.01 L193.13 282.99 L193.52 282.97 L193.68 282.96 L193.68 282.96 L193.78 284.58 L193.88 285.39 L193.98 285.85 L194.07 286.15 L194.17 286.38 L194.27 286.58 L194.37 286.76 L194.47 286.94 L194.57 287.1 L194.66 287.27 L194.76 287.42 L194.86 287.58 L194.96 287.73 L195.06 287.88 L195.16 288.02 L195.25 288.16 L195.35 288.3 L195.45 288.43 L195.55 288.56 L195.65 288.69 L195.75 288.81 L195.85 288.93 L195.94 289.05 L196.04 289.17 L196.14 289.28 L196.24 289.39 L196.34 289.5 L196.44 289.61 L196.53 289.71 L196.63 289.82 L196.73 289.92 L196.83 290.01 L196.93 290.11 L197.03 290.2 L197.12 290.29 L197.22 290.38 L197.32 290.47 L197.42 290.56 L197.52 290.64 L197.62 290.72 L197.72 290.8 L197.81 290.88 L197.91 290.96 L198.01 291.04 L198.11 291.11 L198.21 291.18 L198.31 291.26 L198.4 291.33 L198.8 291.59 L199.19 291.84 L199.59 292.07 L199.98 292.29 L200.37 292.49 L200.77 292.68 L201.16 292.86 L201.55 293.03 L201.95 293.19 L202.34 293.34 L202.74 293.48 L203.13 293.62 L203.52 293.75 L203.92 293.88 L204.31 294 L204.7 294.11 L205.1 294.23 L205.49 294.34 L205.88 294.44 L206.28 294.54 L206.67 294.65 L207.07 294.74 L207.46 294.84 L207.85 294.93 L208.25 295.03 L208.64 295.12 L209.03 295.21 L209.43 295.29 L209.82 295.38 L210.22 295.47 L210.61 295.55 L211 295.63 L211.4 295.72 L211.79 295.8 L212.18 295.88 L212.58 295.96 L212.97 296.04 L213.37 296.12 L213.76 296.19 L214.15 296.27 L214.55 296.35 L214.94 296.43 L215.33 296.5 L215.73 296.58 L216.12 296.65 L216.51 296.73 L216.91 296.8 L217.3 296.88 L218.48 297.1 L219.66 297.31 L220.85 297.53 L222.03 297.74 L223.21 297.95 L224.39 298.15 L225.57 298.36 L226.75 298.56 L227.93 298.76 L229.11 298.95 L230.29 299.15 L231.48 299.34 L232.66 299.53 L233.84 299.72 L235.02 299.9 L236.2 300.09 L237.38 300.27 L238.56 300.45 L239.74 300.62 L240.92 300.8 L242.11 300.97 L243.29 301.14 L244.47 301.31 L245.65 301.48 L246.83 301.65 L248.01 301.81 L249.19 301.97 L250.37 302.13 L251.55 302.29 L252.74 302.45 L253.92 302.6 L255.1 302.75 L256.28 302.91 L257.46 303.06 L258.64 303.2 L259.82 303.35 L261 303.49 L262.18 303.64 L263.36 303.78 L264.55 303.92 L265.73 304.06 L266.91 304.19 L268.09 304.33 L269.27 304.46 L270.45 304.59 L271.63 304.72 L272.81 304.85 L273.99 304.98 L275.18 305.11 L276.36 305.23 L277.54 305.36 L278.72 305.48 L279.9 305.6 L281.08 305.72 L282.26 305.84 L283.44 305.95 L284.62 306.07 L285.81 306.18 L286.99 306.29 L288.17 306.41 L289.35 306.52 L290.53 306.62 L291.71 306.73 L292.89 306.84 L294.07 306.94 L295.25 307.05 L296.44 307.15 L297.62 307.25 L298.8 307.35 L299.98 307.45 L301.16 307.55 L302.34 307.65 L303.52 307.74 L304.7 307.84 L305.88 307.93 L307.07 308.03 L308.25 308.12 L309.43 308.21 L310.61 308.3 L311.79 308.39 L312.97 308.48 L314.15 308.56 L315.33 308.65 L316.51 308.73 L317.7 308.82 L318.88 308.9 L320.06 308.98 L321.24 309.06 L322.42 309.14 L323.6 309.22 L324.78 309.3 L325.96 309.38 L327.14 309.45 L328.33 309.53 L329.51 309.61 L330.69 309.68 L331.87 309.75 L333.05 309.83 L334.23 309.9 L335.41 309.97 L336.59 310.04 L337.77 310.11 L338.96 310.18 L340.14 310.24 L341.32 310.31 L342.5 310.38 L343.68 310.44 L344.86 310.51 L346.04 310.57 L347.22 310.63 L348.4 310.7 L349.59 310.76 L350.77 310.82 L351.95 310.88 L353.13 310.94 L354.31 311 L355.49 311.06 L356.67 311.11 L357.85 311.17 L359.03 311.23 L360.22 311.28 L361.4 311.34 L362.58 311.39 L363.76 311.45 L364.94 311.5 L366.12 311.55 L367.3 311.6 L368.48 311.66 L369.66 311.71 L370.85 311.76 L372.03 311.81 L373.21 311.86 L374.39 311.91 L375.57 311.95 L376.75 312 L377.93 312.05 L379.11 312.09 L380.29 312.14 L381.47 312.19 L382.66 312.23 L383.84 312.28 L385.02 312.32 L386.2 312.36 L387.38 312.41 L388.56 312.45 L389.74 312.49 L390.92 312.53 L392.1 312.57 L393.29 312.61 L394.47 312.65 L395.65 312.69 L396.83 312.73 L398.01 312.77 L399.19 312.81 L400.37 312.85 L401.55 312.89 L402.73 312.92 L403.92 312.96 L405.1 313 L406.28 313.03 L407.46 313.07 L408.64 313.1 L409.82 313.14 L410.84 313.17"/>
</g>
<text x="275" y="365.8" font-size="14.6" text-anchor="middle" textLength="36.3" lengthAdjust="spacingAndGlyphs" stroke="#000" stroke-width="0.4">Seconds</text>
<text x="38.2" y="201" font-size="15" text-anchor="middle" textLength="12.2" lengthAdjust="spacingAndGlyphs" stroke="#000" stroke-width="0.4" transform="rotate(-90 38.2 201)">RU</text>
<line x1="281" y1="46.8" x2="281" y2="164" stroke="#000" stroke-width="1.5" fill="none"/>
<line x1="276.6" y1="159" x2="281" y2="159" stroke="#000" stroke-width="1.5" fill="none"/>
<text transform="translate(273.4 162.6) scale(1.1 1)" font-size="11.6" text-anchor="end" letter-spacing="0.55" stroke="#000" stroke-width="0.15">0</text>
<line x1="276.6" y1="137.44" x2="281" y2="137.44" stroke="#000" stroke-width="1.5" fill="none"/>
<text transform="translate(273.4 141.04) scale(1.1 1)" font-size="11.6" text-anchor="end" letter-spacing="0.55" stroke="#000" stroke-width="0.15">20</text>
<line x1="276.6" y1="115.88" x2="281" y2="115.88" stroke="#000" stroke-width="1.5" fill="none"/>
<text transform="translate(273.4 119.48) scale(1.1 1)" font-size="11.6" text-anchor="end" letter-spacing="0.55" stroke="#000" stroke-width="0.15">40</text>
<line x1="276.6" y1="94.32" x2="281" y2="94.32" stroke="#000" stroke-width="1.5" fill="none"/>
<text transform="translate(273.4 97.92) scale(1.1 1)" font-size="11.6" text-anchor="end" letter-spacing="0.55" stroke="#000" stroke-width="0.15">60</text>
<line x1="276.6" y1="72.76" x2="281" y2="72.76" stroke="#000" stroke-width="1.5" fill="none"/>
<text transform="translate(273.4 76.36) scale(1.1 1)" font-size="11.6" text-anchor="end" letter-spacing="0.55" stroke="#000" stroke-width="0.15">80</text>
<line x1="276.6" y1="51.2" x2="281" y2="51.2" stroke="#000" stroke-width="1.5" fill="none"/>
<text transform="translate(273.4 54.8) scale(1.1 1)" font-size="11.6" text-anchor="end" letter-spacing="0.55" stroke="#000" stroke-width="0.15">100</text>
<line x1="288.8" y1="171.1" x2="463.9" y2="171.1" stroke="#000" stroke-width="1.5" fill="none"/>
<line x1="293.1" y1="171.1" x2="293.1" y2="175.4" stroke="#000" stroke-width="1.5" fill="none"/>
<text transform="translate(293.4 190.7) scale(1.1 1)" font-size="11.6" text-anchor="middle" letter-spacing="0.55" stroke="#000" stroke-width="0.15">0</text>
<line x1="326.5" y1="171.1" x2="326.5" y2="175.4" stroke="#000" stroke-width="1.5" fill="none"/>
<text transform="translate(326.8 190.7) scale(1.1 1)" font-size="11.6" text-anchor="middle" letter-spacing="0.55" stroke="#000" stroke-width="0.15">200</text>
<line x1="359.9" y1="171.1" x2="359.9" y2="175.4" stroke="#000" stroke-width="1.5" fill="none"/>
<text transform="translate(360.2 190.7) scale(1.1 1)" font-size="11.6" text-anchor="middle" letter-spacing="0.55" stroke="#000" stroke-width="0.15">400</text>
<line x1="393.3" y1="171.1" x2="393.3" y2="175.4" stroke="#000" stroke-width="1.5" fill="none"/>
<text transform="translate(393.6 190.7) scale(1.1 1)" font-size="11.6" text-anchor="middle" letter-spacing="0.55" stroke="#000" stroke-width="0.15">600</text>
<line x1="426.7" y1="171.1" x2="426.7" y2="175.4" stroke="#000" stroke-width="1.5" fill="none"/>
<text transform="translate(427 190.7) scale(1.1 1)" font-size="11.6" text-anchor="middle" letter-spacing="0.55" stroke="#000" stroke-width="0.15">800</text>
<line x1="460.1" y1="171.1" x2="460.1" y2="175.4" stroke="#000" stroke-width="1.5" fill="none"/>
<text transform="translate(460.4 190.7) scale(1.1 1)" font-size="11.6" text-anchor="middle" letter-spacing="0.55" stroke="#000" stroke-width="0.15">1000</text>
<text x="339.6" y="210" font-size="14.0" text-anchor="start" textLength="48.9" lengthAdjust="spacingAndGlyphs" stroke="#000" stroke-width="0.4">ADAMTS13</text>
<text x="392.8" y="210" font-size="14.0" text-anchor="start" textLength="21.2" lengthAdjust="spacingAndGlyphs" stroke="#000" stroke-width="0.4">(nM)</text>
<path d="M293.1 159 L294.77 156.95 L296.44 154.94 L298.11 152.98 L299.78 151.07 L301.45 149.2 L303.12 147.37 L304.79 145.58 L306.46 143.84 L308.13 142.13 L309.8 140.46 L311.47 138.82 L313.14 137.22 L314.81 135.65 L316.48 134.12 L318.15 132.62 L319.82 131.14 L321.49 129.7 L323.16 128.29 L324.83 126.9 L326.5 125.54 L328.17 124.21 L329.84 122.9 L331.51 121.62 L333.18 120.36 L334.85 119.12 L336.52 117.91 L338.19 116.72 L339.86 115.55 L341.53 114.4 L343.2 113.28 L344.87 112.17 L346.54 111.08 L348.21 110.01 L349.88 108.96 L351.55 107.93 L353.22 106.91 L354.89 105.92 L356.56 104.93 L358.23 103.97 L359.9 103.02 L361.57 102.08 L363.24 101.17 L364.91 100.26 L366.58 99.37 L368.25 98.49 L369.92 97.63 L371.59 96.78 L373.26 95.95 L374.93 95.12 L376.6 94.31 L378.27 93.51 L379.94 92.73 L381.61 91.95 L383.28 91.19 L384.95 90.43 L386.62 89.69 L388.29 88.96 L389.96 88.24 L391.63 87.53 L393.3 86.83 L394.97 86.14 L396.64 85.46 L398.31 84.78 L399.98 84.12 L401.65 83.47 L403.32 82.82 L404.99 82.19 L406.66 81.56 L408.33 80.94 L410 80.33 L411.67 79.72 L413.34 79.13 L415.01 78.54 L416.68 77.96 L418.35 77.39 L420.02 76.82 L421.69 76.26 L423.36 75.71 L425.03 75.16 L426.7 74.63 L428.37 74.09 L430.04 73.57 L431.71 73.05 L433.38 72.54 L435.05 72.03 L436.72 71.53 L438.39 71.04 L440.06 70.55 L441.73 70.06 L443.4 69.59" fill="none" stroke="#a1002b" stroke-width="1.5"/>
<circle cx="293.1" cy="159" r="2.7" fill="#a1002b"/>
<circle cx="309.8" cy="139.81" r="2.7" fill="#a1002b"/>
<circle cx="343.2" cy="114.69" r="2.7" fill="#a1002b"/>
<circle cx="376.6" cy="93.03" r="2.7" fill="#a1002b"/>
<circle cx="410" cy="80.41" r="2.7" fill="#a1002b"/>
<circle cx="443.4" cy="69.85" r="2.7" fill="#a1002b"/>
<text x="10.6" y="388.9" font-size="17.5" font-weight="bold">B</text>
<text x="31.8" y="410.5" font-size="14.4" font-weight="bold" letter-spacing="0.22">CD163 SRCR 1-5</text>
<line x1="76.1" y1="436" x2="76.1" y2="686.5" stroke="#000" stroke-width="1.5" fill="none"/>
<line x1="71.6" y1="686.5" x2="76.1" y2="686.5" stroke="#000" stroke-width="1.5" fill="none"/>
<text transform="translate(67.9 690.1) scale(1.1 1)" font-size="11.6" text-anchor="end" letter-spacing="0.55" stroke="#000" stroke-width="0.15">0</text>
<line x1="71.6" y1="637.14" x2="76.1" y2="637.14" stroke="#000" stroke-width="1.5" fill="none"/>
<text transform="translate(67.9 640.74) scale(1.1 1)" font-size="11.6" text-anchor="end" letter-spacing="0.55" stroke="#000" stroke-width="0.15">20</text>
<line x1="71.6" y1="587.78" x2="76.1" y2="587.78" stroke="#000" stroke-width="1.5" fill="none"/>
<text transform="translate(67.9 591.38) scale(1.1 1)" font-size="11.6" text-anchor="end" letter-spacing="0.55" stroke="#000" stroke-width="0.15">40</text>
<line x1="71.6" y1="538.42" x2="76.1" y2="538.42" stroke="#000" stroke-width="1.5" fill="none"/>
<text transform="translate(67.9 542.02) scale(1.1 1)" font-size="11.6" text-anchor="end" letter-spacing="0.55" stroke="#000" stroke-width="0.15">60</text>
<line x1="71.6" y1="489.06" x2="76.1" y2="489.06" stroke="#000" stroke-width="1.5" fill="none"/>
<text transform="translate(67.9 492.66) scale(1.1 1)" font-size="11.6" text-anchor="end" letter-spacing="0.55" stroke="#000" stroke-width="0.15">80</text>
<line x1="71.6" y1="439.7" x2="76.1" y2="439.7" stroke="#000" stroke-width="1.5" fill="none"/>
<text transform="translate(67.9 443.3) scale(1.1 1)" font-size="11.6" text-anchor="end" letter-spacing="0.55" stroke="#000" stroke-width="0.15">100</text>
<line x1="76.1" y1="686.5" x2="434.6" y2="686.5" stroke="#000" stroke-width="1.5" fill="none"/>
<line x1="76.1" y1="686.5" x2="76.1" y2="691" stroke="#000" stroke-width="1.5" fill="none"/>
<text transform="translate(76.4 706.6) scale(1.1 1)" font-size="11.6" text-anchor="middle" letter-spacing="0.55" stroke="#000" stroke-width="0.15">0</text>
<line x1="146.8" y1="686.5" x2="146.8" y2="691" stroke="#000" stroke-width="1.5" fill="none"/>
<text transform="translate(147.1 706.6) scale(1.1 1)" font-size="11.6" text-anchor="middle" letter-spacing="0.55" stroke="#000" stroke-width="0.15">200</text>
<line x1="217.5" y1="686.5" x2="217.5" y2="691" stroke="#000" stroke-width="1.5" fill="none"/>
<text transform="translate(217.8 706.6) scale(1.1 1)" font-size="11.6" text-anchor="middle" letter-spacing="0.55" stroke="#000" stroke-width="0.15">400</text>
<line x1="288.2" y1="686.5" x2="288.2" y2="691" stroke="#000" stroke-width="1.5" fill="none"/>
<text transform="translate(288.5 706.6) scale(1.1 1)" font-size="11.6" text-anchor="middle" letter-spacing="0.55" stroke="#000" stroke-width="0.15">600</text>
<line x1="358.9" y1="686.5" x2="358.9" y2="691" stroke="#000" stroke-width="1.5" fill="none"/>
<text transform="translate(359.2 706.6) scale(1.1 1)" font-size="11.6" text-anchor="middle" letter-spacing="0.55" stroke="#000" stroke-width="0.15">800</text>
<line x1="429.6" y1="686.5" x2="429.6" y2="691" stroke="#000" stroke-width="1.5" fill="none"/>
<text transform="translate(429.9 706.6) scale(1.1 1)" font-size="11.6" text-anchor="middle" letter-spacing="0.55" stroke="#000" stroke-width="0.15">1000</text>
<g fill="none" stroke="#a1002b" stroke-width="2.0" stroke-linejoin="round" stroke-linecap="butt">
<path d="M85.89 686.5 L86.07 683.04 L86.25 679.7 L86.42 676.48 L86.6 673.37 L86.78 670.38 L86.95 667.48 L87.13 664.69 L87.31 661.98 L87.48 659.38 L87.66 656.85 L87.84 654.41 L88.01 652.06 L88.19 649.77 L88.37 647.57 L88.54 645.43 L88.72 643.36 L88.9 641.35 L89.07 639.4 L89.25 637.51 L89.43 635.67 L89.6 633.9 L89.78 632.17 L89.96 630.49 L90.13 628.86 L90.31 627.28 L90.49 625.74 L90.66 624.24 L90.84 622.78 L91.02 621.36 L91.19 619.98 L91.37 618.63 L91.55 617.32 L91.72 616.04 L91.9 614.79 L92.08 613.57 L92.25 612.38 L92.43 611.22 L92.61 610.08 L92.79 608.97 L92.96 607.89 L93.14 606.83 L93.32 605.79 L93.49 604.78 L93.67 603.78 L93.85 602.81 L94.02 601.85 L94.2 600.91 L94.38 600 L94.55 599.09 L94.73 598.21 L94.91 597.34 L95.08 596.49 L95.26 595.65 L95.44 594.83 L95.61 594.02 L95.79 593.22 L95.97 592.44 L96.14 591.67 L96.32 590.91 L96.5 590.17 L96.67 589.43 L96.85 588.71 L97.03 587.99 L97.2 587.29 L97.31 586.87 L97.66 585.5 L98.02 584.16 L98.37 582.86 L98.72 581.59 L99.08 580.35 L99.43 579.13 L99.78 577.94 L100.14 576.77 L100.49 575.62 L100.84 574.49 L101.2 573.38 L101.55 572.29 L101.91 571.22 L102.26 570.16 L102.61 569.12 L102.97 568.09 L103.32 567.07 L103.67 566.07 L104.03 565.07 L104.38 564.09 L104.73 563.12 L105.09 562.16 L105.44 561.21 L105.79 560.27 L106.15 559.34 L106.5 558.42 L106.85 557.5 L107.21 556.59 L107.56 555.69 L107.91 554.8 L108.27 553.91 L108.62 553.04 L108.98 552.16 L109.33 551.3 L109.68 550.43 L110.04 549.58 L110.39 548.73 L110.74 547.89 L111.1 547.05 L111.45 546.22 L111.8 545.39 L112.16 544.57 L112.51 543.76 L112.86 542.94 L113.22 542.14 L113.57 541.34 L113.92 540.54 L114.28 539.75 L114.63 538.97 L114.98 538.19 L115.34 537.41 L115.69 536.64 L116.05 535.88 L116.4 535.12 L116.75 534.36 L117.11 533.61 L117.46 532.86 L117.81 532.12 L118.17 531.38 L118.52 530.65 L118.87 529.93 L119.23 529.21 L119.58 528.49 L119.93 527.78 L120.29 527.08 L120.64 526.38 L120.99 525.69 L121.35 525 L121.7 524.32 L122.05 523.65 L122.41 522.98 L122.76 522.31 L123.12 521.66 L123.47 521.01 L123.82 520.36 L124.18 519.73 L124.53 519.1 L124.88 518.47 L125.24 517.85 L125.59 517.24 L125.94 516.64 L126.3 516.04 L126.65 515.45 L127 514.86 L127.36 514.29 L127.71 513.72 L128.06 513.15 L128.42 512.6 L128.77 512.05 L129.12 511.51 L129.48 510.97 L129.83 510.45 L130.19 509.92 L130.54 509.41 L130.89 508.9 L131.25 508.4 L131.6 507.91 L131.95 507.43 L132.31 506.95 L132.66 506.48 L133.01 506.01 L133.37 505.56 L133.72 505.1 L134.07 504.66 L134.43 504.23 L134.78 503.8 L135.13 503.37 L135.49 502.96 L135.84 502.55 L136.19 502.14 L136.55 501.75 L136.9 501.36 L137.26 500.97 L137.61 500.59 L137.96 500.22 L138.32 499.85 L138.67 499.49 L139.02 499.14 L139.38 498.79 L139.73 498.44 L140.08 498.1 L140.44 497.77 L140.79 497.44 L141.14 497.12 L141.5 496.8 L141.85 496.48 L142.2 496.17 L142.56 495.86 L142.91 495.56 L143.26 495.27 L143.62 494.97 L143.97 494.68 L144.33 494.4 L144.68 494.11 L145.03 493.84 L145.39 493.56 L145.74 493.29 L146.09 493.02 L146.45 492.75 L146.8 492.49 L147.15 492.23 L147.51 491.97 L147.86 491.71 L148.21 491.45 L148.57 491.2 L148.92 490.95 L149.27 490.7 L149.63 490.46 L149.98 490.21 L150.33 489.97 L150.69 489.72 L151.04 489.48 L151.4 489.24 L151.75 489 L152.1 488.76 L152.46 488.53 L152.81 488.29 L153.16 488.05 L153.52 487.82 L153.87 487.58 L154.22 487.35 L154.58 487.11 L154.93 486.88 L155.28 486.64 L155.64 486.41 L155.99 486.17 L156.34 485.94 L156.7 485.7 L157.05 485.47 L157.4 485.23 L157.76 484.99 L158.11 484.75 L158.47 484.51 L158.82 484.27 L159.17 484.03 L159.53 483.78 L159.88 483.54 L160.23 483.3 L160.59 483.05 L160.94 482.8 L161.29 482.55 L161.65 482.3 L162 482.05 L162.35 481.8 L162.71 481.55 L163.06 481.3 L163.41 481.04 L163.77 480.78 L164.12 480.53 L164.47 480.27 L164.83 480.01 L165.18 479.74 L165.54 479.48 L165.89 479.22 L166.24 478.95 L166.6 478.69 L166.95 478.42 L167.3 478.15 L167.66 477.88 L168.01 477.61 L168.36 477.33 L168.72 477.06 L169.07 476.79 L169.42 476.51 L169.78 476.24 L170.13 475.96 L170.48 475.68 L170.84 475.41 L171.19 475.13 L171.54 474.85 L171.9 474.57 L172.25 474.29 L172.61 474.01 L172.96 473.73 L173.31 473.45 L173.67 473.16 L174.02 472.88 L174.37 472.6 L174.73 472.32 L175.08 472.04 L175.43 471.75 L175.79 471.47 L176.14 471.19 L176.49 470.91 L176.85 470.63 L177.2 470.35 L177.55 470.07 L177.91 469.79 L178.26 469.51 L178.62 469.23 L178.97 468.95 L179.32 468.68 L179.68 468.4 L180.03 468.12 L180.38 467.85 L180.74 467.58 L181.09 467.3 L181.44 467.03 L181.58 466.93 L181.58 466.93 L181.67 487.42 L181.76 496.55 L181.85 500.74 L181.94 502.78 L182.03 503.88 L182.11 504.57 L182.2 505.09 L182.29 505.53 L182.38 505.93 L182.47 506.32 L182.56 506.7 L182.64 507.08 L182.73 507.45 L182.82 507.82 L182.91 508.19 L183 508.56 L183.09 508.92 L183.18 509.28 L183.26 509.65 L183.35 510.01 L183.44 510.36 L183.53 510.72 L183.62 511.08 L183.71 511.43 L183.79 511.78 L183.88 512.13 L183.97 512.48 L184.06 512.83 L184.15 513.17 L184.24 513.52 L184.32 513.86 L184.41 514.2 L184.5 514.54 L184.59 514.88 L184.68 515.21 L184.77 515.55 L184.85 515.88 L184.94 516.21 L185.03 516.54 L185.12 516.87 L185.21 517.2 L185.3 517.52 L185.38 517.85 L185.47 518.17 L185.56 518.49 L185.65 518.81 L185.74 519.13 L185.83 519.45 L186.18 520.7 L186.53 521.93 L186.89 523.14 L187.24 524.33 L187.59 525.49 L187.95 526.64 L188.3 527.76 L188.65 528.87 L189.01 529.95 L189.36 531.02 L189.71 532.06 L190.07 533.09 L190.42 534.1 L190.78 535.1 L191.13 536.07 L191.48 537.03 L191.84 537.97 L192.19 538.9 L192.54 539.81 L192.9 540.7 L193.25 541.58 L193.6 542.44 L193.96 543.29 L194.31 544.12 L194.66 544.94 L195.02 545.75 L195.37 546.54 L195.72 547.32 L196.08 548.08 L196.43 548.83 L196.78 549.57 L197.14 550.3 L197.49 551.01 L197.85 551.71 L198.2 552.4 L198.55 553.08 L198.91 553.75 L199.26 554.41 L199.61 555.05 L199.97 555.69 L200.32 556.31 L200.67 556.92 L201.03 557.53 L201.38 558.12 L201.73 558.71 L202.09 559.28 L202.44 559.85 L202.79 560.4 L203.85 562.02 L204.92 563.56 L205.98 565.03 L207.04 566.43 L208.1 567.77 L209.16 569.04 L210.22 570.26 L211.28 571.43 L212.34 572.55 L213.4 573.61 L214.46 574.64 L215.52 575.62 L216.58 576.56 L217.64 577.46 L218.7 578.33 L219.76 579.16 L220.82 579.96 L221.88 580.73 L222.94 581.48 L224 582.19 L225.06 582.88 L226.13 583.55 L227.19 584.2 L228.25 584.82 L229.31 585.42 L230.37 586.01 L231.43 586.57 L232.49 587.12 L233.55 587.65 L234.61 588.17 L235.67 588.68 L236.73 589.17 L237.79 589.64 L238.85 590.11 L239.91 590.56 L240.97 591 L242.03 591.43 L243.09 591.86 L244.15 592.27 L245.21 592.67 L246.27 593.07 L247.34 593.46 L248.4 593.84 L249.46 594.21 L250.52 594.58 L251.58 594.94 L252.64 595.29 L253.7 595.64 L254.76 595.99 L255.82 596.32 L256.88 596.66 L257.94 596.99 L259 597.31 L260.06 597.63 L261.12 597.94 L262.18 598.26 L263.24 598.56 L264.3 598.87 L265.36 599.17 L266.42 599.47 L267.48 599.76 L268.55 600.05 L269.61 600.34 L270.67 600.63 L271.73 600.91 L272.79 601.19 L273.85 601.47 L274.91 601.75 L275.97 602.03 L277.03 602.3 L278.09 602.57 L279.15 602.84 L280.21 603.1 L281.27 603.37 L282.33 603.63 L283.39 603.89 L284.45 604.15 L285.51 604.41 L286.57 604.67 L287.63 604.92 L288.69 605.18 L289.76 605.43 L290.82 605.68 L291.88 605.93 L292.94 606.18 L294 606.43 L295.06 606.67 L296.12 606.92 L297.18 607.16 L298.24 607.4 L299.3 607.64 L300.36 607.89 L301.42 608.12 L302.48 608.36 L303.54 608.6 L304.6 608.84 L305.66 609.07 L306.72 609.31 L307.78 609.54 L308.84 609.77 L309.9 610 L310.97 610.24 L312.03 610.47 L313.09 610.69 L314.15 610.92 L315.21 611.15 L316.27 611.38 L317.33 611.6 L318.39 611.83 L319.45 612.05 L320.51 612.28 L321.57 612.5 L322.63 612.72 L323.69 612.94 L324.75 613.16 L325.81 613.38 L326.87 613.6 L327.93 613.82 L328.99 614.04 L330.05 614.25 L331.11 614.47 L332.18 614.69 L333.24 614.9 L334.3 615.11 L335.36 615.33 L336.42 615.54 L337.48 615.75 L338.54 615.96 L339.6 616.17 L340.66 616.38 L341.72 616.59 L342.78 616.8 L343.84 617.01 L344.9 617.22 L345.96 617.42 L347.02 617.63 L348.08 617.84 L349.14 618.04 L350.2 618.24 L351.26 618.45 L352.32 618.65 L353.39 618.85 L354.45 619.05 L355.51 619.26 L356.57 619.46 L357.63 619.66 L358.69 619.86 L359.75 620.05 L360.81 620.25 L361.87 620.45 L362.93 620.65 L363.99 620.84 L365.05 621.04 L366.11 621.23 L367.17 621.43 L368.23 621.62 L369.29 621.81 L370.35 622.01 L371.41 622.2 L372.47 622.39 L373.53 622.58 L374.6 622.77 L375.66 622.96 L376.57 623.13"/>
<path d="M85.89 686.5 L86.07 683.1 L86.25 679.82 L86.42 676.64 L86.6 673.57 L86.78 670.61 L86.95 667.74 L87.13 664.97 L87.31 662.29 L87.48 659.69 L87.66 657.18 L87.84 654.75 L88.01 652.39 L88.19 650.11 L88.37 647.9 L88.54 645.76 L88.72 643.68 L88.9 641.66 L89.07 639.7 L89.25 637.79 L89.43 635.95 L89.6 634.15 L89.78 632.41 L89.96 630.71 L90.13 629.06 L90.31 627.46 L90.49 625.9 L90.66 624.38 L90.84 622.9 L91.02 621.46 L91.19 620.06 L91.37 618.69 L91.55 617.36 L91.72 616.06 L91.9 614.79 L92.08 613.55 L92.25 612.34 L92.43 611.16 L92.61 610.01 L92.79 608.88 L92.96 607.78 L93.14 606.7 L93.32 605.64 L93.49 604.61 L93.67 603.6 L93.85 602.61 L94.02 601.64 L94.2 600.69 L94.38 599.75 L94.55 598.84 L94.73 597.94 L94.91 597.06 L95.08 596.2 L95.26 595.35 L95.44 594.51 L95.61 593.7 L95.79 592.89 L95.97 592.1 L96.14 591.32 L96.32 590.55 L96.5 589.8 L96.67 589.06 L96.85 588.33 L97.03 587.61 L97.2 586.9 L97.31 586.47 L97.66 585.1 L98.02 583.75 L98.37 582.45 L98.72 581.17 L99.08 579.93 L99.43 578.71 L99.78 577.52 L100.14 576.35 L100.49 575.21 L100.84 574.09 L101.2 572.99 L101.55 571.91 L101.91 570.84 L102.26 569.79 L102.61 568.76 L102.97 567.74 L103.32 566.73 L103.67 565.74 L104.03 564.76 L104.38 563.79 L104.73 562.84 L105.09 561.89 L105.44 560.95 L105.79 560.03 L106.15 559.11 L106.5 558.2 L106.85 557.3 L107.21 556.41 L107.56 555.53 L107.91 554.65 L108.27 553.78 L108.62 552.92 L108.98 552.06 L109.33 551.21 L109.68 550.37 L110.04 549.53 L110.39 548.7 L110.74 547.87 L111.1 547.05 L111.45 546.24 L111.8 545.43 L112.16 544.63 L112.51 543.83 L112.86 543.04 L113.22 542.25 L113.57 541.47 L113.92 540.7 L114.28 539.92 L114.63 539.16 L114.98 538.4 L115.34 537.64 L115.69 536.89 L116.05 536.15 L116.4 535.41 L116.75 534.67 L117.11 533.94 L117.46 533.22 L117.81 532.5 L118.17 531.79 L118.52 531.08 L118.87 530.37 L119.23 529.68 L119.58 528.99 L119.93 528.3 L120.29 527.62 L120.64 526.95 L120.99 526.28 L121.35 525.62 L121.7 524.96 L122.05 524.32 L122.41 523.67 L122.76 523.04 L123.12 522.41 L123.47 521.79 L123.82 521.17 L124.18 520.56 L124.53 519.96 L124.88 519.37 L125.24 518.78 L125.59 518.2 L125.94 517.62 L126.3 517.05 L126.65 516.49 L127 515.94 L127.36 515.4 L127.71 514.86 L128.06 514.33 L128.42 513.81 L128.77 513.29 L129.12 512.78 L129.48 512.28 L129.83 511.79 L130.19 511.3 L130.54 510.82 L130.89 510.35 L131.25 509.89 L131.6 509.43 L131.95 508.98 L132.31 508.54 L132.66 508.1 L133.01 507.67 L133.37 507.25 L133.72 506.84 L134.07 506.43 L134.43 506.03 L134.78 505.64 L135.13 505.25 L135.49 504.87 L135.84 504.5 L136.19 504.13 L136.55 503.77 L136.9 503.42 L137.26 503.07 L137.61 502.73 L137.96 502.39 L138.32 502.06 L138.67 501.74 L139.02 501.42 L139.38 501.11 L139.73 500.8 L140.08 500.49 L140.44 500.19 L140.79 499.9 L141.14 499.61 L141.5 499.32 L141.85 499.04 L142.2 498.77 L142.56 498.49 L142.91 498.23 L143.26 497.96 L143.62 497.7 L143.97 497.44 L144.33 497.19 L144.68 496.94 L145.03 496.69 L145.39 496.44 L145.74 496.2 L146.09 495.96 L146.45 495.72 L146.8 495.49 L147.15 495.25 L147.51 495.02 L147.86 494.79 L148.21 494.56 L148.57 494.34 L148.92 494.11 L149.27 493.89 L149.63 493.67 L149.98 493.44 L150.33 493.22 L150.69 493 L151.04 492.79 L151.4 492.57 L151.75 492.35 L152.1 492.13 L152.46 491.92 L152.81 491.7 L153.16 491.48 L153.52 491.27 L153.87 491.05 L154.22 490.83 L154.58 490.62 L154.93 490.4 L155.28 490.18 L155.64 489.96 L155.99 489.74 L156.34 489.52 L156.7 489.3 L157.05 489.07 L157.4 488.85 L157.76 488.62 L158.11 488.4 L158.47 488.17 L158.82 487.94 L159.17 487.71 L159.53 487.47 L159.88 487.24 L160.23 487 L160.59 486.77 L160.94 486.53 L161.29 486.29 L161.65 486.04 L162 485.8 L162.35 485.55 L162.71 485.31 L163.06 485.06 L163.41 484.81 L163.77 484.55 L164.12 484.3 L164.47 484.04 L164.83 483.78 L165.18 483.52 L165.54 483.26 L165.89 483 L166.24 482.73 L166.6 482.47 L166.95 482.2 L167.3 481.93 L167.66 481.65 L168.01 481.38 L168.36 481.11 L168.72 480.83 L169.07 480.55 L169.42 480.27 L169.78 479.99 L170.13 479.71 L170.48 479.43 L170.84 479.15 L171.19 478.86 L171.54 478.58 L171.9 478.29 L172.25 478.01 L172.61 477.72 L172.96 477.43 L173.31 477.14 L173.67 476.85 L174.02 476.56 L174.37 476.27 L174.73 475.98 L175.08 475.69 L175.43 475.4 L175.79 475.11 L176.14 474.82 L176.49 474.53 L176.85 474.24 L177.2 473.95 L177.55 473.66 L177.91 473.37 L178.26 473.08 L178.62 472.79 L178.97 472.5 L179.32 472.21 L179.68 471.92 L180.03 471.64 L180.38 471.35 L180.74 471.07 L181.09 470.79 L181.44 470.5 L181.58 470.39 L181.58 470.39 L181.67 491.19 L181.76 500.48 L181.85 504.77 L181.94 506.88 L182.03 508.05 L182.11 508.8 L182.2 509.37 L182.29 509.86 L182.38 510.31 L182.47 510.74 L182.56 511.16 L182.64 511.58 L182.73 511.99 L182.82 512.4 L182.91 512.81 L183 513.21 L183.09 513.61 L183.18 514.01 L183.26 514.4 L183.35 514.8 L183.44 515.18 L183.53 515.57 L183.62 515.95 L183.71 516.33 L183.79 516.71 L183.88 517.09 L183.97 517.46 L184.06 517.83 L184.15 518.2 L184.24 518.56 L184.32 518.92 L184.41 519.28 L184.5 519.64 L184.59 520 L184.68 520.35 L184.77 520.7 L184.85 521.05 L184.94 521.39 L185.03 521.74 L185.12 522.08 L185.21 522.42 L185.3 522.75 L185.38 523.09 L185.47 523.42 L185.56 523.75 L185.65 524.08 L185.74 524.41 L185.83 524.73 L186.18 526.01 L186.53 527.26 L186.89 528.47 L187.24 529.66 L187.59 530.83 L187.95 531.96 L188.3 533.07 L188.65 534.16 L189.01 535.22 L189.36 536.26 L189.71 537.28 L190.07 538.28 L190.42 539.25 L190.78 540.21 L191.13 541.15 L191.48 542.07 L191.84 542.97 L192.19 543.85 L192.54 544.72 L192.9 545.57 L193.25 546.4 L193.6 547.22 L193.96 548.02 L194.31 548.81 L194.66 549.58 L195.02 550.34 L195.37 551.08 L195.72 551.81 L196.08 552.53 L196.43 553.24 L196.78 553.93 L197.14 554.61 L197.49 555.28 L197.85 555.94 L198.2 556.59 L198.55 557.22 L198.91 557.85 L199.26 558.46 L199.61 559.07 L199.97 559.66 L200.32 560.24 L200.67 560.82 L201.03 561.38 L201.38 561.94 L201.73 562.48 L202.09 563.02 L202.44 563.55 L202.79 564.07 L203.85 565.59 L204.92 567.03 L205.98 568.41 L207.04 569.73 L208.1 570.99 L209.16 572.2 L210.22 573.36 L211.28 574.47 L212.34 575.54 L213.4 576.56 L214.46 577.55 L215.52 578.5 L216.58 579.41 L217.64 580.29 L218.7 581.14 L219.76 581.96 L220.82 582.75 L221.88 583.52 L222.94 584.27 L224 584.99 L225.06 585.69 L226.13 586.36 L227.19 587.02 L228.25 587.66 L229.31 588.29 L230.37 588.89 L231.43 589.48 L232.49 590.06 L233.55 590.62 L234.61 591.17 L235.67 591.71 L236.73 592.24 L237.79 592.75 L238.85 593.25 L239.91 593.74 L240.97 594.23 L242.03 594.7 L243.09 595.16 L244.15 595.62 L245.21 596.07 L246.27 596.51 L247.34 596.94 L248.4 597.36 L249.46 597.78 L250.52 598.19 L251.58 598.6 L252.64 599 L253.7 599.39 L254.76 599.78 L255.82 600.16 L256.88 600.54 L257.94 600.91 L259 601.27 L260.06 601.63 L261.12 601.99 L262.18 602.34 L263.24 602.69 L264.3 603.04 L265.36 603.38 L266.42 603.71 L267.48 604.05 L268.55 604.37 L269.61 604.7 L270.67 605.02 L271.73 605.34 L272.79 605.65 L273.85 605.96 L274.91 606.27 L275.97 606.57 L277.03 606.88 L278.09 607.17 L279.15 607.47 L280.21 607.76 L281.27 608.05 L282.33 608.34 L283.39 608.62 L284.45 608.9 L285.51 609.18 L286.57 609.45 L287.63 609.73 L288.69 610 L289.76 610.27 L290.82 610.53 L291.88 610.79 L292.94 611.06 L294 611.31 L295.06 611.57 L296.12 611.82 L297.18 612.07 L298.24 612.32 L299.3 612.57 L300.36 612.81 L301.42 613.06 L302.48 613.3 L303.54 613.54 L304.6 613.77 L305.66 614.01 L306.72 614.24 L307.78 614.47 L308.84 614.7 L309.9 614.92 L310.97 615.15 L312.03 615.37 L313.09 615.59 L314.15 615.81 L315.21 616.02 L316.27 616.24 L317.33 616.45 L318.39 616.66 L319.45 616.87 L320.51 617.08 L321.57 617.28 L322.63 617.49 L323.69 617.69 L324.75 617.89 L325.81 618.09 L326.87 618.28 L327.93 618.48 L328.99 618.67 L330.05 618.86 L331.11 619.05 L332.18 619.24 L333.24 619.43 L334.3 619.62 L335.36 619.8 L336.42 619.98 L337.48 620.16 L338.54 620.34 L339.6 620.52 L340.66 620.7 L341.72 620.87 L342.78 621.04 L343.84 621.22 L344.9 621.39 L345.96 621.56 L347.02 621.72 L348.08 621.89 L349.14 622.05 L350.2 622.22 L351.26 622.38 L352.32 622.54 L353.39 622.7 L354.45 622.86 L355.51 623.02 L356.57 623.17 L357.63 623.32 L358.69 623.48 L359.75 623.63 L360.81 623.78 L361.87 623.93 L362.93 624.08 L363.99 624.22 L365.05 624.37 L366.11 624.51 L367.17 624.65 L368.23 624.8 L369.29 624.94 L370.35 625.08 L371.41 625.21 L372.47 625.35 L373.53 625.49 L374.6 625.62 L375.66 625.75 L376.57 625.87"/>
<path d="M85.89 686.5 L86.07 684.23 L86.25 682 L86.42 679.83 L86.6 677.7 L86.78 675.62 L86.95 673.58 L87.13 671.59 L87.31 669.64 L87.48 667.73 L87.66 665.86 L87.84 664.03 L88.01 662.24 L88.19 660.49 L88.37 658.77 L88.54 657.09 L88.72 655.44 L88.9 653.82 L89.07 652.24 L89.25 650.69 L89.43 649.17 L89.6 647.68 L89.78 646.21 L89.96 644.78 L90.13 643.37 L90.31 641.99 L90.49 640.64 L90.66 639.31 L90.84 638.01 L91.02 636.73 L91.19 635.47 L91.37 634.24 L91.55 633.02 L91.72 631.84 L91.9 630.67 L92.08 629.52 L92.25 628.39 L92.43 627.28 L92.61 626.19 L92.79 625.12 L92.96 624.07 L93.14 623.03 L93.32 622.01 L93.49 621.01 L93.67 620.03 L93.85 619.06 L94.02 618.1 L94.2 617.16 L94.38 616.24 L94.55 615.33 L94.73 614.43 L94.91 613.55 L95.08 612.68 L95.26 611.83 L95.44 610.99 L95.61 610.15 L95.79 609.34 L95.97 608.53 L96.14 607.73 L96.32 606.95 L96.5 606.18 L96.67 605.41 L96.85 604.66 L97.03 603.92 L97.2 603.19 L97.31 602.76 L97.66 601.33 L98.02 599.95 L98.37 598.6 L98.72 597.28 L99.08 595.99 L99.43 594.74 L99.78 593.51 L100.14 592.31 L100.49 591.14 L100.84 590 L101.2 588.88 L101.55 587.78 L101.91 586.7 L102.26 585.65 L102.61 584.62 L102.97 583.6 L103.32 582.61 L103.67 581.63 L104.03 580.67 L104.38 579.72 L104.73 578.79 L105.09 577.88 L105.44 576.98 L105.79 576.09 L106.15 575.22 L106.5 574.35 L106.85 573.5 L107.21 572.66 L107.56 571.84 L107.91 571.02 L108.27 570.21 L108.62 569.41 L108.98 568.62 L109.33 567.84 L109.68 567.06 L110.04 566.3 L110.39 565.54 L110.74 564.79 L111.1 564.05 L111.45 563.31 L111.8 562.58 L112.16 561.86 L112.51 561.14 L112.86 560.43 L113.22 559.73 L113.57 559.03 L113.92 558.34 L114.28 557.65 L114.63 556.97 L114.98 556.3 L115.34 555.63 L115.69 554.97 L116.05 554.31 L116.4 553.66 L116.75 553.01 L117.11 552.36 L117.46 551.73 L117.81 551.09 L118.17 550.47 L118.52 549.84 L118.87 549.22 L119.23 548.61 L119.58 548 L119.93 547.4 L120.29 546.8 L120.64 546.2 L120.99 545.61 L121.35 545.03 L121.7 544.45 L122.05 543.87 L122.41 543.3 L122.76 542.74 L123.12 542.18 L123.47 541.62 L123.82 541.07 L124.18 540.52 L124.53 539.98 L124.88 539.44 L125.24 538.91 L125.59 538.38 L125.94 537.86 L126.3 537.34 L126.65 536.83 L127 536.32 L127.36 535.81 L127.71 535.31 L128.06 534.82 L128.42 534.33 L128.77 533.85 L129.12 533.37 L129.48 532.89 L129.83 532.42 L130.19 531.96 L130.54 531.5 L130.89 531.04 L131.25 530.59 L131.6 530.15 L131.95 529.71 L132.31 529.27 L132.66 528.84 L133.01 528.42 L133.37 528 L133.72 527.58 L134.07 527.17 L134.43 526.76 L134.78 526.36 L135.13 525.96 L135.49 525.57 L135.84 525.18 L136.19 524.79 L136.55 524.41 L136.9 524.04 L137.26 523.66 L137.61 523.3 L137.96 522.93 L138.32 522.57 L138.67 522.22 L139.02 521.87 L139.38 521.52 L139.73 521.18 L140.08 520.84 L140.44 520.5 L140.79 520.17 L141.14 519.84 L141.5 519.52 L141.85 519.2 L142.2 518.88 L142.56 518.57 L142.91 518.25 L143.26 517.95 L143.62 517.64 L143.97 517.34 L144.33 517.04 L144.68 516.75 L145.03 516.46 L145.39 516.17 L145.74 515.88 L146.09 515.6 L146.45 515.32 L146.8 515.04 L147.15 514.77 L147.51 514.49 L147.86 514.22 L148.21 513.96 L148.57 513.69 L148.92 513.43 L149.27 513.17 L149.63 512.91 L149.98 512.65 L150.33 512.4 L150.69 512.15 L151.04 511.9 L151.4 511.65 L151.75 511.4 L152.1 511.16 L152.46 510.91 L152.81 510.67 L153.16 510.43 L153.52 510.19 L153.87 509.95 L154.22 509.72 L154.58 509.48 L154.93 509.25 L155.28 509.02 L155.64 508.78 L155.99 508.55 L156.34 508.32 L156.7 508.1 L157.05 507.87 L157.4 507.64 L157.76 507.42 L158.11 507.19 L158.47 506.97 L158.82 506.75 L159.17 506.53 L159.53 506.31 L159.88 506.08 L160.23 505.86 L160.59 505.65 L160.94 505.43 L161.29 505.21 L161.65 504.99 L162 504.77 L162.35 504.55 L162.71 504.34 L163.06 504.12 L163.41 503.91 L163.77 503.69 L164.12 503.48 L164.47 503.26 L164.83 503.05 L165.18 502.84 L165.54 502.62 L165.89 502.41 L166.24 502.2 L166.6 501.99 L166.95 501.78 L167.3 501.57 L167.66 501.36 L168.01 501.15 L168.36 500.94 L168.72 500.74 L169.07 500.53 L169.42 500.33 L169.78 500.12 L170.13 499.92 L170.48 499.71 L170.84 499.51 L171.19 499.31 L171.54 499.11 L171.9 498.91 L172.25 498.71 L172.61 498.51 L172.96 498.31 L173.31 498.11 L173.67 497.92 L174.02 497.72 L174.37 497.53 L174.73 497.34 L175.08 497.14 L175.43 496.95 L175.79 496.76 L176.14 496.57 L176.49 496.38 L176.85 496.19 L177.2 496.01 L177.55 495.82 L177.91 495.64 L178.26 495.45 L178.62 495.27 L178.97 495.09 L179.32 494.9 L179.68 494.72 L180.03 494.55 L180.38 494.37 L180.74 494.19 L181.09 494.01 L181.44 493.84 L181.58 493.77 L181.58 493.77 L181.67 508.68 L181.76 516.21 L181.85 520.4 L181.94 523.02 L182.03 524.85 L182.11 526.27 L182.2 527.42 L182.29 528.41 L182.38 529.27 L182.47 530.03 L182.56 530.71 L182.64 531.33 L182.73 531.89 L182.82 532.41 L182.91 532.88 L183 533.32 L183.09 533.73 L183.18 534.12 L183.26 534.49 L183.35 534.84 L183.44 535.17 L183.53 535.49 L183.62 535.8 L183.71 536.1 L183.79 536.39 L183.88 536.68 L183.97 536.96 L184.06 537.23 L184.15 537.5 L184.24 537.76 L184.32 538.02 L184.41 538.28 L184.5 538.53 L184.59 538.79 L184.68 539.03 L184.77 539.28 L184.85 539.53 L184.94 539.77 L185.03 540.01 L185.12 540.25 L185.21 540.49 L185.3 540.73 L185.38 540.96 L185.47 541.2 L185.56 541.43 L185.65 541.66 L185.74 541.89 L185.83 542.12 L186.18 543.03 L186.53 543.92 L186.89 544.8 L187.24 545.66 L187.59 546.51 L187.95 547.34 L188.3 548.16 L188.65 548.97 L189.01 549.76 L189.36 550.54 L189.71 551.31 L190.07 552.07 L190.42 552.81 L190.78 553.55 L191.13 554.27 L191.48 554.98 L191.84 555.68 L192.19 556.37 L192.54 557.04 L192.9 557.71 L193.25 558.37 L193.6 559.02 L193.96 559.65 L194.31 560.28 L194.66 560.9 L195.02 561.51 L195.37 562.11 L195.72 562.7 L196.08 563.29 L196.43 563.86 L196.78 564.43 L197.14 564.98 L197.49 565.53 L197.85 566.08 L198.2 566.61 L198.55 567.14 L198.91 567.66 L199.26 568.17 L199.61 568.67 L199.97 569.17 L200.32 569.66 L200.67 570.15 L201.03 570.62 L201.38 571.1 L201.73 571.56 L202.09 572.02 L202.44 572.47 L202.79 572.92 L203.85 574.22 L204.92 575.48 L205.98 576.69 L207.04 577.85 L208.1 578.97 L209.16 580.05 L210.22 581.09 L211.28 582.1 L212.34 583.07 L213.4 584.02 L214.46 584.93 L215.52 585.81 L216.58 586.66 L217.64 587.49 L218.7 588.3 L219.76 589.08 L220.82 589.84 L221.88 590.57 L222.94 591.29 L224 591.99 L225.06 592.67 L226.13 593.33 L227.19 593.98 L228.25 594.61 L229.31 595.22 L230.37 595.82 L231.43 596.41 L232.49 596.98 L233.55 597.54 L234.61 598.09 L235.67 598.63 L236.73 599.15 L237.79 599.67 L238.85 600.17 L239.91 600.66 L240.97 601.15 L242.03 601.62 L243.09 602.09 L244.15 602.55 L245.21 603 L246.27 603.44 L247.34 603.87 L248.4 604.3 L249.46 604.72 L250.52 605.13 L251.58 605.54 L252.64 605.93 L253.7 606.33 L254.76 606.71 L255.82 607.09 L256.88 607.47 L257.94 607.83 L259 608.2 L260.06 608.55 L261.12 608.91 L262.18 609.25 L263.24 609.6 L264.3 609.93 L265.36 610.26 L266.42 610.59 L267.48 610.92 L268.55 611.23 L269.61 611.55 L270.67 611.86 L271.73 612.16 L272.79 612.47 L273.85 612.76 L274.91 613.06 L275.97 613.35 L277.03 613.63 L278.09 613.91 L279.15 614.19 L280.21 614.47 L281.27 614.74 L282.33 615.01 L283.39 615.27 L284.45 615.53 L285.51 615.79 L286.57 616.05 L287.63 616.3 L288.69 616.55 L289.76 616.79 L290.82 617.04 L291.88 617.28 L292.94 617.51 L294 617.75 L295.06 617.98 L296.12 618.2 L297.18 618.43 L298.24 618.65 L299.3 618.87 L300.36 619.09 L301.42 619.3 L302.48 619.52 L303.54 619.73 L304.6 619.93 L305.66 620.14 L306.72 620.34 L307.78 620.54 L308.84 620.74 L309.9 620.93 L310.97 621.12 L312.03 621.31 L313.09 621.5 L314.15 621.69 L315.21 621.87 L316.27 622.05 L317.33 622.23 L318.39 622.41 L319.45 622.58 L320.51 622.76 L321.57 622.93 L322.63 623.1 L323.69 623.26 L324.75 623.43 L325.81 623.59 L326.87 623.75 L327.93 623.91 L328.99 624.07 L330.05 624.23 L331.11 624.38 L332.18 624.53 L333.24 624.68 L334.3 624.83 L335.36 624.98 L336.42 625.12 L337.48 625.27 L338.54 625.41 L339.6 625.55 L340.66 625.69 L341.72 625.82 L342.78 625.96 L343.84 626.09 L344.9 626.23 L345.96 626.36 L347.02 626.48 L348.08 626.61 L349.14 626.74 L350.2 626.86 L351.26 626.99 L352.32 627.11 L353.39 627.23 L354.45 627.35 L355.51 627.46 L356.57 627.58 L357.63 627.7 L358.69 627.81 L359.75 627.92 L360.81 628.03 L361.87 628.14 L362.93 628.25 L363.99 628.36 L365.05 628.46 L366.11 628.57 L367.17 628.67 L368.23 628.77 L369.29 628.87 L370.35 628.97 L371.41 629.07 L372.47 629.17 L373.53 629.27 L374.6 629.36 L375.66 629.46 L376.57 629.54"/>
<path d="M85.89 686.5 L86.07 684.29 L86.25 682.13 L86.42 680.02 L86.6 677.95 L86.78 675.92 L86.95 673.94 L87.13 672 L87.31 670.09 L87.48 668.23 L87.66 666.41 L87.84 664.62 L88.01 662.87 L88.19 661.15 L88.37 659.47 L88.54 657.82 L88.72 656.2 L88.9 654.62 L89.07 653.06 L89.25 651.54 L89.43 650.04 L89.6 648.57 L89.78 647.14 L89.96 645.72 L90.13 644.34 L90.31 642.98 L90.49 641.64 L90.66 640.33 L90.84 639.04 L91.02 637.77 L91.19 636.53 L91.37 635.31 L91.55 634.11 L91.72 632.93 L91.9 631.78 L92.08 630.64 L92.25 629.52 L92.43 628.42 L92.61 627.34 L92.79 626.27 L92.96 625.23 L93.14 624.2 L93.32 623.18 L93.49 622.19 L93.67 621.21 L93.85 620.24 L94.02 619.29 L94.2 618.35 L94.38 617.43 L94.55 616.53 L94.73 615.63 L94.91 614.75 L95.08 613.88 L95.26 613.03 L95.44 612.19 L95.61 611.36 L95.79 610.54 L95.97 609.73 L96.14 608.94 L96.32 608.15 L96.5 607.38 L96.67 606.62 L96.85 605.87 L97.03 605.12 L97.2 604.39 L97.31 603.96 L97.66 602.53 L98.02 601.14 L98.37 599.79 L98.72 598.47 L99.08 597.18 L99.43 595.92 L99.78 594.69 L100.14 593.49 L100.49 592.31 L100.84 591.16 L101.2 590.04 L101.55 588.93 L101.91 587.86 L102.26 586.8 L102.61 585.76 L102.97 584.74 L103.32 583.74 L103.67 582.76 L104.03 581.79 L104.38 580.85 L104.73 579.91 L105.09 579 L105.44 578.09 L105.79 577.2 L106.15 576.32 L106.5 575.46 L106.85 574.61 L107.21 573.77 L107.56 572.93 L107.91 572.11 L108.27 571.3 L108.62 570.5 L108.98 569.71 L109.33 568.93 L109.68 568.15 L110.04 567.39 L110.39 566.63 L110.74 565.87 L111.1 565.13 L111.45 564.39 L111.8 563.66 L112.16 562.94 L112.51 562.22 L112.86 561.51 L113.22 560.81 L113.57 560.11 L113.92 559.42 L114.28 558.73 L114.63 558.05 L114.98 557.38 L115.34 556.71 L115.69 556.05 L116.05 555.39 L116.4 554.74 L116.75 554.09 L117.11 553.45 L117.46 552.81 L117.81 552.18 L118.17 551.55 L118.52 550.93 L118.87 550.31 L119.23 549.7 L119.58 549.09 L119.93 548.49 L120.29 547.89 L120.64 547.29 L120.99 546.7 L121.35 546.12 L121.7 545.54 L122.05 544.97 L122.41 544.4 L122.76 543.83 L123.12 543.27 L123.47 542.71 L123.82 542.16 L124.18 541.62 L124.53 541.08 L124.88 540.54 L125.24 540.01 L125.59 539.48 L125.94 538.96 L126.3 538.44 L126.65 537.93 L127 537.42 L127.36 536.91 L127.71 536.42 L128.06 535.92 L128.42 535.43 L128.77 534.95 L129.12 534.47 L129.48 534 L129.83 533.53 L130.19 533.06 L130.54 532.61 L130.89 532.15 L131.25 531.7 L131.6 531.26 L131.95 530.82 L132.31 530.38 L132.66 529.95 L133.01 529.53 L133.37 529.1 L133.72 528.69 L134.07 528.28 L134.43 527.87 L134.78 527.47 L135.13 527.07 L135.49 526.68 L135.84 526.29 L136.19 525.9 L136.55 525.52 L136.9 525.15 L137.26 524.77 L137.61 524.41 L137.96 524.04 L138.32 523.69 L138.67 523.33 L139.02 522.98 L139.38 522.63 L139.73 522.29 L140.08 521.95 L140.44 521.61 L140.79 521.28 L141.14 520.95 L141.5 520.63 L141.85 520.31 L142.2 519.99 L142.56 519.68 L142.91 519.37 L143.26 519.06 L143.62 518.75 L143.97 518.45 L144.33 518.15 L144.68 517.86 L145.03 517.57 L145.39 517.28 L145.74 516.99 L146.09 516.71 L146.45 516.43 L146.8 516.15 L147.15 515.88 L147.51 515.6 L147.86 515.33 L148.21 515.07 L148.57 514.8 L148.92 514.54 L149.27 514.28 L149.63 514.02 L149.98 513.76 L150.33 513.51 L150.69 513.26 L151.04 513.01 L151.4 512.76 L151.75 512.51 L152.1 512.27 L152.46 512.02 L152.81 511.78 L153.16 511.54 L153.52 511.3 L153.87 511.06 L154.22 510.83 L154.58 510.59 L154.93 510.36 L155.28 510.13 L155.64 509.9 L155.99 509.67 L156.34 509.44 L156.7 509.21 L157.05 508.98 L157.4 508.76 L157.76 508.53 L158.11 508.31 L158.47 508.09 L158.82 507.86 L159.17 507.64 L159.53 507.42 L159.88 507.2 L160.23 506.98 L160.59 506.76 L160.94 506.55 L161.29 506.33 L161.65 506.11 L162 505.89 L162.35 505.68 L162.71 505.46 L163.06 505.25 L163.41 505.03 L163.77 504.82 L164.12 504.6 L164.47 504.39 L164.83 504.18 L165.18 503.97 L165.54 503.76 L165.89 503.54 L166.24 503.33 L166.6 503.13 L166.95 502.92 L167.3 502.71 L167.66 502.5 L168.01 502.29 L168.36 502.09 L168.72 501.88 L169.07 501.68 L169.42 501.48 L169.78 501.27 L170.13 501.07 L170.48 500.87 L170.84 500.67 L171.19 500.47 L171.54 500.27 L171.9 500.07 L172.25 499.87 L172.61 499.68 L172.96 499.48 L173.31 499.29 L173.67 499.09 L174.02 498.9 L174.37 498.71 L174.73 498.52 L175.08 498.33 L175.43 498.14 L175.79 497.95 L176.14 497.76 L176.49 497.58 L176.85 497.39 L177.2 497.21 L177.55 497.02 L177.91 496.84 L178.26 496.66 L178.62 496.48 L178.97 496.3 L179.32 496.12 L179.68 495.94 L180.03 495.77 L180.38 495.59 L180.74 495.42 L181.09 495.24 L181.44 495.07 L181.58 495 L181.58 495 L181.67 512.97 L181.76 521.02 L181.85 524.74 L181.94 526.59 L182.03 527.63 L182.11 528.3 L182.2 528.82 L182.29 529.27 L182.38 529.68 L182.47 530.08 L182.56 530.47 L182.64 530.86 L182.73 531.24 L182.82 531.62 L182.91 532 L183 532.37 L183.09 532.74 L183.18 533.11 L183.26 533.47 L183.35 533.83 L183.44 534.19 L183.53 534.54 L183.62 534.9 L183.71 535.25 L183.79 535.59 L183.88 535.94 L183.97 536.28 L184.06 536.62 L184.15 536.96 L184.24 537.29 L184.32 537.62 L184.41 537.95 L184.5 538.28 L184.59 538.6 L184.68 538.92 L184.77 539.24 L184.85 539.56 L184.94 539.87 L185.03 540.19 L185.12 540.5 L185.21 540.8 L185.3 541.11 L185.38 541.41 L185.47 541.71 L185.56 542.01 L185.65 542.31 L185.74 542.6 L185.83 542.89 L186.18 544.04 L186.53 545.15 L186.89 546.24 L187.24 547.29 L187.59 548.31 L187.95 549.31 L188.3 550.27 L188.65 551.21 L189.01 552.13 L189.36 553.02 L189.71 553.89 L190.07 554.74 L190.42 555.56 L190.78 556.36 L191.13 557.14 L191.48 557.91 L191.84 558.65 L192.19 559.38 L192.54 560.09 L192.9 560.78 L193.25 561.46 L193.6 562.12 L193.96 562.76 L194.31 563.39 L194.66 564.01 L195.02 564.62 L195.37 565.21 L195.72 565.78 L196.08 566.35 L196.43 566.91 L196.78 567.45 L197.14 567.98 L197.49 568.5 L197.85 569.01 L198.2 569.51 L198.55 570.01 L198.91 570.49 L199.26 570.96 L199.61 571.43 L199.97 571.89 L200.32 572.34 L200.67 572.78 L201.03 573.21 L201.38 573.64 L201.73 574.06 L202.09 574.47 L202.44 574.88 L202.79 575.28 L203.85 576.44 L204.92 577.56 L205.98 578.63 L207.04 579.65 L208.1 580.64 L209.16 581.6 L210.22 582.52 L211.28 583.41 L212.34 584.27 L213.4 585.11 L214.46 585.93 L215.52 586.72 L216.58 587.49 L217.64 588.24 L218.7 588.98 L219.76 589.7 L220.82 590.4 L221.88 591.09 L222.94 591.76 L224 592.42 L225.06 593.06 L226.13 593.7 L227.19 594.32 L228.25 594.93 L229.31 595.52 L230.37 596.11 L231.43 596.69 L232.49 597.26 L233.55 597.81 L234.61 598.36 L235.67 598.9 L236.73 599.43 L237.79 599.96 L238.85 600.47 L239.91 600.97 L240.97 601.47 L242.03 601.96 L243.09 602.44 L244.15 602.92 L245.21 603.38 L246.27 603.84 L247.34 604.3 L248.4 604.74 L249.46 605.18 L250.52 605.61 L251.58 606.04 L252.64 606.46 L253.7 606.87 L254.76 607.28 L255.82 607.68 L256.88 608.08 L257.94 608.47 L259 608.85 L260.06 609.23 L261.12 609.6 L262.18 609.97 L263.24 610.33 L264.3 610.68 L265.36 611.03 L266.42 611.38 L267.48 611.72 L268.55 612.05 L269.61 612.38 L270.67 612.71 L271.73 613.03 L272.79 613.34 L273.85 613.66 L274.91 613.96 L275.97 614.26 L277.03 614.56 L278.09 614.85 L279.15 615.14 L280.21 615.43 L281.27 615.71 L282.33 615.99 L283.39 616.26 L284.45 616.53 L285.51 616.79 L286.57 617.05 L287.63 617.31 L288.69 617.56 L289.76 617.81 L290.82 618.05 L291.88 618.3 L292.94 618.53 L294 618.77 L295.06 619 L296.12 619.23 L297.18 619.45 L298.24 619.67 L299.3 619.89 L300.36 620.11 L301.42 620.32 L302.48 620.53 L303.54 620.73 L304.6 620.93 L305.66 621.13 L306.72 621.33 L307.78 621.52 L308.84 621.71 L309.9 621.9 L310.97 622.09 L312.03 622.27 L313.09 622.45 L314.15 622.63 L315.21 622.8 L316.27 622.97 L317.33 623.14 L318.39 623.31 L319.45 623.47 L320.51 623.64 L321.57 623.8 L322.63 623.95 L323.69 624.11 L324.75 624.26 L325.81 624.41 L326.87 624.56 L327.93 624.71 L328.99 624.85 L330.05 624.99 L331.11 625.13 L332.18 625.27 L333.24 625.4 L334.3 625.54 L335.36 625.67 L336.42 625.8 L337.48 625.93 L338.54 626.05 L339.6 626.18 L340.66 626.3 L341.72 626.42 L342.78 626.54 L343.84 626.66 L344.9 626.77 L345.96 626.88 L347.02 627 L348.08 627.11 L349.14 627.22 L350.2 627.32 L351.26 627.43 L352.32 627.53 L353.39 627.63 L354.45 627.73 L355.51 627.83 L356.57 627.93 L357.63 628.03 L358.69 628.12 L359.75 628.22 L360.81 628.31 L361.87 628.4 L362.93 628.49 L363.99 628.58 L365.05 628.67 L366.11 628.75 L367.17 628.84 L368.23 628.92 L369.29 629 L370.35 629.08 L371.41 629.16 L372.47 629.24 L373.53 629.32 L374.6 629.39 L375.66 629.47 L376.57 629.53"/>
<path d="M85.89 686.5 L86.07 685.18 L86.25 683.87 L86.42 682.58 L86.6 681.3 L86.78 680.04 L86.95 678.79 L87.13 677.55 L87.31 676.32 L87.48 675.11 L87.66 673.91 L87.84 672.72 L88.01 671.55 L88.19 670.39 L88.37 669.24 L88.54 668.1 L88.72 666.97 L88.9 665.86 L89.07 664.75 L89.25 663.66 L89.43 662.58 L89.6 661.51 L89.78 660.45 L89.96 659.4 L90.13 658.36 L90.31 657.34 L90.49 656.32 L90.66 655.31 L90.84 654.32 L91.02 653.33 L91.19 652.36 L91.37 651.39 L91.55 650.43 L91.72 649.49 L91.9 648.55 L92.08 647.62 L92.25 646.7 L92.43 645.79 L92.61 644.89 L92.79 644 L92.96 643.12 L93.14 642.24 L93.32 641.38 L93.49 640.52 L93.67 639.67 L93.85 638.83 L94.02 638 L94.2 637.18 L94.38 636.36 L94.55 635.55 L94.73 634.75 L94.91 633.96 L95.08 633.17 L95.26 632.4 L95.44 631.62 L95.61 630.86 L95.79 630.11 L95.97 629.36 L96.14 628.62 L96.32 627.88 L96.5 627.16 L96.67 626.43 L96.85 625.72 L97.03 625.01 L97.2 624.31 L97.31 623.9 L97.66 622.52 L98.02 621.18 L98.37 619.85 L98.72 618.55 L99.08 617.28 L99.43 616.03 L99.78 614.8 L100.14 613.59 L100.49 612.41 L100.84 611.24 L101.2 610.1 L101.55 608.98 L101.91 607.87 L102.26 606.79 L102.61 605.72 L102.97 604.68 L103.32 603.65 L103.67 602.64 L104.03 601.65 L104.38 600.67 L104.73 599.71 L105.09 598.77 L105.44 597.84 L105.79 596.92 L106.15 596.03 L106.5 595.14 L106.85 594.28 L107.21 593.42 L107.56 592.58 L107.91 591.75 L108.27 590.94 L108.62 590.14 L108.98 589.35 L109.33 588.57 L109.68 587.81 L110.04 587.06 L110.39 586.32 L110.74 585.58 L111.1 584.86 L111.45 584.16 L111.8 583.46 L112.16 582.77 L112.51 582.09 L112.86 581.42 L113.22 580.75 L113.57 580.1 L113.92 579.46 L114.28 578.82 L114.63 578.19 L114.98 577.57 L115.34 576.96 L115.69 576.35 L116.05 575.76 L116.4 575.16 L116.75 574.58 L117.11 574 L117.46 573.43 L117.81 572.87 L118.17 572.31 L118.52 571.75 L118.87 571.2 L119.23 570.66 L119.58 570.13 L119.93 569.6 L120.29 569.07 L120.64 568.55 L120.99 568.03 L121.35 567.52 L121.7 567.02 L122.05 566.52 L122.41 566.02 L122.76 565.53 L123.12 565.05 L123.47 564.56 L123.82 564.09 L124.18 563.61 L124.53 563.14 L124.88 562.68 L125.24 562.22 L125.59 561.76 L125.94 561.31 L126.3 560.86 L126.65 560.41 L127 559.97 L127.36 559.53 L127.71 559.1 L128.06 558.67 L128.42 558.24 L128.77 557.82 L129.12 557.4 L129.48 556.98 L129.83 556.57 L130.19 556.16 L130.54 555.76 L130.89 555.35 L131.25 554.96 L131.6 554.56 L131.95 554.17 L132.31 553.78 L132.66 553.4 L133.01 553.01 L133.37 552.64 L133.72 552.26 L134.07 551.89 L134.43 551.52 L134.78 551.16 L135.13 550.8 L135.49 550.44 L135.84 550.09 L136.19 549.74 L136.55 549.39 L136.9 549.04 L137.26 548.7 L137.61 548.36 L137.96 548.03 L138.32 547.7 L138.67 547.37 L139.02 547.05 L139.38 546.72 L139.73 546.4 L140.08 546.09 L140.44 545.78 L140.79 545.47 L141.14 545.16 L141.5 544.86 L141.85 544.56 L142.2 544.26 L142.56 543.97 L142.91 543.67 L143.26 543.39 L143.62 543.1 L143.97 542.82 L144.33 542.54 L144.68 542.26 L145.03 541.98 L145.39 541.71 L145.74 541.44 L146.09 541.17 L146.45 540.91 L146.8 540.64 L147.15 540.38 L147.51 540.12 L147.86 539.87 L148.21 539.61 L148.57 539.36 L148.92 539.11 L149.27 538.86 L149.63 538.62 L149.98 538.38 L150.33 538.13 L150.69 537.9 L151.04 537.66 L151.4 537.42 L151.75 537.19 L152.1 536.96 L152.46 536.73 L152.81 536.5 L153.16 536.27 L153.52 536.05 L153.87 535.82 L154.22 535.6 L154.58 535.38 L154.93 535.16 L155.28 534.94 L155.64 534.73 L155.99 534.51 L156.34 534.3 L156.7 534.09 L157.05 533.88 L157.4 533.67 L157.76 533.46 L158.11 533.25 L158.47 533.04 L158.82 532.84 L159.17 532.64 L159.53 532.43 L159.88 532.23 L160.23 532.03 L160.59 531.83 L160.94 531.63 L161.29 531.43 L161.65 531.23 L162 531.04 L162.35 530.84 L162.71 530.64 L163.06 530.45 L163.41 530.26 L163.77 530.06 L164.12 529.87 L164.47 529.68 L164.83 529.49 L165.18 529.3 L165.54 529.11 L165.89 528.92 L166.24 528.73 L166.6 528.54 L166.95 528.35 L167.3 528.17 L167.66 527.98 L168.01 527.79 L168.36 527.61 L168.72 527.43 L169.07 527.24 L169.42 527.06 L169.78 526.88 L170.13 526.69 L170.48 526.51 L170.84 526.33 L171.19 526.15 L171.54 525.97 L171.9 525.8 L172.25 525.62 L172.61 525.44 L172.96 525.26 L173.31 525.09 L173.67 524.91 L174.02 524.74 L174.37 524.56 L174.73 524.39 L175.08 524.22 L175.43 524.04 L175.79 523.87 L176.14 523.7 L176.49 523.53 L176.85 523.36 L177.2 523.19 L177.55 523.02 L177.91 522.86 L178.26 522.69 L178.62 522.52 L178.97 522.36 L179.32 522.19 L179.68 522.03 L180.03 521.87 L180.38 521.7 L180.74 521.54 L181.09 521.38 L181.44 521.22 L181.58 521.16 L181.58 521.16 L181.67 535.15 L181.76 541.38 L181.85 544.22 L181.94 545.59 L182.03 546.32 L182.11 546.78 L182.2 547.11 L182.29 547.39 L182.38 547.65 L182.47 547.89 L182.56 548.13 L182.64 548.37 L182.73 548.61 L182.82 548.84 L182.91 549.08 L183 549.31 L183.09 549.54 L183.18 549.78 L183.26 550.01 L183.35 550.24 L183.44 550.47 L183.53 550.69 L183.62 550.92 L183.71 551.15 L183.79 551.37 L183.88 551.6 L183.97 551.82 L184.06 552.05 L184.15 552.27 L184.24 552.49 L184.32 552.71 L184.41 552.93 L184.5 553.15 L184.59 553.37 L184.68 553.59 L184.77 553.8 L184.85 554.02 L184.94 554.23 L185.03 554.45 L185.12 554.66 L185.21 554.88 L185.3 555.09 L185.38 555.3 L185.47 555.51 L185.56 555.72 L185.65 555.93 L185.74 556.14 L185.83 556.35 L186.18 557.17 L186.53 557.98 L186.89 558.78 L187.24 559.57 L187.59 560.35 L187.95 561.11 L188.3 561.87 L188.65 562.62 L189.01 563.35 L189.36 564.07 L189.71 564.79 L190.07 565.49 L190.42 566.19 L190.78 566.87 L191.13 567.54 L191.48 568.21 L191.84 568.87 L192.19 569.51 L192.54 570.15 L192.9 570.78 L193.25 571.4 L193.6 572.01 L193.96 572.61 L194.31 573.21 L194.66 573.79 L195.02 574.37 L195.37 574.94 L195.72 575.5 L196.08 576.06 L196.43 576.61 L196.78 577.15 L197.14 577.68 L197.49 578.2 L197.85 578.72 L198.2 579.23 L198.55 579.74 L198.91 580.23 L199.26 580.72 L199.61 581.21 L199.97 581.68 L200.32 582.15 L200.67 582.62 L201.03 583.08 L201.38 583.53 L201.73 583.97 L202.09 584.41 L202.44 584.85 L202.79 585.28 L203.85 586.53 L204.92 587.73 L205.98 588.89 L207.04 590 L208.1 591.07 L209.16 592.1 L210.22 593.08 L211.28 594.04 L212.34 594.95 L213.4 595.84 L214.46 596.69 L215.52 597.51 L216.58 598.3 L217.64 599.06 L218.7 599.8 L219.76 600.51 L220.82 601.2 L221.88 601.86 L222.94 602.5 L224 603.12 L225.06 603.72 L226.13 604.3 L227.19 604.86 L228.25 605.4 L229.31 605.93 L230.37 606.44 L231.43 606.94 L232.49 607.42 L233.55 607.88 L234.61 608.33 L235.67 608.77 L236.73 609.2 L237.79 609.61 L238.85 610.02 L239.91 610.41 L240.97 610.79 L242.03 611.17 L243.09 611.53 L244.15 611.88 L245.21 612.23 L246.27 612.57 L247.34 612.9 L248.4 613.22 L249.46 613.53 L250.52 613.84 L251.58 614.14 L252.64 614.44 L253.7 614.73 L254.76 615.01 L255.82 615.29 L256.88 615.56 L257.94 615.83 L259 616.09 L260.06 616.35 L261.12 616.6 L262.18 616.85 L263.24 617.09 L264.3 617.33 L265.36 617.57 L266.42 617.8 L267.48 618.03 L268.55 618.26 L269.61 618.48 L270.67 618.7 L271.73 618.92 L272.79 619.14 L273.85 619.35 L274.91 619.56 L275.97 619.76 L277.03 619.97 L278.09 620.17 L279.15 620.37 L280.21 620.56 L281.27 620.76 L282.33 620.95 L283.39 621.14 L284.45 621.33 L285.51 621.52 L286.57 621.71 L287.63 621.89 L288.69 622.08 L289.76 622.26 L290.82 622.44 L291.88 622.61 L292.94 622.79 L294 622.97 L295.06 623.14 L296.12 623.31 L297.18 623.49 L298.24 623.66 L299.3 623.83 L300.36 623.99 L301.42 624.16 L302.48 624.33 L303.54 624.49 L304.6 624.66 L305.66 624.82 L306.72 624.98 L307.78 625.14 L308.84 625.31 L309.9 625.47 L310.97 625.62 L312.03 625.78 L313.09 625.94 L314.15 626.1 L315.21 626.25 L316.27 626.41 L317.33 626.56 L318.39 626.72 L319.45 626.87 L320.51 627.02 L321.57 627.17 L322.63 627.32 L323.69 627.48 L324.75 627.63 L325.81 627.77 L326.87 627.92 L327.93 628.07 L328.99 628.22 L330.05 628.37 L331.11 628.51 L332.18 628.66 L333.24 628.8 L334.3 628.95 L335.36 629.09 L336.42 629.24 L337.48 629.38 L338.54 629.53 L339.6 629.67 L340.66 629.81 L341.72 629.95 L342.78 630.09 L343.84 630.23 L344.9 630.37 L345.96 630.51 L347.02 630.65 L348.08 630.79 L349.14 630.93 L350.2 631.07 L351.26 631.21 L352.32 631.34 L353.39 631.48 L354.45 631.62 L355.51 631.75 L356.57 631.89 L357.63 632.02 L358.69 632.16 L359.75 632.29 L360.81 632.43 L361.87 632.56 L362.93 632.7 L363.99 632.83 L365.05 632.96 L366.11 633.09 L367.17 633.23 L368.23 633.36 L369.29 633.49 L370.35 633.62 L371.41 633.75 L372.47 633.88 L373.53 634.01 L374.6 634.14 L375.66 634.27 L376.57 634.38"/>
<path d="M85.89 686.5 L86.07 685.17 L86.25 683.86 L86.42 682.57 L86.6 681.28 L86.78 680.02 L86.95 678.76 L87.13 677.52 L87.31 676.29 L87.48 675.08 L87.66 673.87 L87.84 672.68 L88.01 671.51 L88.19 670.34 L88.37 669.19 L88.54 668.05 L88.72 666.92 L88.9 665.81 L89.07 664.7 L89.25 663.61 L89.43 662.52 L89.6 661.45 L89.78 660.39 L89.96 659.34 L90.13 658.3 L90.31 657.27 L90.49 656.26 L90.66 655.25 L90.84 654.25 L91.02 653.27 L91.19 652.29 L91.37 651.33 L91.55 650.37 L91.72 649.42 L91.9 648.48 L92.08 647.56 L92.25 646.64 L92.43 645.73 L92.61 644.83 L92.79 643.94 L92.96 643.05 L93.14 642.18 L93.32 641.31 L93.49 640.46 L93.67 639.61 L93.85 638.77 L94.02 637.94 L94.2 637.11 L94.38 636.3 L94.55 635.49 L94.73 634.69 L94.91 633.9 L95.08 633.11 L95.26 632.34 L95.44 631.57 L95.61 630.81 L95.79 630.05 L95.97 629.3 L96.14 628.56 L96.32 627.83 L96.5 627.1 L96.67 626.39 L96.85 625.67 L97.03 624.97 L97.2 624.27 L97.31 623.85 L97.66 622.48 L98.02 621.14 L98.37 619.82 L98.72 618.52 L99.08 617.25 L99.43 616 L99.78 614.77 L100.14 613.57 L100.49 612.39 L100.84 611.23 L101.2 610.09 L101.55 608.97 L101.91 607.87 L102.26 606.79 L102.61 605.73 L102.97 604.69 L103.32 603.67 L103.67 602.66 L104.03 601.67 L104.38 600.7 L104.73 599.75 L105.09 598.81 L105.44 597.89 L105.79 596.98 L106.15 596.09 L106.5 595.21 L106.85 594.35 L107.21 593.51 L107.56 592.67 L107.91 591.86 L108.27 591.05 L108.62 590.26 L108.98 589.48 L109.33 588.71 L109.68 587.96 L110.04 587.22 L110.39 586.49 L110.74 585.77 L111.1 585.06 L111.45 584.36 L111.8 583.67 L112.16 583 L112.51 582.33 L112.86 581.67 L113.22 581.02 L113.57 580.39 L113.92 579.76 L114.28 579.13 L114.63 578.52 L114.98 577.92 L115.34 577.32 L115.69 576.73 L116.05 576.15 L116.4 575.57 L116.75 575.01 L117.11 574.44 L117.46 573.89 L117.81 573.34 L118.17 572.8 L118.52 572.27 L118.87 571.74 L119.23 571.21 L119.58 570.7 L119.93 570.19 L120.29 569.68 L120.64 569.18 L120.99 568.69 L121.35 568.2 L121.7 567.71 L122.05 567.23 L122.41 566.76 L122.76 566.29 L123.12 565.83 L123.47 565.37 L123.82 564.91 L124.18 564.46 L124.53 564.01 L124.88 563.57 L125.24 563.14 L125.59 562.7 L125.94 562.27 L126.3 561.85 L126.65 561.43 L127 561.01 L127.36 560.6 L127.71 560.19 L128.06 559.79 L128.42 559.38 L128.77 558.99 L129.12 558.59 L129.48 558.21 L129.83 557.82 L130.19 557.44 L130.54 557.06 L130.89 556.69 L131.25 556.32 L131.6 555.95 L131.95 555.59 L132.31 555.23 L132.66 554.87 L133.01 554.52 L133.37 554.17 L133.72 553.83 L134.07 553.48 L134.43 553.15 L134.78 552.81 L135.13 552.48 L135.49 552.15 L135.84 551.83 L136.19 551.51 L136.55 551.2 L136.9 550.88 L137.26 550.57 L137.61 550.27 L137.96 549.96 L138.32 549.67 L138.67 549.37 L139.02 549.08 L139.38 548.79 L139.73 548.5 L140.08 548.22 L140.44 547.94 L140.79 547.67 L141.14 547.39 L141.5 547.12 L141.85 546.86 L142.2 546.6 L142.56 546.34 L142.91 546.08 L143.26 545.83 L143.62 545.58 L143.97 545.33 L144.33 545.08 L144.68 544.84 L145.03 544.6 L145.39 544.37 L145.74 544.13 L146.09 543.9 L146.45 543.67 L146.8 543.45 L147.15 543.23 L147.51 543.01 L147.86 542.79 L148.21 542.57 L148.57 542.36 L148.92 542.15 L149.27 541.94 L149.63 541.74 L149.98 541.53 L150.33 541.33 L150.69 541.13 L151.04 540.94 L151.4 540.74 L151.75 540.55 L152.1 540.36 L152.46 540.17 L152.81 539.98 L153.16 539.8 L153.52 539.62 L153.87 539.44 L154.22 539.26 L154.58 539.08 L154.93 538.9 L155.28 538.73 L155.64 538.56 L155.99 538.39 L156.34 538.22 L156.7 538.05 L157.05 537.89 L157.4 537.72 L157.76 537.56 L158.11 537.4 L158.47 537.24 L158.82 537.08 L159.17 536.92 L159.53 536.76 L159.88 536.61 L160.23 536.46 L160.59 536.3 L160.94 536.15 L161.29 536 L161.65 535.85 L162 535.7 L162.35 535.55 L162.71 535.41 L163.06 535.26 L163.41 535.11 L163.77 534.97 L164.12 534.83 L164.47 534.68 L164.83 534.54 L165.18 534.4 L165.54 534.26 L165.89 534.12 L166.24 533.98 L166.6 533.85 L166.95 533.71 L167.3 533.58 L167.66 533.44 L168.01 533.31 L168.36 533.17 L168.72 533.04 L169.07 532.91 L169.42 532.78 L169.78 532.65 L170.13 532.52 L170.48 532.39 L170.84 532.27 L171.19 532.14 L171.54 532.02 L171.9 531.89 L172.25 531.77 L172.61 531.65 L172.96 531.52 L173.31 531.4 L173.67 531.28 L174.02 531.16 L174.37 531.04 L174.73 530.93 L175.08 530.81 L175.43 530.69 L175.79 530.58 L176.14 530.46 L176.49 530.35 L176.85 530.24 L177.2 530.12 L177.55 530.01 L177.91 529.9 L178.26 529.79 L178.62 529.68 L178.97 529.58 L179.32 529.47 L179.68 529.36 L180.03 529.26 L180.38 529.15 L180.74 529.05 L181.09 528.95 L181.44 528.84 L181.58 528.8 L181.58 528.8 L181.67 541.49 L181.76 547.13 L181.85 549.72 L181.94 550.97 L182.03 551.65 L182.11 552.08 L182.2 552.4 L182.29 552.66 L182.38 552.91 L182.47 553.15 L182.56 553.38 L182.64 553.61 L182.73 553.84 L182.82 554.06 L182.91 554.29 L183 554.52 L183.09 554.74 L183.18 554.96 L183.26 555.19 L183.35 555.41 L183.44 555.63 L183.53 555.85 L183.62 556.07 L183.71 556.29 L183.79 556.51 L183.88 556.73 L183.97 556.94 L184.06 557.16 L184.15 557.37 L184.24 557.59 L184.32 557.8 L184.41 558.02 L184.5 558.23 L184.59 558.44 L184.68 558.65 L184.77 558.86 L184.85 559.07 L184.94 559.28 L185.03 559.49 L185.12 559.69 L185.21 559.9 L185.3 560.11 L185.38 560.31 L185.47 560.52 L185.56 560.72 L185.65 560.92 L185.74 561.12 L185.83 561.33 L186.18 562.13 L186.53 562.91 L186.89 563.69 L187.24 564.46 L187.59 565.21 L187.95 565.96 L188.3 566.7 L188.65 567.42 L189.01 568.14 L189.36 568.84 L189.71 569.54 L190.07 570.23 L190.42 570.91 L190.78 571.57 L191.13 572.23 L191.48 572.88 L191.84 573.53 L192.19 574.16 L192.54 574.78 L192.9 575.4 L193.25 576.01 L193.6 576.61 L193.96 577.2 L194.31 577.78 L194.66 578.36 L195.02 578.93 L195.37 579.49 L195.72 580.04 L196.08 580.59 L196.43 581.13 L196.78 581.66 L197.14 582.19 L197.49 582.7 L197.85 583.21 L198.2 583.72 L198.55 584.22 L198.91 584.71 L199.26 585.19 L199.61 585.67 L199.97 586.14 L200.32 586.61 L200.67 587.07 L201.03 587.52 L201.38 587.97 L201.73 588.41 L202.09 588.85 L202.44 589.28 L202.79 589.71 L203.85 590.95 L204.92 592.15 L205.98 593.3 L207.04 594.41 L208.1 595.48 L209.16 596.51 L210.22 597.5 L211.28 598.46 L212.34 599.38 L213.4 600.27 L214.46 601.13 L215.52 601.96 L216.58 602.76 L217.64 603.53 L218.7 604.27 L219.76 604.99 L220.82 605.69 L221.88 606.36 L222.94 607.01 L224 607.64 L225.06 608.25 L226.13 608.84 L227.19 609.41 L228.25 609.97 L229.31 610.5 L230.37 611.02 L231.43 611.53 L232.49 612.02 L233.55 612.49 L234.61 612.96 L235.67 613.41 L236.73 613.84 L237.79 614.27 L238.85 614.68 L239.91 615.08 L240.97 615.48 L242.03 615.86 L243.09 616.23 L244.15 616.6 L245.21 616.95 L246.27 617.3 L247.34 617.63 L248.4 617.96 L249.46 618.29 L250.52 618.6 L251.58 618.91 L252.64 619.21 L253.7 619.51 L254.76 619.8 L255.82 620.08 L256.88 620.36 L257.94 620.63 L259 620.9 L260.06 621.17 L261.12 621.42 L262.18 621.68 L263.24 621.93 L264.3 622.17 L265.36 622.41 L266.42 622.65 L267.48 622.89 L268.55 623.12 L269.61 623.34 L270.67 623.57 L271.73 623.79 L272.79 624.01 L273.85 624.22 L274.91 624.43 L275.97 624.64 L277.03 624.85 L278.09 625.05 L279.15 625.25 L280.21 625.45 L281.27 625.65 L282.33 625.85 L283.39 626.04 L284.45 626.23 L285.51 626.42 L286.57 626.61 L287.63 626.79 L288.69 626.98 L289.76 627.16 L290.82 627.34 L291.88 627.52 L292.94 627.69 L294 627.87 L295.06 628.04 L296.12 628.22 L297.18 628.39 L298.24 628.56 L299.3 628.73 L300.36 628.9 L301.42 629.06 L302.48 629.23 L303.54 629.39 L304.6 629.56 L305.66 629.72 L306.72 629.88 L307.78 630.04 L308.84 630.2 L309.9 630.36 L310.97 630.52 L312.03 630.68 L313.09 630.83 L314.15 630.99 L315.21 631.14 L316.27 631.3 L317.33 631.45 L318.39 631.6 L319.45 631.75 L320.51 631.9 L321.57 632.05 L322.63 632.2 L323.69 632.35 L324.75 632.5 L325.81 632.65 L326.87 632.79 L327.93 632.94 L328.99 633.08 L330.05 633.23 L331.11 633.37 L332.18 633.52 L333.24 633.66 L334.3 633.8 L335.36 633.94 L336.42 634.09 L337.48 634.23 L338.54 634.37 L339.6 634.51 L340.66 634.65 L341.72 634.79 L342.78 634.92 L343.84 635.06 L344.9 635.2 L345.96 635.34 L347.02 635.47 L348.08 635.61 L349.14 635.75 L350.2 635.88 L351.26 636.02 L352.32 636.15 L353.39 636.28 L354.45 636.42 L355.51 636.55 L356.57 636.68 L357.63 636.82 L358.69 636.95 L359.75 637.08 L360.81 637.21 L361.87 637.34 L362.93 637.47 L363.99 637.6 L365.05 637.73 L366.11 637.86 L367.17 637.99 L368.23 638.12 L369.29 638.24 L370.35 638.37 L371.41 638.5 L372.47 638.62 L373.53 638.75 L374.6 638.88 L375.66 639 L376.57 639.11"/>
<path d="M85.89 686.5 L86.07 685.61 L86.25 684.74 L86.42 683.87 L86.6 683.02 L86.78 682.17 L86.95 681.33 L87.13 680.51 L87.31 679.69 L87.48 678.88 L87.66 678.08 L87.84 677.29 L88.01 676.5 L88.19 675.73 L88.37 674.96 L88.54 674.21 L88.72 673.46 L88.9 672.72 L89.07 671.98 L89.25 671.26 L89.43 670.54 L89.6 669.83 L89.78 669.13 L89.96 668.43 L90.13 667.74 L90.31 667.06 L90.49 666.39 L90.66 665.72 L90.84 665.06 L91.02 664.41 L91.19 663.76 L91.37 663.12 L91.55 662.49 L91.72 661.86 L91.9 661.24 L92.08 660.63 L92.25 660.02 L92.43 659.42 L92.61 658.82 L92.79 658.23 L92.96 657.64 L93.14 657.06 L93.32 656.49 L93.49 655.92 L93.67 655.36 L93.85 654.8 L94.02 654.25 L94.2 653.7 L94.38 653.16 L94.55 652.62 L94.73 652.09 L94.91 651.56 L95.08 651.04 L95.26 650.52 L95.44 650.01 L95.61 649.5 L95.79 649 L95.97 648.5 L96.14 648.01 L96.32 647.52 L96.5 647.03 L96.67 646.55 L96.85 646.07 L97.03 645.6 L97.2 645.13 L97.31 644.86 L97.66 643.94 L98.02 643.03 L98.37 642.15 L98.72 641.28 L99.08 640.42 L99.43 639.58 L99.78 638.75 L100.14 637.94 L100.49 637.14 L100.84 636.35 L101.2 635.57 L101.55 634.81 L101.91 634.06 L102.26 633.33 L102.61 632.6 L102.97 631.89 L103.32 631.19 L103.67 630.49 L104.03 629.81 L104.38 629.14 L104.73 628.48 L105.09 627.83 L105.44 627.19 L105.79 626.56 L106.15 625.94 L106.5 625.33 L106.85 624.73 L107.21 624.13 L107.56 623.55 L107.91 622.97 L108.27 622.4 L108.62 621.84 L108.98 621.28 L109.33 620.73 L109.68 620.19 L110.04 619.66 L110.39 619.13 L110.74 618.61 L111.1 618.1 L111.45 617.6 L111.8 617.09 L112.16 616.6 L112.51 616.11 L112.86 615.63 L113.22 615.15 L113.57 614.68 L113.92 614.21 L114.28 613.75 L114.63 613.29 L114.98 612.84 L115.34 612.4 L115.69 611.95 L116.05 611.52 L116.4 611.08 L116.75 610.65 L117.11 610.23 L117.46 609.81 L117.81 609.39 L118.17 608.98 L118.52 608.57 L118.87 608.17 L119.23 607.77 L119.58 607.37 L119.93 606.98 L120.29 606.59 L120.64 606.2 L120.99 605.82 L121.35 605.44 L121.7 605.06 L122.05 604.69 L122.41 604.32 L122.76 603.95 L123.12 603.58 L123.47 603.22 L123.82 602.86 L124.18 602.51 L124.53 602.15 L124.88 601.8 L125.24 601.46 L125.59 601.11 L125.94 600.77 L126.3 600.43 L126.65 600.09 L127 599.76 L127.36 599.43 L127.71 599.1 L128.06 598.77 L128.42 598.45 L128.77 598.13 L129.12 597.82 L129.48 597.5 L129.83 597.19 L130.19 596.88 L130.54 596.58 L130.89 596.27 L131.25 595.97 L131.6 595.68 L131.95 595.38 L132.31 595.09 L132.66 594.8 L133.01 594.52 L133.37 594.23 L133.72 593.95 L134.07 593.67 L134.43 593.4 L134.78 593.13 L135.13 592.86 L135.49 592.59 L135.84 592.33 L136.19 592.07 L136.55 591.81 L136.9 591.55 L137.26 591.3 L137.61 591.05 L137.96 590.8 L138.32 590.56 L138.67 590.32 L139.02 590.08 L139.38 589.84 L139.73 589.61 L140.08 589.38 L140.44 589.15 L140.79 588.92 L141.14 588.7 L141.5 588.48 L141.85 588.26 L142.2 588.05 L142.56 587.84 L142.91 587.63 L143.26 587.42 L143.62 587.22 L143.97 587.02 L144.33 586.82 L144.68 586.62 L145.03 586.43 L145.39 586.24 L145.74 586.05 L146.09 585.86 L146.45 585.67 L146.8 585.49 L147.15 585.31 L147.51 585.13 L147.86 584.96 L148.21 584.78 L148.57 584.61 L148.92 584.44 L149.27 584.27 L149.63 584.11 L149.98 583.95 L150.33 583.78 L150.69 583.62 L151.04 583.47 L151.4 583.31 L151.75 583.16 L152.1 583.01 L152.46 582.86 L152.81 582.71 L153.16 582.56 L153.52 582.41 L153.87 582.27 L154.22 582.13 L154.58 581.99 L154.93 581.85 L155.28 581.71 L155.64 581.57 L155.99 581.44 L156.34 581.31 L156.7 581.17 L157.05 581.04 L157.4 580.91 L157.76 580.78 L158.11 580.66 L158.47 580.53 L158.82 580.4 L159.17 580.28 L159.53 580.16 L159.88 580.03 L160.23 579.91 L160.59 579.79 L160.94 579.67 L161.29 579.55 L161.65 579.43 L162 579.31 L162.35 579.2 L162.71 579.08 L163.06 578.96 L163.41 578.85 L163.77 578.73 L164.12 578.62 L164.47 578.51 L164.83 578.39 L165.18 578.28 L165.54 578.17 L165.89 578.06 L166.24 577.94 L166.6 577.83 L166.95 577.72 L167.3 577.61 L167.66 577.5 L168.01 577.4 L168.36 577.29 L168.72 577.18 L169.07 577.07 L169.42 576.96 L169.78 576.86 L170.13 576.75 L170.48 576.64 L170.84 576.54 L171.19 576.43 L171.54 576.33 L171.9 576.22 L172.25 576.12 L172.61 576.01 L172.96 575.91 L173.31 575.8 L173.67 575.7 L174.02 575.6 L174.37 575.49 L174.73 575.39 L175.08 575.29 L175.43 575.19 L175.79 575.08 L176.14 574.98 L176.49 574.88 L176.85 574.78 L177.2 574.68 L177.55 574.58 L177.91 574.48 L178.26 574.39 L178.62 574.29 L178.97 574.19 L179.32 574.09 L179.68 574 L180.03 573.9 L180.38 573.81 L180.74 573.71 L181.09 573.62 L181.44 573.53 L181.58 573.49 L181.58 573.49 L181.67 585.34 L181.76 590.66 L181.85 593.14 L181.94 594.39 L182.03 595.09 L182.11 595.56 L182.2 595.92 L182.29 596.23 L182.38 596.52 L182.47 596.8 L182.56 597.07 L182.64 597.34 L182.73 597.6 L182.82 597.85 L182.91 598.11 L183 598.36 L183.09 598.6 L183.18 598.84 L183.26 599.08 L183.35 599.32 L183.44 599.55 L183.53 599.78 L183.62 600.01 L183.71 600.23 L183.79 600.45 L183.88 600.67 L183.97 600.88 L184.06 601.09 L184.15 601.3 L184.24 601.51 L184.32 601.71 L184.41 601.91 L184.5 602.11 L184.59 602.3 L184.68 602.49 L184.77 602.68 L184.85 602.87 L184.94 603.05 L185.03 603.24 L185.12 603.42 L185.21 603.59 L185.3 603.77 L185.38 603.94 L185.47 604.11 L185.56 604.28 L185.65 604.45 L185.74 604.61 L185.83 604.77 L186.18 605.4 L186.53 606 L186.89 606.57 L187.24 607.12 L187.59 607.64 L187.95 608.13 L188.3 608.61 L188.65 609.06 L189.01 609.5 L189.36 609.91 L189.71 610.31 L190.07 610.7 L190.42 611.07 L190.78 611.43 L191.13 611.77 L191.48 612.1 L191.84 612.42 L192.19 612.73 L192.54 613.03 L192.9 613.33 L193.25 613.61 L193.6 613.88 L193.96 614.15 L194.31 614.41 L194.66 614.66 L195.02 614.91 L195.37 615.15 L195.72 615.38 L196.08 615.61 L196.43 615.84 L196.78 616.06 L197.14 616.27 L197.49 616.49 L197.85 616.69 L198.2 616.9 L198.55 617.1 L198.91 617.3 L199.26 617.49 L199.61 617.68 L199.97 617.87 L200.32 618.05 L200.67 618.24 L201.03 618.42 L201.38 618.6 L201.73 618.77 L202.09 618.95 L202.44 619.12 L202.79 619.29 L203.85 619.79 L204.92 620.28 L205.98 620.75 L207.04 621.21 L208.1 621.67 L209.16 622.11 L210.22 622.55 L211.28 622.97 L212.34 623.39 L213.4 623.81 L214.46 624.22 L215.52 624.62 L216.58 625.01 L217.64 625.4 L218.7 625.79 L219.76 626.17 L220.82 626.54 L221.88 626.91 L222.94 627.28 L224 627.64 L225.06 628 L226.13 628.35 L227.19 628.69 L228.25 629.04 L229.31 629.37 L230.37 629.71 L231.43 630.04 L232.49 630.36 L233.55 630.68 L234.61 631 L235.67 631.31 L236.73 631.62 L237.79 631.93 L238.85 632.23 L239.91 632.53 L240.97 632.82 L242.03 633.12 L243.09 633.4 L244.15 633.69 L245.21 633.97 L246.27 634.24 L247.34 634.52 L248.4 634.79 L249.46 635.05 L250.52 635.32 L251.58 635.58 L252.64 635.83 L253.7 636.09 L254.76 636.34 L255.82 636.58 L256.88 636.83 L257.94 637.07 L259 637.31 L260.06 637.54 L261.12 637.78 L262.18 638 L263.24 638.23 L264.3 638.46 L265.36 638.68 L266.42 638.89 L267.48 639.11 L268.55 639.32 L269.61 639.53 L270.67 639.74 L271.73 639.95 L272.79 640.15 L273.85 640.35 L274.91 640.55 L275.97 640.74 L277.03 640.93 L278.09 641.13 L279.15 641.31 L280.21 641.5 L281.27 641.68 L282.33 641.86 L283.39 642.04 L284.45 642.22 L285.51 642.39 L286.57 642.57 L287.63 642.74 L288.69 642.9 L289.76 643.07 L290.82 643.23 L291.88 643.4 L292.94 643.56 L294 643.71 L295.06 643.87 L296.12 644.02 L297.18 644.18 L298.24 644.33 L299.3 644.47 L300.36 644.62 L301.42 644.77 L302.48 644.91 L303.54 645.05 L304.6 645.19 L305.66 645.33 L306.72 645.46 L307.78 645.6 L308.84 645.73 L309.9 645.86 L310.97 645.99 L312.03 646.12 L313.09 646.24 L314.15 646.37 L315.21 646.49 L316.27 646.61 L317.33 646.73 L318.39 646.85 L319.45 646.97 L320.51 647.08 L321.57 647.2 L322.63 647.31 L323.69 647.42 L324.75 647.53 L325.81 647.64 L326.87 647.75 L327.93 647.86 L328.99 647.96 L330.05 648.06 L331.11 648.17 L332.18 648.27 L333.24 648.37 L334.3 648.46 L335.36 648.56 L336.42 648.66 L337.48 648.75 L338.54 648.85 L339.6 648.94 L340.66 649.03 L341.72 649.12 L342.78 649.21 L343.84 649.3 L344.9 649.38 L345.96 649.47 L347.02 649.55 L348.08 649.64 L349.14 649.72 L350.2 649.8 L351.26 649.88 L352.32 649.96 L353.39 650.04 L354.45 650.12 L355.51 650.19 L356.57 650.27 L357.63 650.35 L358.69 650.42 L359.75 650.49 L360.81 650.56 L361.87 650.63 L362.93 650.71 L363.99 650.77 L365.05 650.84 L366.11 650.91 L367.17 650.98 L368.23 651.04 L369.29 651.11 L370.35 651.17 L371.41 651.24 L372.47 651.3 L373.53 651.36 L374.6 651.42 L375.66 651.48 L376.57 651.54"/>
<path d="M85.89 686.5 L86.07 685.64 L86.25 684.78 L86.42 683.94 L86.6 683.11 L86.78 682.28 L86.95 681.47 L87.13 680.66 L87.31 679.86 L87.48 679.08 L87.66 678.3 L87.84 677.53 L88.01 676.77 L88.19 676.01 L88.37 675.27 L88.54 674.53 L88.72 673.8 L88.9 673.08 L89.07 672.37 L89.25 671.66 L89.43 670.96 L89.6 670.27 L89.78 669.59 L89.96 668.91 L90.13 668.24 L90.31 667.58 L90.49 666.92 L90.66 666.27 L90.84 665.63 L91.02 665 L91.19 664.37 L91.37 663.74 L91.55 663.12 L91.72 662.51 L91.9 661.91 L92.08 661.31 L92.25 660.71 L92.43 660.13 L92.61 659.54 L92.79 658.97 L92.96 658.4 L93.14 657.83 L93.32 657.27 L93.49 656.71 L93.67 656.16 L93.85 655.62 L94.02 655.08 L94.2 654.54 L94.38 654.01 L94.55 653.49 L94.73 652.96 L94.91 652.45 L95.08 651.94 L95.26 651.43 L95.44 650.93 L95.61 650.43 L95.79 649.94 L95.97 649.45 L96.14 648.96 L96.32 648.48 L96.5 648.01 L96.67 647.53 L96.85 647.07 L97.03 646.6 L97.2 646.14 L97.31 645.87 L97.66 644.96 L98.02 644.08 L98.37 643.2 L98.72 642.34 L99.08 641.5 L99.43 640.67 L99.78 639.85 L100.14 639.05 L100.49 638.26 L100.84 637.48 L101.2 636.72 L101.55 635.97 L101.91 635.23 L102.26 634.5 L102.61 633.78 L102.97 633.08 L103.32 632.38 L103.67 631.7 L104.03 631.03 L104.38 630.37 L104.73 629.72 L105.09 629.08 L105.44 628.44 L105.79 627.82 L106.15 627.21 L106.5 626.61 L106.85 626.01 L107.21 625.43 L107.56 624.85 L107.91 624.28 L108.27 623.72 L108.62 623.17 L108.98 622.63 L109.33 622.09 L109.68 621.56 L110.04 621.04 L110.39 620.53 L110.74 620.02 L111.1 619.52 L111.45 619.03 L111.8 618.54 L112.16 618.06 L112.51 617.58 L112.86 617.12 L113.22 616.65 L113.57 616.2 L113.92 615.75 L114.28 615.3 L114.63 614.86 L114.98 614.43 L115.34 614 L115.69 613.58 L116.05 613.16 L116.4 612.74 L116.75 612.33 L117.11 611.93 L117.46 611.53 L117.81 611.13 L118.17 610.74 L118.52 610.36 L118.87 609.97 L119.23 609.6 L119.58 609.22 L119.93 608.85 L120.29 608.49 L120.64 608.13 L120.99 607.77 L121.35 607.41 L121.7 607.06 L122.05 606.71 L122.41 606.37 L122.76 606.03 L123.12 605.69 L123.47 605.36 L123.82 605.03 L124.18 604.7 L124.53 604.37 L124.88 604.05 L125.24 603.73 L125.59 603.42 L125.94 603.11 L126.3 602.8 L126.65 602.49 L127 602.19 L127.36 601.89 L127.71 601.59 L128.06 601.29 L128.42 601 L128.77 600.71 L129.12 600.42 L129.48 600.14 L129.83 599.86 L130.19 599.58 L130.54 599.31 L130.89 599.04 L131.25 598.77 L131.6 598.5 L131.95 598.24 L132.31 597.97 L132.66 597.72 L133.01 597.46 L133.37 597.21 L133.72 596.96 L134.07 596.71 L134.43 596.47 L134.78 596.22 L135.13 595.98 L135.49 595.75 L135.84 595.51 L136.19 595.28 L136.55 595.05 L136.9 594.83 L137.26 594.6 L137.61 594.38 L137.96 594.17 L138.32 593.95 L138.67 593.74 L139.02 593.53 L139.38 593.33 L139.73 593.13 L140.08 592.93 L140.44 592.74 L140.79 592.55 L141.14 592.36 L141.5 592.17 L141.85 591.99 L142.2 591.82 L142.56 591.64 L142.91 591.47 L143.26 591.3 L143.62 591.14 L143.97 590.97 L144.33 590.82 L144.68 590.66 L145.03 590.51 L145.39 590.35 L145.74 590.21 L146.09 590.06 L146.45 589.92 L146.8 589.78 L147.15 589.64 L147.51 589.51 L147.86 589.37 L148.21 589.24 L148.57 589.12 L148.92 588.99 L149.27 588.87 L149.63 588.75 L149.98 588.63 L150.33 588.51 L150.69 588.39 L151.04 588.28 L151.4 588.17 L151.75 588.06 L152.1 587.95 L152.46 587.85 L152.81 587.75 L153.16 587.64 L153.52 587.54 L153.87 587.45 L154.22 587.35 L154.58 587.25 L154.93 587.16 L155.28 587.07 L155.64 586.98 L155.99 586.89 L156.34 586.8 L156.7 586.71 L157.05 586.63 L157.4 586.54 L157.76 586.46 L158.11 586.38 L158.47 586.3 L158.82 586.22 L159.17 586.14 L159.53 586.06 L159.88 585.99 L160.23 585.91 L160.59 585.84 L160.94 585.76 L161.29 585.69 L161.65 585.62 L162 585.55 L162.35 585.48 L162.71 585.41 L163.06 585.34 L163.41 585.27 L163.77 585.2 L164.12 585.13 L164.47 585.06 L164.83 585 L165.18 584.93 L165.54 584.87 L165.89 584.8 L166.24 584.74 L166.6 584.68 L166.95 584.61 L167.3 584.55 L167.66 584.49 L168.01 584.43 L168.36 584.37 L168.72 584.31 L169.07 584.25 L169.42 584.19 L169.78 584.13 L170.13 584.07 L170.48 584.01 L170.84 583.95 L171.19 583.89 L171.54 583.84 L171.9 583.78 L172.25 583.72 L172.61 583.67 L172.96 583.61 L173.31 583.56 L173.67 583.5 L174.02 583.45 L174.37 583.39 L174.73 583.34 L175.08 583.28 L175.43 583.23 L175.79 583.18 L176.14 583.12 L176.49 583.07 L176.85 583.02 L177.2 582.97 L177.55 582.92 L177.91 582.87 L178.26 582.82 L178.62 582.77 L178.97 582.72 L179.32 582.67 L179.68 582.62 L180.03 582.57 L180.38 582.52 L180.74 582.48 L181.09 582.43 L181.44 582.38 L181.58 582.37 L181.58 582.37 L181.67 592.81 L181.76 597.5 L181.85 599.69 L181.94 600.79 L182.03 601.41 L182.11 601.82 L182.2 602.15 L182.29 602.43 L182.38 602.69 L182.47 602.94 L182.56 603.18 L182.64 603.42 L182.73 603.66 L182.82 603.89 L182.91 604.12 L183 604.35 L183.09 604.57 L183.18 604.79 L183.26 605.01 L183.35 605.23 L183.44 605.44 L183.53 605.65 L183.62 605.86 L183.71 606.07 L183.79 606.27 L183.88 606.47 L183.97 606.67 L184.06 606.87 L184.15 607.06 L184.24 607.26 L184.32 607.45 L184.41 607.63 L184.5 607.82 L184.59 608 L184.68 608.18 L184.77 608.36 L184.85 608.54 L184.94 608.71 L185.03 608.89 L185.12 609.06 L185.21 609.23 L185.3 609.39 L185.38 609.56 L185.47 609.72 L185.56 609.88 L185.65 610.04 L185.74 610.2 L185.83 610.36 L186.18 610.96 L186.53 611.55 L186.89 612.1 L187.24 612.64 L187.59 613.15 L187.95 613.64 L188.3 614.11 L188.65 614.57 L189.01 615.01 L189.36 615.43 L189.71 615.83 L190.07 616.22 L190.42 616.6 L190.78 616.96 L191.13 617.32 L191.48 617.66 L191.84 617.99 L192.19 618.3 L192.54 618.61 L192.9 618.91 L193.25 619.21 L193.6 619.49 L193.96 619.77 L194.31 620.03 L194.66 620.3 L195.02 620.55 L195.37 620.8 L195.72 621.04 L196.08 621.28 L196.43 621.51 L196.78 621.74 L197.14 621.96 L197.49 622.18 L197.85 622.39 L198.2 622.6 L198.55 622.8 L198.91 623.01 L199.26 623.2 L199.61 623.4 L199.97 623.59 L200.32 623.78 L200.67 623.96 L201.03 624.15 L201.38 624.33 L201.73 624.5 L202.09 624.68 L202.44 624.85 L202.79 625.02 L203.85 625.52 L204.92 626.01 L205.98 626.48 L207.04 626.93 L208.1 627.38 L209.16 627.81 L210.22 628.23 L211.28 628.65 L212.34 629.05 L213.4 629.45 L214.46 629.84 L215.52 630.23 L216.58 630.61 L217.64 630.98 L218.7 631.35 L219.76 631.71 L220.82 632.06 L221.88 632.42 L222.94 632.76 L224 633.1 L225.06 633.44 L226.13 633.77 L227.19 634.1 L228.25 634.42 L229.31 634.74 L230.37 635.05 L231.43 635.36 L232.49 635.67 L233.55 635.97 L234.61 636.27 L235.67 636.56 L236.73 636.85 L237.79 637.13 L238.85 637.42 L239.91 637.7 L240.97 637.97 L242.03 638.24 L243.09 638.51 L244.15 638.77 L245.21 639.04 L246.27 639.29 L247.34 639.55 L248.4 639.8 L249.46 640.05 L250.52 640.29 L251.58 640.53 L252.64 640.77 L253.7 641 L254.76 641.24 L255.82 641.47 L256.88 641.69 L257.94 641.91 L259 642.13 L260.06 642.35 L261.12 642.57 L262.18 642.78 L263.24 642.99 L264.3 643.19 L265.36 643.4 L266.42 643.6 L267.48 643.8 L268.55 643.99 L269.61 644.18 L270.67 644.38 L271.73 644.56 L272.79 644.75 L273.85 644.93 L274.91 645.11 L275.97 645.29 L277.03 645.47 L278.09 645.64 L279.15 645.81 L280.21 645.98 L281.27 646.15 L282.33 646.32 L283.39 646.48 L284.45 646.64 L285.51 646.8 L286.57 646.96 L287.63 647.11 L288.69 647.26 L289.76 647.41 L290.82 647.56 L291.88 647.71 L292.94 647.85 L294 648 L295.06 648.14 L296.12 648.28 L297.18 648.42 L298.24 648.55 L299.3 648.69 L300.36 648.82 L301.42 648.95 L302.48 649.08 L303.54 649.21 L304.6 649.33 L305.66 649.45 L306.72 649.58 L307.78 649.7 L308.84 649.82 L309.9 649.93 L310.97 650.05 L312.03 650.17 L313.09 650.28 L314.15 650.39 L315.21 650.5 L316.27 650.61 L317.33 650.72 L318.39 650.82 L319.45 650.93 L320.51 651.03 L321.57 651.13 L322.63 651.23 L323.69 651.33 L324.75 651.43 L325.81 651.53 L326.87 651.62 L327.93 651.72 L328.99 651.81 L330.05 651.9 L331.11 651.99 L332.18 652.08 L333.24 652.17 L334.3 652.26 L335.36 652.34 L336.42 652.43 L337.48 652.51 L338.54 652.59 L339.6 652.68 L340.66 652.76 L341.72 652.84 L342.78 652.91 L343.84 652.99 L344.9 653.07 L345.96 653.14 L347.02 653.22 L348.08 653.29 L349.14 653.36 L350.2 653.44 L351.26 653.51 L352.32 653.58 L353.39 653.64 L354.45 653.71 L355.51 653.78 L356.57 653.85 L357.63 653.91 L358.69 653.98 L359.75 654.04 L360.81 654.1 L361.87 654.16 L362.93 654.23 L363.99 654.29 L365.05 654.35 L366.11 654.4 L367.17 654.46 L368.23 654.52 L369.29 654.58 L370.35 654.63 L371.41 654.69 L372.47 654.74 L373.53 654.8 L374.6 654.85 L375.66 654.9 L376.57 654.95"/>
<path d="M85.89 686.5 L86.07 686.24 L86.25 685.98 L86.42 685.72 L86.6 685.46 L86.78 685.21 L86.95 684.96 L87.13 684.71 L87.31 684.46 L87.48 684.22 L87.66 683.98 L87.84 683.74 L88.01 683.51 L88.19 683.27 L88.37 683.04 L88.54 682.81 L88.72 682.59 L88.9 682.35 L89.07 682.12 L89.25 681.88 L89.43 681.65 L89.6 681.42 L89.78 681.19 L89.96 680.95 L90.13 680.73 L90.31 680.5 L90.49 680.27 L90.66 680.04 L90.84 679.82 L91.02 679.59 L91.19 679.37 L91.37 679.15 L91.55 678.93 L91.72 678.71 L91.9 678.49 L92.08 678.27 L92.25 678.05 L92.43 677.84 L92.61 677.62 L92.79 677.4 L92.96 677.19 L93.14 676.98 L93.32 676.77 L93.49 676.55 L93.67 676.34 L93.85 676.13 L94.02 675.92 L94.2 675.72 L94.38 675.51 L94.55 675.3 L94.73 675.1 L94.91 674.89 L95.08 674.69 L95.26 674.49 L95.44 674.29 L95.61 674.08 L95.79 673.88 L95.97 673.68 L96.14 673.48 L96.32 673.29 L96.5 673.09 L96.67 672.89 L96.85 672.7 L97.03 672.5 L97.2 672.31 L97.31 672.19 L97.66 671.81 L98.02 671.42 L98.37 671.05 L98.72 670.67 L99.08 670.3 L99.43 669.93 L99.78 669.56 L100.14 669.19 L100.49 668.83 L100.84 668.47 L101.2 668.12 L101.55 667.76 L101.91 667.41 L102.26 667.06 L102.61 666.72 L102.97 666.38 L103.32 666.04 L103.67 665.7 L104.03 665.36 L104.38 665.03 L104.73 664.7 L105.09 664.37 L105.44 664.05 L105.79 663.73 L106.15 663.4 L106.5 663.09 L106.85 662.77 L107.21 662.46 L107.56 662.15 L107.91 661.84 L108.27 661.53 L108.62 661.22 L108.98 660.92 L109.33 660.62 L109.68 660.32 L110.04 660.02 L110.39 659.73 L110.74 659.44 L111.1 659.14 L111.45 658.86 L111.8 658.57 L112.16 658.28 L112.51 658 L112.86 657.72 L113.22 657.44 L113.57 657.16 L113.92 656.88 L114.28 656.6 L114.63 656.33 L114.98 656.06 L115.34 655.79 L115.69 655.52 L116.05 655.25 L116.4 654.98 L116.75 654.72 L117.11 654.46 L117.46 654.2 L117.81 653.94 L118.17 653.68 L118.52 653.42 L118.87 653.17 L119.23 652.91 L119.58 652.66 L119.93 652.41 L120.29 652.16 L120.64 651.91 L120.99 651.66 L121.35 651.42 L121.7 651.18 L122.05 650.93 L122.41 650.69 L122.76 650.45 L123.12 650.22 L123.47 649.98 L123.82 649.75 L124.18 649.51 L124.53 649.28 L124.88 649.05 L125.24 648.82 L125.59 648.59 L125.94 648.37 L126.3 648.14 L126.65 647.92 L127 647.7 L127.36 647.48 L127.71 647.26 L128.06 647.05 L128.42 646.83 L128.77 646.62 L129.12 646.41 L129.48 646.21 L129.83 646 L130.19 645.8 L130.54 645.59 L130.89 645.39 L131.25 645.2 L131.6 645 L131.95 644.81 L132.31 644.61 L132.66 644.42 L133.01 644.24 L133.37 644.05 L133.72 643.87 L134.07 643.68 L134.43 643.5 L134.78 643.33 L135.13 643.15 L135.49 642.98 L135.84 642.8 L136.19 642.63 L136.55 642.46 L136.9 642.3 L137.26 642.13 L137.61 641.97 L137.96 641.81 L138.32 641.65 L138.67 641.49 L139.02 641.34 L139.38 641.19 L139.73 641.03 L140.08 640.88 L140.44 640.74 L140.79 640.59 L141.14 640.45 L141.5 640.31 L141.85 640.17 L142.2 640.03 L142.56 639.89 L142.91 639.76 L143.26 639.62 L143.62 639.49 L143.97 639.37 L144.33 639.24 L144.68 639.11 L145.03 638.99 L145.39 638.87 L145.74 638.75 L146.09 638.63 L146.45 638.52 L146.8 638.4 L147.15 638.29 L147.51 638.18 L147.86 638.07 L148.21 637.96 L148.57 637.86 L148.92 637.75 L149.27 637.65 L149.63 637.55 L149.98 637.45 L150.33 637.35 L150.69 637.25 L151.04 637.15 L151.4 637.06 L151.75 636.96 L152.1 636.87 L152.46 636.78 L152.81 636.69 L153.16 636.6 L153.52 636.51 L153.87 636.43 L154.22 636.34 L154.58 636.26 L154.93 636.17 L155.28 636.09 L155.64 636.01 L155.99 635.93 L156.34 635.85 L156.7 635.77 L157.05 635.69 L157.4 635.62 L157.76 635.54 L158.11 635.47 L158.47 635.39 L158.82 635.32 L159.17 635.25 L159.53 635.17 L159.88 635.1 L160.23 635.03 L160.59 634.96 L160.94 634.89 L161.29 634.83 L161.65 634.76 L162 634.69 L162.35 634.63 L162.71 634.56 L163.06 634.5 L163.41 634.44 L163.77 634.37 L164.12 634.31 L164.47 634.25 L164.83 634.19 L165.18 634.13 L165.54 634.07 L165.89 634.01 L166.24 633.95 L166.6 633.9 L166.95 633.84 L167.3 633.78 L167.66 633.73 L168.01 633.67 L168.36 633.62 L168.72 633.57 L169.07 633.51 L169.42 633.46 L169.78 633.41 L170.13 633.36 L170.48 633.31 L170.84 633.26 L171.19 633.21 L171.54 633.16 L171.9 633.11 L172.25 633.06 L172.61 633.01 L172.96 632.96 L173.31 632.92 L173.67 632.87 L174.02 632.83 L174.37 632.78 L174.73 632.73 L175.08 632.69 L175.43 632.65 L175.79 632.6 L176.14 632.56 L176.49 632.52 L176.85 632.48 L177.2 632.43 L177.55 632.39 L177.91 632.35 L178.26 632.31 L178.62 632.27 L178.97 632.23 L179.32 632.2 L179.68 632.16 L180.03 632.12 L180.38 632.08 L180.74 632.05 L181.09 632.01 L181.44 631.97 L181.58 631.96 L181.58 631.96 L181.67 636.17 L181.76 638.17 L181.85 639.2 L181.94 639.81 L182.03 640.22 L182.11 640.55 L182.2 640.83 L182.29 641.08 L182.38 641.32 L182.47 641.55 L182.56 641.77 L182.64 641.98 L182.73 642.18 L182.82 642.38 L182.91 642.57 L183 642.75 L183.09 642.92 L183.18 643.09 L183.26 643.25 L183.35 643.4 L183.44 643.55 L183.53 643.69 L183.62 643.83 L183.71 643.97 L183.79 644.1 L183.88 644.22 L183.97 644.34 L184.06 644.46 L184.15 644.57 L184.24 644.68 L184.32 644.78 L184.41 644.89 L184.5 644.98 L184.59 645.08 L184.68 645.17 L184.77 645.26 L184.85 645.35 L184.94 645.43 L185.03 645.51 L185.12 645.59 L185.21 645.67 L185.3 645.74 L185.38 645.82 L185.47 645.89 L185.56 645.95 L185.65 646.02 L185.74 646.09 L185.83 646.15 L186.18 646.38 L186.53 646.6 L186.89 646.79 L187.24 646.97 L187.59 647.14 L187.95 647.3 L188.3 647.44 L188.65 647.58 L189.01 647.71 L189.36 647.84 L189.71 647.96 L190.07 648.08 L190.42 648.19 L190.78 648.3 L191.13 648.41 L191.48 648.52 L191.84 648.62 L192.19 648.72 L192.54 648.82 L192.9 648.92 L193.25 649.02 L193.6 649.12 L193.96 649.22 L194.31 649.31 L194.66 649.41 L195.02 649.5 L195.37 649.59 L195.72 649.69 L196.08 649.78 L196.43 649.87 L196.78 649.96 L197.14 650.05 L197.49 650.14 L197.85 650.23 L198.2 650.32 L198.55 650.41 L198.91 650.5 L199.26 650.59 L199.61 650.68 L199.97 650.76 L200.32 650.85 L200.67 650.94 L201.03 651.02 L201.38 651.11 L201.73 651.19 L202.09 651.28 L202.44 651.36 L202.79 651.45 L203.85 651.7 L204.92 651.94 L205.98 652.19 L207.04 652.43 L208.1 652.67 L209.16 652.9 L210.22 653.13 L211.28 653.36 L212.34 653.59 L213.4 653.81 L214.46 654.03 L215.52 654.25 L216.58 654.46 L217.64 654.67 L218.7 654.88 L219.76 655.09 L220.82 655.29 L221.88 655.49 L222.94 655.69 L224 655.88 L225.06 656.08 L226.13 656.27 L227.19 656.46 L228.25 656.64 L229.31 656.82 L230.37 657 L231.43 657.18 L232.49 657.36 L233.55 657.53 L234.61 657.71 L235.67 657.87 L236.73 658.04 L237.79 658.21 L238.85 658.37 L239.91 658.53 L240.97 658.69 L242.03 658.85 L243.09 659 L244.15 659.15 L245.21 659.31 L246.27 659.45 L247.34 659.6 L248.4 659.75 L249.46 659.89 L250.52 660.03 L251.58 660.17 L252.64 660.31 L253.7 660.44 L254.76 660.58 L255.82 660.71 L256.88 660.84 L257.94 660.97 L259 661.1 L260.06 661.22 L261.12 661.35 L262.18 661.47 L263.24 661.59 L264.3 661.71 L265.36 661.83 L266.42 661.94 L267.48 662.06 L268.55 662.17 L269.61 662.28 L270.67 662.39 L271.73 662.5 L272.79 662.61 L273.85 662.72 L274.91 662.82 L275.97 662.93 L277.03 663.03 L278.09 663.13 L279.15 663.23 L280.21 663.33 L281.27 663.42 L282.33 663.52 L283.39 663.61 L284.45 663.71 L285.51 663.8 L286.57 663.89 L287.63 663.98 L288.69 664.07 L289.76 664.15 L290.82 664.24 L291.88 664.33 L292.94 664.41 L294 664.49 L295.06 664.57 L296.12 664.66 L297.18 664.74 L298.24 664.81 L299.3 664.89 L300.36 664.97 L301.42 665.04 L302.48 665.12 L303.54 665.19 L304.6 665.27 L305.66 665.34 L306.72 665.41 L307.78 665.48 L308.84 665.55 L309.9 665.62 L310.97 665.68 L312.03 665.75 L313.09 665.82 L314.15 665.88 L315.21 665.94 L316.27 666.01 L317.33 666.07 L318.39 666.13 L319.45 666.19 L320.51 666.25 L321.57 666.31 L322.63 666.37 L323.69 666.43 L324.75 666.48 L325.81 666.54 L326.87 666.6 L327.93 666.65 L328.99 666.7 L330.05 666.76 L331.11 666.81 L332.18 666.86 L333.24 666.91 L334.3 666.96 L335.36 667.01 L336.42 667.06 L337.48 667.11 L338.54 667.16 L339.6 667.21 L340.66 667.26 L341.72 667.3 L342.78 667.35 L343.84 667.39 L344.9 667.44 L345.96 667.48 L347.02 667.52 L348.08 667.57 L349.14 667.61 L350.2 667.65 L351.26 667.69 L352.32 667.73 L353.39 667.77 L354.45 667.81 L355.51 667.85 L356.57 667.89 L357.63 667.93 L358.69 667.97 L359.75 668 L360.81 668.04 L361.87 668.07 L362.93 668.11 L363.99 668.15 L365.05 668.18 L366.11 668.21 L367.17 668.25 L368.23 668.28 L369.29 668.32 L370.35 668.35 L371.41 668.38 L372.47 668.41 L373.53 668.44 L374.6 668.47 L375.66 668.5 L376.57 668.53"/>
<path d="M85.89 686.5 L86.07 686.24 L86.25 685.98 L86.42 685.73 L86.6 685.48 L86.78 685.23 L86.95 684.98 L87.13 684.74 L87.31 684.5 L87.48 684.26 L87.66 684.03 L87.84 683.8 L88.01 683.57 L88.19 683.34 L88.37 683.11 L88.54 682.89 L88.72 682.67 L88.9 682.44 L89.07 682.21 L89.25 681.98 L89.43 681.76 L89.6 681.53 L89.78 681.31 L89.96 681.08 L90.13 680.86 L90.31 680.64 L90.49 680.42 L90.66 680.2 L90.84 679.98 L91.02 679.77 L91.19 679.55 L91.37 679.33 L91.55 679.12 L91.72 678.91 L91.9 678.7 L92.08 678.49 L92.25 678.28 L92.43 678.07 L92.61 677.86 L92.79 677.65 L92.96 677.45 L93.14 677.24 L93.32 677.04 L93.49 676.84 L93.67 676.63 L93.85 676.43 L94.02 676.23 L94.2 676.03 L94.38 675.84 L94.55 675.64 L94.73 675.44 L94.91 675.25 L95.08 675.05 L95.26 674.86 L95.44 674.66 L95.61 674.47 L95.79 674.28 L95.97 674.09 L96.14 673.9 L96.32 673.71 L96.5 673.52 L96.67 673.34 L96.85 673.15 L97.03 672.97 L97.2 672.78 L97.31 672.67 L97.66 672.3 L98.02 671.94 L98.37 671.58 L98.72 671.23 L99.08 670.87 L99.43 670.52 L99.78 670.18 L100.14 669.83 L100.49 669.49 L100.84 669.15 L101.2 668.82 L101.55 668.49 L101.91 668.16 L102.26 667.83 L102.61 667.51 L102.97 667.19 L103.32 666.87 L103.67 666.55 L104.03 666.24 L104.38 665.93 L104.73 665.62 L105.09 665.32 L105.44 665.02 L105.79 664.72 L106.15 664.42 L106.5 664.12 L106.85 663.83 L107.21 663.54 L107.56 663.25 L107.91 662.97 L108.27 662.69 L108.62 662.4 L108.98 662.13 L109.33 661.85 L109.68 661.58 L110.04 661.3 L110.39 661.03 L110.74 660.77 L111.1 660.5 L111.45 660.24 L111.8 659.98 L112.16 659.72 L112.51 659.46 L112.86 659.2 L113.22 658.95 L113.57 658.7 L113.92 658.45 L114.28 658.2 L114.63 657.95 L114.98 657.71 L115.34 657.46 L115.69 657.22 L116.05 656.99 L116.4 656.75 L116.75 656.51 L117.11 656.28 L117.46 656.05 L117.81 655.82 L118.17 655.59 L118.52 655.36 L118.87 655.14 L119.23 654.91 L119.58 654.69 L119.93 654.47 L120.29 654.26 L120.64 654.04 L120.99 653.82 L121.35 653.61 L121.7 653.4 L122.05 653.19 L122.41 652.98 L122.76 652.78 L123.12 652.57 L123.47 652.37 L123.82 652.17 L124.18 651.97 L124.53 651.77 L124.88 651.58 L125.24 651.38 L125.59 651.19 L125.94 651 L126.3 650.81 L126.65 650.62 L127 650.44 L127.36 650.25 L127.71 650.07 L128.06 649.89 L128.42 649.71 L128.77 649.54 L129.12 649.36 L129.48 649.19 L129.83 649.01 L130.19 648.84 L130.54 648.68 L130.89 648.51 L131.25 648.34 L131.6 648.18 L131.95 648.02 L132.31 647.86 L132.66 647.7 L133.01 647.54 L133.37 647.39 L133.72 647.24 L134.07 647.08 L134.43 646.93 L134.78 646.79 L135.13 646.64 L135.49 646.5 L135.84 646.35 L136.19 646.21 L136.55 646.07 L136.9 645.93 L137.26 645.8 L137.61 645.66 L137.96 645.53 L138.32 645.4 L138.67 645.27 L139.02 645.14 L139.38 645.01 L139.73 644.89 L140.08 644.77 L140.44 644.64 L140.79 644.52 L141.14 644.41 L141.5 644.29 L141.85 644.18 L142.2 644.06 L142.56 643.95 L142.91 643.84 L143.26 643.74 L143.62 643.63 L143.97 643.52 L144.33 643.42 L144.68 643.32 L145.03 643.22 L145.39 643.12 L145.74 643.03 L146.09 642.93 L146.45 642.84 L146.8 642.75 L147.15 642.66 L147.51 642.57 L147.86 642.48 L148.21 642.4 L148.57 642.32 L148.92 642.23 L149.27 642.15 L149.63 642.07 L149.98 641.99 L150.33 641.92 L150.69 641.84 L151.04 641.77 L151.4 641.69 L151.75 641.62 L152.1 641.55 L152.46 641.48 L152.81 641.41 L153.16 641.34 L153.52 641.28 L153.87 641.21 L154.22 641.15 L154.58 641.08 L154.93 641.02 L155.28 640.96 L155.64 640.9 L155.99 640.84 L156.34 640.78 L156.7 640.72 L157.05 640.67 L157.4 640.61 L157.76 640.56 L158.11 640.5 L158.47 640.45 L158.82 640.4 L159.17 640.35 L159.53 640.3 L159.88 640.25 L160.23 640.2 L160.59 640.15 L160.94 640.1 L161.29 640.05 L161.65 640.01 L162 639.96 L162.35 639.92 L162.71 639.87 L163.06 639.83 L163.41 639.79 L163.77 639.75 L164.12 639.7 L164.47 639.66 L164.83 639.62 L165.18 639.58 L165.54 639.54 L165.89 639.5 L166.24 639.46 L166.6 639.43 L166.95 639.39 L167.3 639.35 L167.66 639.31 L168.01 639.28 L168.36 639.24 L168.72 639.21 L169.07 639.17 L169.42 639.14 L169.78 639.1 L170.13 639.07 L170.48 639.03 L170.84 639 L171.19 638.97 L171.54 638.93 L171.9 638.9 L172.25 638.87 L172.61 638.84 L172.96 638.81 L173.31 638.77 L173.67 638.74 L174.02 638.71 L174.37 638.68 L174.73 638.65 L175.08 638.62 L175.43 638.59 L175.79 638.56 L176.14 638.54 L176.49 638.51 L176.85 638.48 L177.2 638.45 L177.55 638.42 L177.91 638.4 L178.26 638.37 L178.62 638.34 L178.97 638.32 L179.32 638.29 L179.68 638.26 L180.03 638.24 L180.38 638.21 L180.74 638.19 L181.09 638.17 L181.44 638.14 L181.58 638.13 L181.58 638.13 L181.67 640.8 L181.76 642.13 L181.85 642.87 L181.94 643.35 L182.03 643.71 L182.11 644.02 L182.2 644.29 L182.29 644.54 L182.38 644.78 L182.47 645.01 L182.56 645.23 L182.64 645.45 L182.73 645.65 L182.82 645.85 L182.91 646.04 L183 646.23 L183.09 646.4 L183.18 646.58 L183.26 646.74 L183.35 646.9 L183.44 647.06 L183.53 647.21 L183.62 647.35 L183.71 647.49 L183.79 647.62 L183.88 647.75 L183.97 647.88 L184.06 648 L184.15 648.12 L184.24 648.23 L184.32 648.35 L184.41 648.45 L184.5 648.56 L184.59 648.66 L184.68 648.75 L184.77 648.85 L184.85 648.94 L184.94 649.03 L185.03 649.12 L185.12 649.2 L185.21 649.28 L185.3 649.36 L185.38 649.44 L185.47 649.52 L185.56 649.59 L185.65 649.66 L185.74 649.73 L185.83 649.8 L186.18 650.05 L186.53 650.28 L186.89 650.49 L187.24 650.69 L187.59 650.86 L187.95 651.03 L188.3 651.19 L188.65 651.34 L189.01 651.48 L189.36 651.61 L189.71 651.74 L190.07 651.86 L190.42 651.98 L190.78 652.1 L191.13 652.21 L191.48 652.32 L191.84 652.43 L192.19 652.53 L192.54 652.64 L192.9 652.74 L193.25 652.84 L193.6 652.94 L193.96 653.04 L194.31 653.14 L194.66 653.23 L195.02 653.33 L195.37 653.42 L195.72 653.52 L196.08 653.61 L196.43 653.71 L196.78 653.8 L197.14 653.89 L197.49 653.98 L197.85 654.07 L198.2 654.16 L198.55 654.25 L198.91 654.34 L199.26 654.43 L199.61 654.52 L199.97 654.6 L200.32 654.69 L200.67 654.78 L201.03 654.86 L201.38 654.95 L201.73 655.04 L202.09 655.12 L202.44 655.21 L202.79 655.29 L203.85 655.54 L204.92 655.79 L205.98 656.03 L207.04 656.27 L208.1 656.51 L209.16 656.74 L210.22 656.97 L211.28 657.19 L212.34 657.42 L213.4 657.64 L214.46 657.85 L215.52 658.07 L216.58 658.28 L217.64 658.49 L218.7 658.69 L219.76 658.89 L220.82 659.09 L221.88 659.29 L222.94 659.48 L224 659.67 L225.06 659.86 L226.13 660.05 L227.19 660.23 L228.25 660.41 L229.31 660.59 L230.37 660.76 L231.43 660.93 L232.49 661.1 L233.55 661.27 L234.61 661.44 L235.67 661.6 L236.73 661.76 L237.79 661.92 L238.85 662.07 L239.91 662.23 L240.97 662.38 L242.03 662.53 L243.09 662.68 L244.15 662.82 L245.21 662.96 L246.27 663.11 L247.34 663.24 L248.4 663.38 L249.46 663.52 L250.52 663.65 L251.58 663.78 L252.64 663.91 L253.7 664.04 L254.76 664.17 L255.82 664.29 L256.88 664.41 L257.94 664.53 L259 664.65 L260.06 664.77 L261.12 664.88 L262.18 665 L263.24 665.11 L264.3 665.22 L265.36 665.33 L266.42 665.44 L267.48 665.54 L268.55 665.65 L269.61 665.75 L270.67 665.85 L271.73 665.95 L272.79 666.05 L273.85 666.15 L274.91 666.25 L275.97 666.34 L277.03 666.43 L278.09 666.53 L279.15 666.62 L280.21 666.7 L281.27 666.79 L282.33 666.88 L283.39 666.97 L284.45 667.05 L285.51 667.13 L286.57 667.21 L287.63 667.3 L288.69 667.38 L289.76 667.45 L290.82 667.53 L291.88 667.61 L292.94 667.68 L294 667.76 L295.06 667.83 L296.12 667.9 L297.18 667.97 L298.24 668.04 L299.3 668.11 L300.36 668.18 L301.42 668.25 L302.48 668.31 L303.54 668.38 L304.6 668.44 L305.66 668.51 L306.72 668.57 L307.78 668.63 L308.84 668.69 L309.9 668.75 L310.97 668.81 L312.03 668.87 L313.09 668.93 L314.15 668.98 L315.21 669.04 L316.27 669.09 L317.33 669.15 L318.39 669.2 L319.45 669.25 L320.51 669.31 L321.57 669.36 L322.63 669.41 L323.69 669.46 L324.75 669.51 L325.81 669.55 L326.87 669.6 L327.93 669.65 L328.99 669.69 L330.05 669.74 L331.11 669.79 L332.18 669.83 L333.24 669.87 L334.3 669.92 L335.36 669.96 L336.42 670 L337.48 670.04 L338.54 670.08 L339.6 670.12 L340.66 670.16 L341.72 670.2 L342.78 670.24 L343.84 670.28 L344.9 670.32 L345.96 670.35 L347.02 670.39 L348.08 670.42 L349.14 670.46 L350.2 670.49 L351.26 670.53 L352.32 670.56 L353.39 670.6 L354.45 670.63 L355.51 670.66 L356.57 670.69 L357.63 670.72 L358.69 670.75 L359.75 670.79 L360.81 670.82 L361.87 670.85 L362.93 670.87 L363.99 670.9 L365.05 670.93 L366.11 670.96 L367.17 670.99 L368.23 671.01 L369.29 671.04 L370.35 671.07 L371.41 671.09 L372.47 671.12 L373.53 671.15 L374.6 671.17 L375.66 671.2 L376.57 671.22"/>
</g>
<text x="255.4" y="726.8" font-size="14.6" text-anchor="middle" textLength="36.6" lengthAdjust="spacingAndGlyphs" stroke="#000" stroke-width="0.4">Seconds</text>
<text x="45.2" y="561" font-size="15" text-anchor="middle" textLength="12.2" lengthAdjust="spacingAndGlyphs" stroke="#000" stroke-width="0.4" transform="rotate(-90 45.2 561)">RU</text>
<line x1="273" y1="406" x2="273" y2="524" stroke="#000" stroke-width="1.5" fill="none"/>
<line x1="268.6" y1="518.9" x2="273" y2="518.9" stroke="#000" stroke-width="1.5" fill="none"/>
<text transform="translate(265.4 522.5) scale(1.1 1)" font-size="11.6" text-anchor="end" letter-spacing="0.55" stroke="#000" stroke-width="0.15">0</text>
<line x1="268.6" y1="497.22" x2="273" y2="497.22" stroke="#000" stroke-width="1.5" fill="none"/>
<text transform="translate(265.4 500.82) scale(1.1 1)" font-size="11.6" text-anchor="end" letter-spacing="0.55" stroke="#000" stroke-width="0.15">20</text>
<line x1="268.6" y1="475.54" x2="273" y2="475.54" stroke="#000" stroke-width="1.5" fill="none"/>
<text transform="translate(265.4 479.14) scale(1.1 1)" font-size="11.6" text-anchor="end" letter-spacing="0.55" stroke="#000" stroke-width="0.15">40</text>
<line x1="268.6" y1="453.86" x2="273" y2="453.86" stroke="#000" stroke-width="1.5" fill="none"/>
<text transform="translate(265.4 457.46) scale(1.1 1)" font-size="11.6" text-anchor="end" letter-spacing="0.55" stroke="#000" stroke-width="0.15">60</text>
<line x1="268.6" y1="432.18" x2="273" y2="432.18" stroke="#000" stroke-width="1.5" fill="none"/>
<text transform="translate(265.4 435.78) scale(1.1 1)" font-size="11.6" text-anchor="end" letter-spacing="0.55" stroke="#000" stroke-width="0.15">80</text>
<line x1="268.6" y1="410.5" x2="273" y2="410.5" stroke="#000" stroke-width="1.5" fill="none"/>
<text transform="translate(265.4 414.1) scale(1.1 1)" font-size="11.6" text-anchor="end" letter-spacing="0.55" stroke="#000" stroke-width="0.15">100</text>
<line x1="281" y1="530.8" x2="456.9" y2="530.8" stroke="#000" stroke-width="1.5" fill="none"/>
<line x1="284.9" y1="530.8" x2="284.9" y2="535.1" stroke="#000" stroke-width="1.5" fill="none"/>
<text transform="translate(285.2 550.4) scale(1.1 1)" font-size="11.6" text-anchor="middle" letter-spacing="0.55" stroke="#000" stroke-width="0.15">0</text>
<line x1="318.54" y1="530.8" x2="318.54" y2="535.1" stroke="#000" stroke-width="1.5" fill="none"/>
<text transform="translate(318.84 550.4) scale(1.1 1)" font-size="11.6" text-anchor="middle" letter-spacing="0.55" stroke="#000" stroke-width="0.15">200</text>
<line x1="352.18" y1="530.8" x2="352.18" y2="535.1" stroke="#000" stroke-width="1.5" fill="none"/>
<text transform="translate(352.48 550.4) scale(1.1 1)" font-size="11.6" text-anchor="middle" letter-spacing="0.55" stroke="#000" stroke-width="0.15">400</text>
<line x1="385.82" y1="530.8" x2="385.82" y2="535.1" stroke="#000" stroke-width="1.5" fill="none"/>
<text transform="translate(386.12 550.4) scale(1.1 1)" font-size="11.6" text-anchor="middle" letter-spacing="0.55" stroke="#000" stroke-width="0.15">600</text>
<line x1="419.46" y1="530.8" x2="419.46" y2="535.1" stroke="#000" stroke-width="1.5" fill="none"/>
<text transform="translate(419.76 550.4) scale(1.1 1)" font-size="11.6" text-anchor="middle" letter-spacing="0.55" stroke="#000" stroke-width="0.15">800</text>
<line x1="453.1" y1="530.8" x2="453.1" y2="535.1" stroke="#000" stroke-width="1.5" fill="none"/>
<text transform="translate(453.4 550.4) scale(1.1 1)" font-size="11.6" text-anchor="middle" letter-spacing="0.55" stroke="#000" stroke-width="0.15">1000</text>
<text x="331.9" y="570" font-size="14.0" text-anchor="start" textLength="48.9" lengthAdjust="spacingAndGlyphs" stroke="#000" stroke-width="0.4">ADAMTS13</text>
<text x="385.1" y="570" font-size="14.0" text-anchor="start" textLength="21.2" lengthAdjust="spacingAndGlyphs" stroke="#000" stroke-width="0.4">(nM)</text>
<path d="M284.9 518.9 L286.58 516.68 L288.26 514.52 L289.95 512.41 L291.63 510.34 L293.31 508.33 L294.99 506.35 L296.67 504.43 L298.36 502.54 L300.04 500.7 L301.72 498.89 L303.4 497.13 L305.08 495.4 L306.77 493.7 L308.45 492.05 L310.13 490.42 L311.81 488.83 L313.49 487.27 L315.18 485.74 L316.86 484.25 L318.54 482.78 L320.22 481.34 L321.9 479.92 L323.59 478.54 L325.27 477.18 L326.95 475.84 L328.63 474.53 L330.31 473.24 L332 471.98 L333.68 470.74 L335.36 469.52 L337.04 468.32 L338.72 467.14 L340.41 465.99 L342.09 464.85 L343.77 463.73 L345.45 462.63 L347.13 461.55 L348.82 460.49 L350.5 459.45 L352.18 458.42 L353.86 457.41 L355.54 456.41 L357.23 455.43 L358.91 454.47 L360.59 453.52 L362.27 452.59 L363.95 451.67 L365.64 450.76 L367.32 449.87 L369 448.99 L370.68 448.13 L372.36 447.27 L374.05 446.43 L375.73 445.61 L377.41 444.79 L379.09 443.99 L380.77 443.2 L382.46 442.41 L384.14 441.64 L385.82 440.89 L387.5 440.14 L389.18 439.4 L390.87 438.67 L392.55 437.95 L394.23 437.24 L395.91 436.54 L397.59 435.85 L399.28 435.17 L400.96 434.5 L402.64 433.84 L404.32 433.19 L406 432.54 L407.69 431.9 L409.37 431.27 L411.05 430.65 L412.73 430.04 L414.41 429.43 L416.1 428.83 L417.78 428.24 L419.46 427.66 L421.14 427.08 L422.82 426.51 L424.51 425.95 L426.19 425.39 L427.87 424.84 L429.55 424.3 L431.23 423.77 L432.92 423.24 L434.6 422.71 L436.28 422.19" fill="none" stroke="#a1002b" stroke-width="1.5"/>
<circle cx="284.9" cy="518.9" r="2.7" fill="#a1002b"/>
<circle cx="301.72" cy="496.79" r="2.7" fill="#a1002b"/>
<circle cx="335.36" cy="471.85" r="2.7" fill="#a1002b"/>
<circle cx="369" cy="447.25" r="2.7" fill="#a1002b"/>
<circle cx="402.64" cy="434.89" r="2.7" fill="#a1002b"/>
<circle cx="436.28" cy="421.77" r="2.7" fill="#a1002b"/>
<text x="10.6" y="750.1" font-size="17.5" font-weight="bold">C</text>
<text x="90.5" y="770.8" font-size="14" font-weight="bold" letter-spacing="0.39">EDHu-1 and II-1 binding to CD163 fragments</text>
<line x1="75.8" y1="781.2" x2="75.8" y2="1012.9" stroke="#000" stroke-width="1.5" fill="none"/>
<line x1="71.3" y1="1012.9" x2="75.8" y2="1012.9" stroke="#000" stroke-width="1.5" fill="none"/>
<text transform="translate(67.6 1016.5) scale(1.1 1)" font-size="11.6" text-anchor="end" letter-spacing="0.55" stroke="#000" stroke-width="0.15">0</text>
<line x1="71.3" y1="937.13" x2="75.8" y2="937.13" stroke="#000" stroke-width="1.5" fill="none"/>
<text transform="translate(67.6 940.74) scale(1.1 1)" font-size="11.6" text-anchor="end" letter-spacing="0.55" stroke="#000" stroke-width="0.15">50</text>
<line x1="71.3" y1="861.37" x2="75.8" y2="861.37" stroke="#000" stroke-width="1.5" fill="none"/>
<text transform="translate(67.6 864.97) scale(1.1 1)" font-size="11.6" text-anchor="end" letter-spacing="0.55" stroke="#000" stroke-width="0.15">100</text>
<line x1="71.3" y1="785.61" x2="75.8" y2="785.61" stroke="#000" stroke-width="1.5" fill="none"/>
<text transform="translate(67.6 789.21) scale(1.1 1)" font-size="11.6" text-anchor="end" letter-spacing="0.55" stroke="#000" stroke-width="0.15">150</text>
<line x1="75.7" y1="1012.9" x2="412.7" y2="1012.9" stroke="#000" stroke-width="1.5" fill="none"/>
<line x1="75.7" y1="1012.9" x2="75.7" y2="1017.4" stroke="#000" stroke-width="1.5" fill="none"/>
<text transform="translate(76 1033) scale(1.1 1)" font-size="11.6" text-anchor="middle" letter-spacing="0.55" stroke="#000" stroke-width="0.15">0</text>
<line x1="158.88" y1="1012.9" x2="158.88" y2="1017.4" stroke="#000" stroke-width="1.5" fill="none"/>
<text transform="translate(159.18 1033) scale(1.1 1)" font-size="11.6" text-anchor="middle" letter-spacing="0.55" stroke="#000" stroke-width="0.15">200</text>
<line x1="242.06" y1="1012.9" x2="242.06" y2="1017.4" stroke="#000" stroke-width="1.5" fill="none"/>
<text transform="translate(242.36 1033) scale(1.1 1)" font-size="11.6" text-anchor="middle" letter-spacing="0.55" stroke="#000" stroke-width="0.15">400</text>
<line x1="325.24" y1="1012.9" x2="325.24" y2="1017.4" stroke="#000" stroke-width="1.5" fill="none"/>
<text transform="translate(325.54 1033) scale(1.1 1)" font-size="11.6" text-anchor="middle" letter-spacing="0.55" stroke="#000" stroke-width="0.15">600</text>
<line x1="408.42" y1="1012.9" x2="408.42" y2="1017.4" stroke="#000" stroke-width="1.5" fill="none"/>
<text transform="translate(408.72 1033) scale(1.1 1)" font-size="11.6" text-anchor="middle" letter-spacing="0.55" stroke="#000" stroke-width="0.15">800</text>
<path d="M75.7 1012.29 L124.78 1012.29 L130.18 1009.72 L142.24 1010.93 L158.88 1011.69 L183.83 1012.14 L364.75 1012.29" fill="none" stroke="#5a9e28" stroke-width="2.0" stroke-linecap="butt" stroke-linejoin="round"/>
<path d="M75.7 1012.45 L124.78 1012.45 L131.01 1008.51 L142.24 1008.88 L158.88 1009.57 L200.47 1010.78 L221.26 1011.31 L283.65 1011.99 L364.75 1012.37" fill="none" stroke="#46125a" stroke-width="2.0" stroke-linecap="butt" stroke-linejoin="round" stroke-dasharray="7.5 8.5"/>
<path d="M75.7 1012.9 L76.99 1010.12 L78.29 1007.4 L79.58 1004.74 L80.88 1002.13 L82.17 999.58 L83.47 997.07 L84.76 994.62 L86.06 992.22 L87.35 989.87 L88.65 987.57 L89.94 985.31 L91.24 983.1 L92.53 980.94 L93.82 978.82 L95.12 976.74 L96.41 974.7 L97.71 972.71 L99 970.76 L100.3 968.85 L101.59 966.98 L102.89 965.15 L104.18 963.35 L105.48 961.59 L106.77 959.87 L108.07 958.18 L109.36 956.53 L110.65 954.91 L111.95 953.32 L113.24 951.77 L114.54 950.25 L115.83 948.76 L117.13 947.3 L118.42 945.87 L119.72 944.47 L121.01 943.1 L122.31 941.76 L123.6 940.44 L124.9 939.15 L126.19 937.89 L130.18 940.17 L200.47 941.38 L283.65 942.44 L365.17 943.2" fill="none" stroke="#a1002b" stroke-width="2.0" stroke-linecap="butt" stroke-linejoin="round" stroke-dasharray="1.8 1.4"/>
<path d="M75.7 1012.9 L76.97 1005.82 L78.23 998.87 L79.5 992.05 L80.77 985.36 L82.03 978.8 L83.3 972.36 L84.57 966.04 L85.84 959.84 L87.1 953.76 L88.37 947.79 L89.64 941.93 L90.9 936.19 L92.17 930.55 L93.44 925.02 L94.7 919.6 L95.97 914.27 L97.24 909.05 L98.5 903.93 L99.77 898.9 L101.04 893.96 L102.3 889.12 L103.57 884.38 L104.84 879.72 L106.11 875.15 L107.37 870.66 L108.64 866.26 L109.91 861.94 L111.17 857.71 L112.44 853.55 L113.71 849.47 L114.97 845.47 L116.24 841.54 L117.51 837.69 L118.77 833.91 L120.04 830.21 L121.31 826.57 L122.58 823 L123.84 819.5 L125.11 816.06 L128.1 819.4 L158.88 820.31 L242.06 821.21 L363.92 822.58" fill="none" stroke="#1b3a78" stroke-width="2.0" stroke-linecap="butt" stroke-linejoin="round" stroke-dasharray="4.6 2 1.4 2"/>
<text x="244.6" y="1052.3" font-size="14.6" text-anchor="middle" textLength="36.3" lengthAdjust="spacingAndGlyphs" stroke="#000" stroke-width="0.4">Seconds</text>
<text x="38.2" y="897" font-size="15" text-anchor="middle" textLength="12.2" lengthAdjust="spacingAndGlyphs" stroke="#000" stroke-width="0.4" transform="rotate(-90 38.2 897)">RU</text>
<line x1="388" y1="850.4" x2="411.5" y2="850.4" stroke="#a1002b" stroke-width="2" stroke-dasharray="1.8 1.4"/>
<text x="415.6" y="854.3" font-size="11.1" letter-spacing="0.05" stroke="#000" stroke-width="0.1">EDHu-1 SRCR 1-9</text>
<line x1="388" y1="871" x2="411.5" y2="871" stroke="#1b3a78" stroke-width="2" stroke-dasharray="4.6 2 1.4 2"/>
<text x="415.6" y="874.9" font-size="11.1" letter-spacing="0.05" stroke="#000" stroke-width="0.1">EDHu-1 SRCR 1-5</text>
<line x1="388" y1="891.6" x2="411.5" y2="891.6" stroke="#5a9e28" stroke-width="2"/>
<text x="415.6" y="895.5" font-size="11.1" letter-spacing="0.05" stroke="#000" stroke-width="0.1">II-1 SRCR 1-9</text>
<line x1="388" y1="912.2" x2="411.5" y2="912.2" stroke="#46125a" stroke-width="2" stroke-dasharray="7.7 8.5"/>
<text x="415.6" y="916.1" font-size="11.1" letter-spacing="0.05" stroke="#000" stroke-width="0.1">II-1 SRCR 1-5</text>
</svg><div id="bd"></div></div></body></html>
